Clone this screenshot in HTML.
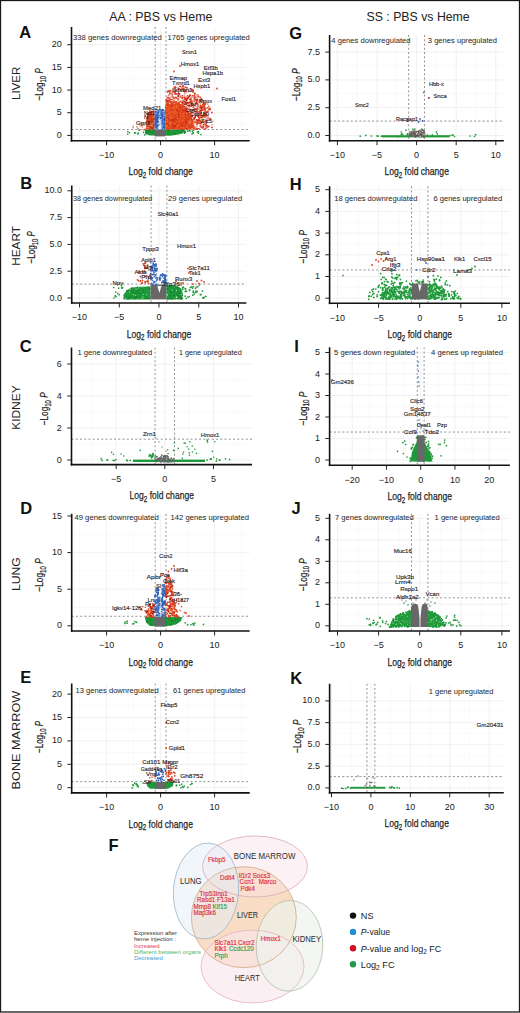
<!DOCTYPE html><html><head><meta charset="utf-8"><style>html,body{margin:0;padding:0;background:#fff;width:520px;height:1013px;overflow:hidden}svg{display:block}</style></head><body><svg width="520" height="1013" viewBox="0 0 520 1013" font-family="&quot;Liberation Sans&quot;, sans-serif">
<rect width="520" height="1013" fill="#fff"/>
<line x1="71.50" y1="124.06" x2="249.70" y2="124.06" stroke="#f5f5f5" stroke-width="0.6"/>
<line x1="71.50" y1="101.39" x2="249.70" y2="101.39" stroke="#f5f5f5" stroke-width="0.6"/>
<line x1="71.50" y1="78.71" x2="249.70" y2="78.71" stroke="#f5f5f5" stroke-width="0.6"/>
<line x1="71.50" y1="56.04" x2="249.70" y2="56.04" stroke="#f5f5f5" stroke-width="0.6"/>
<line x1="71.50" y1="33.36" x2="249.70" y2="33.36" stroke="#f5f5f5" stroke-width="0.6"/>
<line x1="79.60" y1="27.00" x2="79.60" y2="140.75" stroke="#f5f5f5" stroke-width="0.6"/>
<line x1="133.60" y1="27.00" x2="133.60" y2="140.75" stroke="#f5f5f5" stroke-width="0.6"/>
<line x1="187.60" y1="27.00" x2="187.60" y2="140.75" stroke="#f5f5f5" stroke-width="0.6"/>
<line x1="241.60" y1="27.00" x2="241.60" y2="140.75" stroke="#f5f5f5" stroke-width="0.6"/>
<line x1="71.50" y1="135.40" x2="249.70" y2="135.40" stroke="#eeeeee" stroke-width="0.8"/>
<line x1="71.50" y1="112.73" x2="249.70" y2="112.73" stroke="#eeeeee" stroke-width="0.8"/>
<line x1="71.50" y1="90.05" x2="249.70" y2="90.05" stroke="#eeeeee" stroke-width="0.8"/>
<line x1="71.50" y1="67.38" x2="249.70" y2="67.38" stroke="#eeeeee" stroke-width="0.8"/>
<line x1="71.50" y1="44.70" x2="249.70" y2="44.70" stroke="#eeeeee" stroke-width="0.8"/>
<line x1="106.60" y1="27.00" x2="106.60" y2="140.75" stroke="#eeeeee" stroke-width="0.8"/>
<line x1="160.60" y1="27.00" x2="160.60" y2="140.75" stroke="#eeeeee" stroke-width="0.8"/>
<line x1="214.60" y1="27.00" x2="214.60" y2="140.75" stroke="#eeeeee" stroke-width="0.8"/>
<line x1="71.75" y1="284.60" x2="246.30" y2="284.60" stroke="#f5f5f5" stroke-width="0.6"/>
<line x1="71.75" y1="257.80" x2="246.30" y2="257.80" stroke="#f5f5f5" stroke-width="0.6"/>
<line x1="71.75" y1="231.00" x2="246.30" y2="231.00" stroke="#f5f5f5" stroke-width="0.6"/>
<line x1="71.75" y1="204.20" x2="246.30" y2="204.20" stroke="#f5f5f5" stroke-width="0.6"/>
<line x1="99.38" y1="185.50" x2="99.38" y2="303.00" stroke="#f5f5f5" stroke-width="0.6"/>
<line x1="139.12" y1="185.50" x2="139.12" y2="303.00" stroke="#f5f5f5" stroke-width="0.6"/>
<line x1="178.88" y1="185.50" x2="178.88" y2="303.00" stroke="#f5f5f5" stroke-width="0.6"/>
<line x1="218.62" y1="185.50" x2="218.62" y2="303.00" stroke="#f5f5f5" stroke-width="0.6"/>
<line x1="71.75" y1="298.00" x2="246.30" y2="298.00" stroke="#eeeeee" stroke-width="0.8"/>
<line x1="71.75" y1="271.20" x2="246.30" y2="271.20" stroke="#eeeeee" stroke-width="0.8"/>
<line x1="71.75" y1="244.40" x2="246.30" y2="244.40" stroke="#eeeeee" stroke-width="0.8"/>
<line x1="71.75" y1="217.60" x2="246.30" y2="217.60" stroke="#eeeeee" stroke-width="0.8"/>
<line x1="71.75" y1="190.80" x2="246.30" y2="190.80" stroke="#eeeeee" stroke-width="0.8"/>
<line x1="79.50" y1="185.50" x2="79.50" y2="303.00" stroke="#eeeeee" stroke-width="0.8"/>
<line x1="119.25" y1="185.50" x2="119.25" y2="303.00" stroke="#eeeeee" stroke-width="0.8"/>
<line x1="159.00" y1="185.50" x2="159.00" y2="303.00" stroke="#eeeeee" stroke-width="0.8"/>
<line x1="198.75" y1="185.50" x2="198.75" y2="303.00" stroke="#eeeeee" stroke-width="0.8"/>
<line x1="238.50" y1="185.50" x2="238.50" y2="303.00" stroke="#eeeeee" stroke-width="0.8"/>
<line x1="71.50" y1="444.00" x2="252.00" y2="444.00" stroke="#f5f5f5" stroke-width="0.6"/>
<line x1="71.50" y1="412.00" x2="252.00" y2="412.00" stroke="#f5f5f5" stroke-width="0.6"/>
<line x1="71.50" y1="380.00" x2="252.00" y2="380.00" stroke="#f5f5f5" stroke-width="0.6"/>
<line x1="91.83" y1="347.50" x2="91.83" y2="464.60" stroke="#f5f5f5" stroke-width="0.6"/>
<line x1="140.48" y1="347.50" x2="140.48" y2="464.60" stroke="#f5f5f5" stroke-width="0.6"/>
<line x1="189.12" y1="347.50" x2="189.12" y2="464.60" stroke="#f5f5f5" stroke-width="0.6"/>
<line x1="237.78" y1="347.50" x2="237.78" y2="464.60" stroke="#f5f5f5" stroke-width="0.6"/>
<line x1="71.50" y1="460.00" x2="252.00" y2="460.00" stroke="#eeeeee" stroke-width="0.8"/>
<line x1="71.50" y1="428.00" x2="252.00" y2="428.00" stroke="#eeeeee" stroke-width="0.8"/>
<line x1="71.50" y1="396.00" x2="252.00" y2="396.00" stroke="#eeeeee" stroke-width="0.8"/>
<line x1="71.50" y1="364.00" x2="252.00" y2="364.00" stroke="#eeeeee" stroke-width="0.8"/>
<line x1="116.15" y1="347.50" x2="116.15" y2="464.60" stroke="#eeeeee" stroke-width="0.8"/>
<line x1="164.80" y1="347.50" x2="164.80" y2="464.60" stroke="#eeeeee" stroke-width="0.8"/>
<line x1="213.45" y1="347.50" x2="213.45" y2="464.60" stroke="#eeeeee" stroke-width="0.8"/>
<line x1="71.70" y1="607.50" x2="249.70" y2="607.50" stroke="#f5f5f5" stroke-width="0.6"/>
<line x1="71.70" y1="570.90" x2="249.70" y2="570.90" stroke="#f5f5f5" stroke-width="0.6"/>
<line x1="71.70" y1="534.30" x2="249.70" y2="534.30" stroke="#f5f5f5" stroke-width="0.6"/>
<line x1="79.60" y1="513.75" x2="79.60" y2="631.00" stroke="#f5f5f5" stroke-width="0.6"/>
<line x1="133.60" y1="513.75" x2="133.60" y2="631.00" stroke="#f5f5f5" stroke-width="0.6"/>
<line x1="187.60" y1="513.75" x2="187.60" y2="631.00" stroke="#f5f5f5" stroke-width="0.6"/>
<line x1="241.60" y1="513.75" x2="241.60" y2="631.00" stroke="#f5f5f5" stroke-width="0.6"/>
<line x1="71.70" y1="625.80" x2="249.70" y2="625.80" stroke="#eeeeee" stroke-width="0.8"/>
<line x1="71.70" y1="589.20" x2="249.70" y2="589.20" stroke="#eeeeee" stroke-width="0.8"/>
<line x1="71.70" y1="552.60" x2="249.70" y2="552.60" stroke="#eeeeee" stroke-width="0.8"/>
<line x1="71.70" y1="516.00" x2="249.70" y2="516.00" stroke="#eeeeee" stroke-width="0.8"/>
<line x1="106.60" y1="513.75" x2="106.60" y2="631.00" stroke="#eeeeee" stroke-width="0.8"/>
<line x1="160.60" y1="513.75" x2="160.60" y2="631.00" stroke="#eeeeee" stroke-width="0.8"/>
<line x1="214.60" y1="513.75" x2="214.60" y2="631.00" stroke="#eeeeee" stroke-width="0.8"/>
<line x1="71.70" y1="776.00" x2="249.70" y2="776.00" stroke="#f5f5f5" stroke-width="0.6"/>
<line x1="71.70" y1="752.60" x2="249.70" y2="752.60" stroke="#f5f5f5" stroke-width="0.6"/>
<line x1="71.70" y1="729.20" x2="249.70" y2="729.20" stroke="#f5f5f5" stroke-width="0.6"/>
<line x1="71.70" y1="705.80" x2="249.70" y2="705.80" stroke="#f5f5f5" stroke-width="0.6"/>
<line x1="79.60" y1="683.50" x2="79.60" y2="792.90" stroke="#f5f5f5" stroke-width="0.6"/>
<line x1="133.60" y1="683.50" x2="133.60" y2="792.90" stroke="#f5f5f5" stroke-width="0.6"/>
<line x1="187.60" y1="683.50" x2="187.60" y2="792.90" stroke="#f5f5f5" stroke-width="0.6"/>
<line x1="241.60" y1="683.50" x2="241.60" y2="792.90" stroke="#f5f5f5" stroke-width="0.6"/>
<line x1="71.70" y1="787.70" x2="249.70" y2="787.70" stroke="#eeeeee" stroke-width="0.8"/>
<line x1="71.70" y1="764.30" x2="249.70" y2="764.30" stroke="#eeeeee" stroke-width="0.8"/>
<line x1="71.70" y1="740.90" x2="249.70" y2="740.90" stroke="#eeeeee" stroke-width="0.8"/>
<line x1="71.70" y1="717.50" x2="249.70" y2="717.50" stroke="#eeeeee" stroke-width="0.8"/>
<line x1="71.70" y1="694.10" x2="249.70" y2="694.10" stroke="#eeeeee" stroke-width="0.8"/>
<line x1="106.60" y1="683.50" x2="106.60" y2="792.90" stroke="#eeeeee" stroke-width="0.8"/>
<line x1="160.60" y1="683.50" x2="160.60" y2="792.90" stroke="#eeeeee" stroke-width="0.8"/>
<line x1="214.60" y1="683.50" x2="214.60" y2="792.90" stroke="#eeeeee" stroke-width="0.8"/>
<line x1="329.60" y1="121.60" x2="503.80" y2="121.60" stroke="#f5f5f5" stroke-width="0.6"/>
<line x1="329.60" y1="93.80" x2="503.80" y2="93.80" stroke="#f5f5f5" stroke-width="0.6"/>
<line x1="329.60" y1="66.00" x2="503.80" y2="66.00" stroke="#f5f5f5" stroke-width="0.6"/>
<line x1="329.60" y1="38.20" x2="503.80" y2="38.20" stroke="#f5f5f5" stroke-width="0.6"/>
<line x1="357.20" y1="35.00" x2="357.20" y2="140.70" stroke="#f5f5f5" stroke-width="0.6"/>
<line x1="396.80" y1="35.00" x2="396.80" y2="140.70" stroke="#f5f5f5" stroke-width="0.6"/>
<line x1="436.40" y1="35.00" x2="436.40" y2="140.70" stroke="#f5f5f5" stroke-width="0.6"/>
<line x1="476.00" y1="35.00" x2="476.00" y2="140.70" stroke="#f5f5f5" stroke-width="0.6"/>
<line x1="329.60" y1="135.50" x2="503.80" y2="135.50" stroke="#eeeeee" stroke-width="0.8"/>
<line x1="329.60" y1="107.70" x2="503.80" y2="107.70" stroke="#eeeeee" stroke-width="0.8"/>
<line x1="329.60" y1="79.90" x2="503.80" y2="79.90" stroke="#eeeeee" stroke-width="0.8"/>
<line x1="329.60" y1="52.10" x2="503.80" y2="52.10" stroke="#eeeeee" stroke-width="0.8"/>
<line x1="337.40" y1="35.00" x2="337.40" y2="140.70" stroke="#eeeeee" stroke-width="0.8"/>
<line x1="377.00" y1="35.00" x2="377.00" y2="140.70" stroke="#eeeeee" stroke-width="0.8"/>
<line x1="416.60" y1="35.00" x2="416.60" y2="140.70" stroke="#eeeeee" stroke-width="0.8"/>
<line x1="456.20" y1="35.00" x2="456.20" y2="140.70" stroke="#eeeeee" stroke-width="0.8"/>
<line x1="495.80" y1="35.00" x2="495.80" y2="140.70" stroke="#eeeeee" stroke-width="0.8"/>
<line x1="329.60" y1="287.35" x2="509.90" y2="287.35" stroke="#f5f5f5" stroke-width="0.6"/>
<line x1="329.60" y1="265.65" x2="509.90" y2="265.65" stroke="#f5f5f5" stroke-width="0.6"/>
<line x1="329.60" y1="243.95" x2="509.90" y2="243.95" stroke="#f5f5f5" stroke-width="0.6"/>
<line x1="329.60" y1="222.25" x2="509.90" y2="222.25" stroke="#f5f5f5" stroke-width="0.6"/>
<line x1="329.60" y1="200.55" x2="509.90" y2="200.55" stroke="#f5f5f5" stroke-width="0.6"/>
<line x1="358.05" y1="186.25" x2="358.05" y2="303.30" stroke="#f5f5f5" stroke-width="0.6"/>
<line x1="399.15" y1="186.25" x2="399.15" y2="303.30" stroke="#f5f5f5" stroke-width="0.6"/>
<line x1="440.25" y1="186.25" x2="440.25" y2="303.30" stroke="#f5f5f5" stroke-width="0.6"/>
<line x1="481.35" y1="186.25" x2="481.35" y2="303.30" stroke="#f5f5f5" stroke-width="0.6"/>
<line x1="329.60" y1="298.20" x2="509.90" y2="298.20" stroke="#eeeeee" stroke-width="0.8"/>
<line x1="329.60" y1="276.50" x2="509.90" y2="276.50" stroke="#eeeeee" stroke-width="0.8"/>
<line x1="329.60" y1="254.80" x2="509.90" y2="254.80" stroke="#eeeeee" stroke-width="0.8"/>
<line x1="329.60" y1="233.10" x2="509.90" y2="233.10" stroke="#eeeeee" stroke-width="0.8"/>
<line x1="329.60" y1="211.40" x2="509.90" y2="211.40" stroke="#eeeeee" stroke-width="0.8"/>
<line x1="329.60" y1="189.70" x2="509.90" y2="189.70" stroke="#eeeeee" stroke-width="0.8"/>
<line x1="337.50" y1="186.25" x2="337.50" y2="303.30" stroke="#eeeeee" stroke-width="0.8"/>
<line x1="378.60" y1="186.25" x2="378.60" y2="303.30" stroke="#eeeeee" stroke-width="0.8"/>
<line x1="419.70" y1="186.25" x2="419.70" y2="303.30" stroke="#eeeeee" stroke-width="0.8"/>
<line x1="460.80" y1="186.25" x2="460.80" y2="303.30" stroke="#eeeeee" stroke-width="0.8"/>
<line x1="501.90" y1="186.25" x2="501.90" y2="303.30" stroke="#eeeeee" stroke-width="0.8"/>
<line x1="329.60" y1="449.25" x2="509.90" y2="449.25" stroke="#f5f5f5" stroke-width="0.6"/>
<line x1="329.60" y1="427.75" x2="509.90" y2="427.75" stroke="#f5f5f5" stroke-width="0.6"/>
<line x1="329.60" y1="406.25" x2="509.90" y2="406.25" stroke="#f5f5f5" stroke-width="0.6"/>
<line x1="329.60" y1="384.75" x2="509.90" y2="384.75" stroke="#f5f5f5" stroke-width="0.6"/>
<line x1="329.60" y1="363.25" x2="509.90" y2="363.25" stroke="#f5f5f5" stroke-width="0.6"/>
<line x1="335.07" y1="347.30" x2="335.07" y2="465.20" stroke="#f5f5f5" stroke-width="0.6"/>
<line x1="369.32" y1="347.30" x2="369.32" y2="465.20" stroke="#f5f5f5" stroke-width="0.6"/>
<line x1="403.57" y1="347.30" x2="403.57" y2="465.20" stroke="#f5f5f5" stroke-width="0.6"/>
<line x1="437.82" y1="347.30" x2="437.82" y2="465.20" stroke="#f5f5f5" stroke-width="0.6"/>
<line x1="472.07" y1="347.30" x2="472.07" y2="465.20" stroke="#f5f5f5" stroke-width="0.6"/>
<line x1="329.60" y1="460.00" x2="509.90" y2="460.00" stroke="#eeeeee" stroke-width="0.8"/>
<line x1="329.60" y1="438.50" x2="509.90" y2="438.50" stroke="#eeeeee" stroke-width="0.8"/>
<line x1="329.60" y1="417.00" x2="509.90" y2="417.00" stroke="#eeeeee" stroke-width="0.8"/>
<line x1="329.60" y1="395.50" x2="509.90" y2="395.50" stroke="#eeeeee" stroke-width="0.8"/>
<line x1="329.60" y1="374.00" x2="509.90" y2="374.00" stroke="#eeeeee" stroke-width="0.8"/>
<line x1="329.60" y1="352.50" x2="509.90" y2="352.50" stroke="#eeeeee" stroke-width="0.8"/>
<line x1="352.20" y1="347.30" x2="352.20" y2="465.20" stroke="#eeeeee" stroke-width="0.8"/>
<line x1="386.45" y1="347.30" x2="386.45" y2="465.20" stroke="#eeeeee" stroke-width="0.8"/>
<line x1="420.70" y1="347.30" x2="420.70" y2="465.20" stroke="#eeeeee" stroke-width="0.8"/>
<line x1="454.95" y1="347.30" x2="454.95" y2="465.20" stroke="#eeeeee" stroke-width="0.8"/>
<line x1="489.20" y1="347.30" x2="489.20" y2="465.20" stroke="#eeeeee" stroke-width="0.8"/>
<line x1="329.60" y1="615.05" x2="509.90" y2="615.05" stroke="#f5f5f5" stroke-width="0.6"/>
<line x1="329.60" y1="593.55" x2="509.90" y2="593.55" stroke="#f5f5f5" stroke-width="0.6"/>
<line x1="329.60" y1="572.05" x2="509.90" y2="572.05" stroke="#f5f5f5" stroke-width="0.6"/>
<line x1="329.60" y1="550.55" x2="509.90" y2="550.55" stroke="#f5f5f5" stroke-width="0.6"/>
<line x1="329.60" y1="529.05" x2="509.90" y2="529.05" stroke="#f5f5f5" stroke-width="0.6"/>
<line x1="358.05" y1="513.75" x2="358.05" y2="631.00" stroke="#f5f5f5" stroke-width="0.6"/>
<line x1="399.15" y1="513.75" x2="399.15" y2="631.00" stroke="#f5f5f5" stroke-width="0.6"/>
<line x1="440.25" y1="513.75" x2="440.25" y2="631.00" stroke="#f5f5f5" stroke-width="0.6"/>
<line x1="481.35" y1="513.75" x2="481.35" y2="631.00" stroke="#f5f5f5" stroke-width="0.6"/>
<line x1="329.60" y1="625.80" x2="509.90" y2="625.80" stroke="#eeeeee" stroke-width="0.8"/>
<line x1="329.60" y1="604.30" x2="509.90" y2="604.30" stroke="#eeeeee" stroke-width="0.8"/>
<line x1="329.60" y1="582.80" x2="509.90" y2="582.80" stroke="#eeeeee" stroke-width="0.8"/>
<line x1="329.60" y1="561.30" x2="509.90" y2="561.30" stroke="#eeeeee" stroke-width="0.8"/>
<line x1="329.60" y1="539.80" x2="509.90" y2="539.80" stroke="#eeeeee" stroke-width="0.8"/>
<line x1="329.60" y1="518.30" x2="509.90" y2="518.30" stroke="#eeeeee" stroke-width="0.8"/>
<line x1="337.50" y1="513.75" x2="337.50" y2="631.00" stroke="#eeeeee" stroke-width="0.8"/>
<line x1="378.60" y1="513.75" x2="378.60" y2="631.00" stroke="#eeeeee" stroke-width="0.8"/>
<line x1="419.70" y1="513.75" x2="419.70" y2="631.00" stroke="#eeeeee" stroke-width="0.8"/>
<line x1="460.80" y1="513.75" x2="460.80" y2="631.00" stroke="#eeeeee" stroke-width="0.8"/>
<line x1="501.90" y1="513.75" x2="501.90" y2="631.00" stroke="#eeeeee" stroke-width="0.8"/>
<line x1="329.60" y1="777.02" x2="503.80" y2="777.02" stroke="#f5f5f5" stroke-width="0.6"/>
<line x1="329.60" y1="755.27" x2="503.80" y2="755.27" stroke="#f5f5f5" stroke-width="0.6"/>
<line x1="329.60" y1="733.52" x2="503.80" y2="733.52" stroke="#f5f5f5" stroke-width="0.6"/>
<line x1="329.60" y1="711.77" x2="503.80" y2="711.77" stroke="#f5f5f5" stroke-width="0.6"/>
<line x1="351.19" y1="683.75" x2="351.19" y2="792.80" stroke="#f5f5f5" stroke-width="0.6"/>
<line x1="390.61" y1="683.75" x2="390.61" y2="792.80" stroke="#f5f5f5" stroke-width="0.6"/>
<line x1="430.04" y1="683.75" x2="430.04" y2="792.80" stroke="#f5f5f5" stroke-width="0.6"/>
<line x1="469.47" y1="683.75" x2="469.47" y2="792.80" stroke="#f5f5f5" stroke-width="0.6"/>
<line x1="329.60" y1="787.90" x2="503.80" y2="787.90" stroke="#eeeeee" stroke-width="0.8"/>
<line x1="329.60" y1="766.15" x2="503.80" y2="766.15" stroke="#eeeeee" stroke-width="0.8"/>
<line x1="329.60" y1="744.40" x2="503.80" y2="744.40" stroke="#eeeeee" stroke-width="0.8"/>
<line x1="329.60" y1="722.65" x2="503.80" y2="722.65" stroke="#eeeeee" stroke-width="0.8"/>
<line x1="329.60" y1="700.90" x2="503.80" y2="700.90" stroke="#eeeeee" stroke-width="0.8"/>
<line x1="331.47" y1="683.75" x2="331.47" y2="792.80" stroke="#eeeeee" stroke-width="0.8"/>
<line x1="370.90" y1="683.75" x2="370.90" y2="792.80" stroke="#eeeeee" stroke-width="0.8"/>
<line x1="410.33" y1="683.75" x2="410.33" y2="792.80" stroke="#eeeeee" stroke-width="0.8"/>
<line x1="449.76" y1="683.75" x2="449.76" y2="792.80" stroke="#eeeeee" stroke-width="0.8"/>
<line x1="489.19" y1="683.75" x2="489.19" y2="792.80" stroke="#eeeeee" stroke-width="0.8"/>
<line x1="71.50" y1="129.50" x2="249.70" y2="129.50" stroke="#777777" stroke-width="0.8" stroke-dasharray="2,2.25"/>
<line x1="155.20" y1="27.00" x2="155.20" y2="140.75" stroke="#777777" stroke-width="0.8" stroke-dasharray="2,2.25"/>
<line x1="166.00" y1="27.00" x2="166.00" y2="140.75" stroke="#777777" stroke-width="0.8" stroke-dasharray="2,2.25"/>
<line x1="71.75" y1="284.06" x2="246.30" y2="284.06" stroke="#777777" stroke-width="0.8" stroke-dasharray="2,2.25"/>
<line x1="151.05" y1="185.50" x2="151.05" y2="303.00" stroke="#777777" stroke-width="0.8" stroke-dasharray="2,2.25"/>
<line x1="166.95" y1="185.50" x2="166.95" y2="303.00" stroke="#777777" stroke-width="0.8" stroke-dasharray="2,2.25"/>
<line x1="71.50" y1="439.20" x2="252.00" y2="439.20" stroke="#777777" stroke-width="0.8" stroke-dasharray="2,2.25"/>
<line x1="155.07" y1="347.50" x2="155.07" y2="464.60" stroke="#777777" stroke-width="0.8" stroke-dasharray="2,2.25"/>
<line x1="174.53" y1="347.50" x2="174.53" y2="464.60" stroke="#777777" stroke-width="0.8" stroke-dasharray="2,2.25"/>
<line x1="71.70" y1="616.28" x2="249.70" y2="616.28" stroke="#777777" stroke-width="0.8" stroke-dasharray="2,2.25"/>
<line x1="155.20" y1="513.75" x2="155.20" y2="631.00" stroke="#777777" stroke-width="0.8" stroke-dasharray="2,2.25"/>
<line x1="166.00" y1="513.75" x2="166.00" y2="631.00" stroke="#777777" stroke-width="0.8" stroke-dasharray="2,2.25"/>
<line x1="71.70" y1="781.62" x2="249.70" y2="781.62" stroke="#777777" stroke-width="0.8" stroke-dasharray="2,2.25"/>
<line x1="155.20" y1="683.50" x2="155.20" y2="792.90" stroke="#777777" stroke-width="0.8" stroke-dasharray="2,2.25"/>
<line x1="166.00" y1="683.50" x2="166.00" y2="792.90" stroke="#777777" stroke-width="0.8" stroke-dasharray="2,2.25"/>
<line x1="329.60" y1="121.04" x2="503.80" y2="121.04" stroke="#777777" stroke-width="0.8" stroke-dasharray="2,2.25"/>
<line x1="408.68" y1="35.00" x2="408.68" y2="140.70" stroke="#777777" stroke-width="0.8" stroke-dasharray="2,2.25"/>
<line x1="424.52" y1="35.00" x2="424.52" y2="140.70" stroke="#777777" stroke-width="0.8" stroke-dasharray="2,2.25"/>
<line x1="329.60" y1="269.99" x2="509.90" y2="269.99" stroke="#777777" stroke-width="0.8" stroke-dasharray="2,2.25"/>
<line x1="411.48" y1="186.25" x2="411.48" y2="303.30" stroke="#777777" stroke-width="0.8" stroke-dasharray="2,2.25"/>
<line x1="427.92" y1="186.25" x2="427.92" y2="303.30" stroke="#777777" stroke-width="0.8" stroke-dasharray="2,2.25"/>
<line x1="329.60" y1="432.05" x2="509.90" y2="432.05" stroke="#777777" stroke-width="0.8" stroke-dasharray="2,2.25"/>
<line x1="417.27" y1="347.30" x2="417.27" y2="465.20" stroke="#777777" stroke-width="0.8" stroke-dasharray="2,2.25"/>
<line x1="424.12" y1="347.30" x2="424.12" y2="465.20" stroke="#777777" stroke-width="0.8" stroke-dasharray="2,2.25"/>
<line x1="329.60" y1="597.85" x2="509.90" y2="597.85" stroke="#777777" stroke-width="0.8" stroke-dasharray="2,2.25"/>
<line x1="411.48" y1="513.75" x2="411.48" y2="631.00" stroke="#777777" stroke-width="0.8" stroke-dasharray="2,2.25"/>
<line x1="427.92" y1="513.75" x2="427.92" y2="631.00" stroke="#777777" stroke-width="0.8" stroke-dasharray="2,2.25"/>
<line x1="329.60" y1="776.59" x2="503.80" y2="776.59" stroke="#777777" stroke-width="0.8" stroke-dasharray="2,2.25"/>
<line x1="366.96" y1="683.75" x2="366.96" y2="792.80" stroke="#777777" stroke-width="0.8" stroke-dasharray="2,2.25"/>
<line x1="374.84" y1="683.75" x2="374.84" y2="792.80" stroke="#777777" stroke-width="0.8" stroke-dasharray="2,2.25"/>
<g fill="#1f9a3a"><circle cx="134.6" cy="132.8" r="0.85"/><circle cx="143.6" cy="132.3" r="0.85"/><circle cx="135.6" cy="132.9" r="0.85"/><circle cx="129.5" cy="132.6" r="0.85"/><circle cx="138.0" cy="134.0" r="0.85"/><circle cx="127.8" cy="131.5" r="0.85"/><circle cx="127.7" cy="134.0" r="0.85"/><circle cx="139.2" cy="130.2" r="0.85"/><circle cx="144.7" cy="134.8" r="0.85"/><circle cx="138.4" cy="133.1" r="0.85"/></g>
<g fill="#1f9a3a"><circle cx="187.5" cy="130.1" r="0.85"/><circle cx="193.5" cy="130.3" r="0.85"/><circle cx="188.0" cy="131.1" r="0.85"/><circle cx="185.5" cy="132.1" r="0.85"/><circle cx="192.0" cy="133.8" r="0.85"/><circle cx="193.3" cy="132.9" r="0.85"/><circle cx="193.0" cy="133.0" r="0.85"/><circle cx="192.3" cy="131.3" r="0.85"/><circle cx="201.0" cy="134.5" r="0.85"/><circle cx="198.4" cy="133.2" r="0.85"/><circle cx="190.0" cy="131.0" r="0.85"/><circle cx="189.6" cy="130.3" r="0.85"/><circle cx="197.3" cy="131.8" r="0.85"/><circle cx="198.5" cy="131.7" r="0.85"/></g>
<polygon points="145.0,129.4 185.0,129.4 184.5,132.0 180.0,134.3 170.0,135.8 150.0,135.6 146.0,134.0 145.0,131.5" fill="#1f9a3a"/>
<g fill="#168a30"><circle cx="184.3" cy="133.2" r="0.7"/><circle cx="145.0" cy="130.0" r="0.7"/><circle cx="182.3" cy="131.3" r="0.7"/><circle cx="185.2" cy="131.0" r="0.7"/><circle cx="148.0" cy="132.1" r="0.7"/><circle cx="176.9" cy="130.3" r="0.7"/><circle cx="148.6" cy="130.7" r="0.7"/><circle cx="184.5" cy="132.8" r="0.7"/><circle cx="149.8" cy="130.2" r="0.7"/><circle cx="149.1" cy="129.3" r="0.7"/><circle cx="177.7" cy="129.9" r="0.7"/><circle cx="167.9" cy="131.2" r="0.7"/><circle cx="152.8" cy="132.7" r="0.7"/><circle cx="150.4" cy="132.2" r="0.7"/><circle cx="149.8" cy="131.1" r="0.7"/><circle cx="153.7" cy="130.3" r="0.7"/><circle cx="184.8" cy="133.0" r="0.7"/><circle cx="157.5" cy="133.4" r="0.7"/><circle cx="153.6" cy="131.0" r="0.7"/><circle cx="180.0" cy="132.2" r="0.7"/><circle cx="149.1" cy="133.9" r="0.7"/><circle cx="153.7" cy="130.3" r="0.7"/><circle cx="176.7" cy="130.6" r="0.7"/><circle cx="157.1" cy="129.4" r="0.7"/><circle cx="148.7" cy="131.9" r="0.7"/><circle cx="155.0" cy="132.0" r="0.7"/><circle cx="160.2" cy="131.3" r="0.7"/><circle cx="184.3" cy="131.4" r="0.7"/><circle cx="168.6" cy="133.3" r="0.7"/><circle cx="152.5" cy="129.8" r="0.7"/><circle cx="182.2" cy="133.1" r="0.7"/><circle cx="155.2" cy="129.9" r="0.7"/><circle cx="175.3" cy="133.7" r="0.7"/><circle cx="153.1" cy="133.8" r="0.7"/><circle cx="181.2" cy="132.0" r="0.7"/><circle cx="162.3" cy="129.5" r="0.7"/><circle cx="146.6" cy="133.8" r="0.7"/><circle cx="154.8" cy="132.5" r="0.7"/><circle cx="155.5" cy="133.1" r="0.7"/><circle cx="169.5" cy="130.5" r="0.7"/><circle cx="152.2" cy="132.6" r="0.7"/><circle cx="147.8" cy="130.1" r="0.7"/><circle cx="167.9" cy="133.3" r="0.7"/><circle cx="170.2" cy="130.4" r="0.7"/><circle cx="182.6" cy="130.0" r="0.7"/><circle cx="145.7" cy="130.3" r="0.7"/><circle cx="163.3" cy="129.3" r="0.7"/><circle cx="152.2" cy="130.8" r="0.7"/><circle cx="168.5" cy="129.7" r="0.7"/><circle cx="159.8" cy="133.5" r="0.7"/><circle cx="185.2" cy="132.3" r="0.7"/><circle cx="173.3" cy="131.9" r="0.7"/><circle cx="150.8" cy="129.2" r="0.7"/><circle cx="145.7" cy="133.6" r="0.7"/><circle cx="173.7" cy="133.8" r="0.7"/><circle cx="145.9" cy="132.2" r="0.7"/><circle cx="164.8" cy="132.7" r="0.7"/><circle cx="158.1" cy="134.0" r="0.7"/><circle cx="148.1" cy="131.7" r="0.7"/><circle cx="175.2" cy="133.5" r="0.7"/></g>
<rect x="154.6" y="129.4" width="10.6" height="7.0" fill="#676767"/>
<g fill="#e0604a" fill-opacity="0.8"><circle cx="142.3" cy="127.1" r="0.8"/><circle cx="143.1" cy="129.9" r="0.8"/><circle cx="136.9" cy="126.9" r="0.8"/><circle cx="144.6" cy="129.3" r="0.8"/><circle cx="137.8" cy="128.3" r="0.8"/><circle cx="144.1" cy="125.4" r="0.8"/><circle cx="140.7" cy="123.0" r="0.8"/><circle cx="140.2" cy="125.9" r="0.8"/><circle cx="133.1" cy="126.3" r="0.8"/><circle cx="145.9" cy="129.4" r="0.8"/><circle cx="142.2" cy="123.0" r="0.8"/><circle cx="142.3" cy="125.6" r="0.8"/><circle cx="138.2" cy="128.9" r="0.8"/><circle cx="133.2" cy="127.8" r="0.8"/></g>
<polygon points="146.0,129.4 146.3,120.0 147.5,113.0 150.0,110.8 154.6,110.5 154.6,129.4" fill="#e24a1e"/>
<g fill="#c4301a"><circle cx="146.3" cy="121.9" r="0.8"/><circle cx="150.1" cy="114.9" r="0.8"/><circle cx="152.0" cy="119.9" r="0.8"/><circle cx="151.3" cy="127.9" r="0.8"/><circle cx="148.6" cy="123.3" r="0.8"/><circle cx="147.7" cy="113.7" r="0.8"/><circle cx="153.8" cy="123.0" r="0.8"/><circle cx="149.8" cy="127.4" r="0.8"/><circle cx="148.8" cy="123.1" r="0.8"/><circle cx="147.7" cy="118.6" r="0.8"/><circle cx="152.9" cy="127.8" r="0.8"/><circle cx="153.6" cy="117.8" r="0.8"/><circle cx="151.0" cy="116.5" r="0.8"/><circle cx="147.2" cy="119.9" r="0.8"/><circle cx="153.2" cy="126.5" r="0.8"/><circle cx="152.1" cy="128.5" r="0.8"/><circle cx="148.4" cy="113.7" r="0.8"/><circle cx="149.9" cy="115.7" r="0.8"/><circle cx="147.8" cy="118.3" r="0.8"/><circle cx="151.4" cy="119.8" r="0.8"/><circle cx="148.7" cy="126.4" r="0.8"/><circle cx="154.4" cy="119.1" r="0.8"/><circle cx="153.5" cy="111.3" r="0.8"/><circle cx="152.1" cy="121.3" r="0.8"/><circle cx="148.7" cy="125.5" r="0.8"/><circle cx="149.9" cy="111.0" r="0.8"/><circle cx="153.1" cy="115.0" r="0.8"/><circle cx="151.4" cy="118.9" r="0.8"/><circle cx="151.4" cy="122.9" r="0.8"/><circle cx="152.9" cy="128.6" r="0.8"/><circle cx="151.9" cy="114.3" r="0.8"/><circle cx="150.1" cy="113.9" r="0.8"/><circle cx="152.1" cy="113.9" r="0.8"/><circle cx="148.3" cy="117.0" r="0.8"/><circle cx="152.0" cy="120.3" r="0.8"/><circle cx="151.3" cy="124.8" r="0.8"/><circle cx="149.4" cy="125.5" r="0.8"/><circle cx="153.8" cy="112.1" r="0.8"/><circle cx="154.0" cy="124.2" r="0.8"/><circle cx="147.1" cy="119.1" r="0.8"/><circle cx="151.4" cy="127.7" r="0.8"/><circle cx="149.2" cy="121.3" r="0.8"/><circle cx="153.6" cy="125.6" r="0.8"/><circle cx="154.1" cy="119.3" r="0.8"/><circle cx="151.6" cy="114.4" r="0.8"/></g>
<g fill="#f08a60"><circle cx="152.2" cy="126.0" r="0.7"/><circle cx="151.5" cy="124.1" r="0.7"/><circle cx="147.8" cy="127.5" r="0.7"/><circle cx="154.4" cy="129.0" r="0.7"/><circle cx="150.6" cy="125.4" r="0.7"/><circle cx="148.8" cy="127.7" r="0.7"/><circle cx="153.4" cy="117.1" r="0.7"/><circle cx="146.7" cy="118.8" r="0.7"/><circle cx="150.7" cy="125.0" r="0.7"/><circle cx="150.2" cy="111.0" r="0.7"/><circle cx="153.0" cy="111.7" r="0.7"/><circle cx="152.9" cy="113.8" r="0.7"/><circle cx="148.9" cy="125.4" r="0.7"/><circle cx="150.4" cy="124.2" r="0.7"/><circle cx="153.2" cy="123.5" r="0.7"/></g>
<polygon points="154.6,129.4 154.6,111.0 157.0,109.5 160.0,110.5 163.0,109.0 165.3,110.5 165.3,129.4" fill="#3d6cc0"/>
<polygon points="158.0,129.2 158.2,118.0 159.6,110.5 161.2,118.0 161.8,129.2" fill="#c4d6f0"/>
<polygon points="158.9,129.2 159.1,120.0 159.6,114.0 160.2,120.0 160.6,129.2" fill="#eef3fb"/>
<g fill="#2a55a8"><circle cx="164.7" cy="119.0" r="0.75"/><circle cx="164.8" cy="110.8" r="0.75"/><circle cx="157.0" cy="119.7" r="0.75"/><circle cx="157.7" cy="123.9" r="0.75"/><circle cx="161.4" cy="119.7" r="0.75"/><circle cx="163.6" cy="120.4" r="0.75"/><circle cx="157.9" cy="116.8" r="0.75"/><circle cx="163.6" cy="127.4" r="0.75"/><circle cx="156.8" cy="126.4" r="0.75"/><circle cx="165.0" cy="119.7" r="0.75"/><circle cx="160.7" cy="113.1" r="0.75"/><circle cx="160.3" cy="119.3" r="0.75"/><circle cx="165.0" cy="119.5" r="0.75"/><circle cx="158.9" cy="125.3" r="0.75"/><circle cx="160.6" cy="119.0" r="0.75"/><circle cx="162.0" cy="110.3" r="0.75"/><circle cx="160.4" cy="117.4" r="0.75"/><circle cx="164.8" cy="127.8" r="0.75"/><circle cx="157.5" cy="118.7" r="0.75"/><circle cx="156.0" cy="117.8" r="0.75"/><circle cx="163.3" cy="127.4" r="0.75"/><circle cx="159.7" cy="115.5" r="0.75"/><circle cx="156.6" cy="121.6" r="0.75"/><circle cx="164.5" cy="111.6" r="0.75"/><circle cx="162.9" cy="109.5" r="0.75"/><circle cx="156.7" cy="113.6" r="0.75"/><circle cx="162.0" cy="115.6" r="0.75"/><circle cx="158.4" cy="121.6" r="0.75"/><circle cx="155.7" cy="123.9" r="0.75"/><circle cx="155.9" cy="119.4" r="0.75"/><circle cx="157.3" cy="113.0" r="0.75"/><circle cx="160.3" cy="117.9" r="0.75"/><circle cx="158.6" cy="117.4" r="0.75"/><circle cx="160.3" cy="112.3" r="0.75"/><circle cx="156.8" cy="121.9" r="0.75"/></g>
<g fill="#9dbbe8"><circle cx="161.4" cy="119.8" r="0.7"/><circle cx="163.7" cy="121.5" r="0.7"/><circle cx="163.8" cy="113.7" r="0.7"/><circle cx="162.5" cy="125.5" r="0.7"/><circle cx="164.3" cy="115.4" r="0.7"/><circle cx="158.0" cy="127.8" r="0.7"/><circle cx="156.9" cy="129.4" r="0.7"/><circle cx="164.1" cy="111.7" r="0.7"/><circle cx="157.2" cy="123.8" r="0.7"/><circle cx="157.4" cy="111.0" r="0.7"/><circle cx="163.5" cy="117.6" r="0.7"/><circle cx="163.1" cy="111.6" r="0.7"/><circle cx="158.9" cy="123.0" r="0.7"/><circle cx="154.8" cy="113.1" r="0.7"/><circle cx="161.9" cy="127.6" r="0.7"/><circle cx="165.0" cy="111.4" r="0.7"/><circle cx="160.0" cy="124.5" r="0.7"/><circle cx="160.0" cy="123.0" r="0.7"/><circle cx="156.6" cy="110.4" r="0.7"/><circle cx="160.5" cy="119.5" r="0.7"/><circle cx="160.7" cy="112.0" r="0.7"/><circle cx="156.6" cy="113.2" r="0.7"/><circle cx="163.6" cy="129.2" r="0.7"/><circle cx="164.5" cy="110.9" r="0.7"/><circle cx="155.3" cy="128.4" r="0.7"/></g>
<g fill="#dc4420"><circle cx="184.6" cy="119.1" r="0.95"/><circle cx="184.8" cy="108.1" r="0.95"/><circle cx="194.6" cy="122.6" r="0.95"/><circle cx="184.3" cy="118.0" r="0.95"/><circle cx="198.8" cy="116.4" r="0.95"/><circle cx="191.6" cy="103.3" r="0.95"/><circle cx="196.4" cy="119.7" r="0.95"/><circle cx="202.0" cy="116.0" r="0.95"/><circle cx="197.2" cy="103.3" r="0.95"/><circle cx="168.3" cy="100.5" r="0.95"/><circle cx="192.0" cy="112.9" r="0.95"/><circle cx="204.7" cy="114.7" r="0.95"/><circle cx="192.8" cy="110.5" r="0.95"/><circle cx="192.1" cy="116.3" r="0.95"/><circle cx="191.0" cy="117.9" r="0.95"/><circle cx="182.1" cy="87.7" r="0.95"/><circle cx="181.0" cy="89.8" r="0.95"/><circle cx="203.1" cy="109.6" r="0.95"/><circle cx="191.9" cy="121.0" r="0.95"/><circle cx="190.3" cy="118.8" r="0.95"/><circle cx="204.7" cy="104.0" r="0.95"/><circle cx="190.3" cy="101.5" r="0.95"/><circle cx="192.7" cy="110.1" r="0.95"/><circle cx="195.2" cy="98.5" r="0.95"/><circle cx="175.6" cy="87.4" r="0.95"/><circle cx="196.8" cy="102.6" r="0.95"/><circle cx="206.5" cy="127.0" r="0.95"/><circle cx="203.1" cy="104.4" r="0.95"/><circle cx="187.2" cy="126.6" r="0.95"/><circle cx="199.4" cy="112.0" r="0.95"/><circle cx="191.4" cy="105.5" r="0.95"/><circle cx="170.6" cy="104.9" r="0.95"/><circle cx="184.4" cy="97.0" r="0.95"/><circle cx="182.9" cy="119.7" r="0.95"/><circle cx="206.9" cy="127.3" r="0.95"/><circle cx="198.0" cy="112.9" r="0.95"/><circle cx="176.7" cy="115.6" r="0.95"/><circle cx="190.0" cy="113.3" r="0.95"/><circle cx="203.5" cy="124.1" r="0.95"/><circle cx="167.9" cy="97.4" r="0.95"/><circle cx="193.5" cy="109.7" r="0.95"/><circle cx="180.9" cy="106.5" r="0.95"/><circle cx="179.7" cy="118.2" r="0.95"/><circle cx="191.3" cy="119.2" r="0.95"/><circle cx="178.9" cy="109.6" r="0.95"/><circle cx="203.7" cy="104.3" r="0.95"/><circle cx="188.9" cy="106.8" r="0.95"/><circle cx="168.8" cy="98.8" r="0.95"/><circle cx="194.3" cy="97.9" r="0.95"/><circle cx="180.3" cy="117.4" r="0.95"/><circle cx="189.1" cy="125.8" r="0.95"/><circle cx="203.4" cy="104.7" r="0.95"/><circle cx="178.1" cy="99.4" r="0.95"/><circle cx="204.3" cy="124.8" r="0.95"/><circle cx="180.4" cy="101.5" r="0.95"/><circle cx="181.9" cy="102.5" r="0.95"/><circle cx="188.9" cy="120.5" r="0.95"/><circle cx="200.2" cy="110.2" r="0.95"/><circle cx="197.0" cy="124.2" r="0.95"/><circle cx="192.5" cy="120.8" r="0.95"/><circle cx="188.1" cy="120.1" r="0.95"/><circle cx="192.4" cy="96.3" r="0.95"/><circle cx="197.2" cy="108.4" r="0.95"/><circle cx="193.4" cy="107.2" r="0.95"/><circle cx="195.4" cy="116.6" r="0.95"/><circle cx="182.5" cy="121.8" r="0.95"/><circle cx="200.9" cy="120.9" r="0.95"/><circle cx="202.4" cy="127.5" r="0.95"/><circle cx="187.2" cy="116.7" r="0.95"/><circle cx="182.9" cy="104.0" r="0.95"/><circle cx="196.2" cy="129.0" r="0.95"/><circle cx="172.4" cy="94.5" r="0.95"/><circle cx="167.9" cy="99.0" r="0.95"/><circle cx="192.4" cy="119.6" r="0.95"/><circle cx="168.0" cy="105.6" r="0.95"/><circle cx="169.9" cy="93.6" r="0.95"/><circle cx="190.1" cy="95.3" r="0.95"/><circle cx="178.4" cy="109.6" r="0.95"/><circle cx="188.2" cy="127.5" r="0.95"/><circle cx="198.7" cy="102.4" r="0.95"/><circle cx="192.8" cy="95.9" r="0.95"/><circle cx="185.1" cy="101.8" r="0.95"/><circle cx="195.1" cy="112.1" r="0.95"/><circle cx="171.9" cy="99.6" r="0.95"/><circle cx="201.6" cy="108.2" r="0.95"/><circle cx="200.6" cy="121.6" r="0.95"/><circle cx="169.4" cy="106.6" r="0.95"/><circle cx="205.1" cy="111.3" r="0.95"/><circle cx="174.1" cy="109.4" r="0.95"/><circle cx="178.4" cy="99.1" r="0.95"/><circle cx="178.1" cy="106.0" r="0.95"/><circle cx="180.4" cy="115.7" r="0.95"/><circle cx="199.9" cy="114.2" r="0.95"/><circle cx="181.1" cy="116.7" r="0.95"/><circle cx="188.9" cy="105.6" r="0.95"/><circle cx="206.7" cy="120.6" r="0.95"/><circle cx="191.0" cy="98.2" r="0.95"/><circle cx="187.9" cy="98.6" r="0.95"/><circle cx="181.7" cy="114.8" r="0.95"/><circle cx="188.8" cy="117.3" r="0.95"/><circle cx="194.9" cy="93.4" r="0.95"/><circle cx="200.2" cy="111.5" r="0.95"/><circle cx="174.8" cy="92.4" r="0.95"/><circle cx="183.2" cy="108.0" r="0.95"/><circle cx="197.3" cy="121.5" r="0.95"/><circle cx="179.2" cy="103.6" r="0.95"/><circle cx="198.3" cy="114.5" r="0.95"/><circle cx="166.2" cy="100.0" r="0.95"/><circle cx="192.5" cy="90.2" r="0.95"/><circle cx="186.6" cy="120.1" r="0.95"/><circle cx="203.0" cy="109.6" r="0.95"/><circle cx="195.2" cy="122.2" r="0.95"/><circle cx="204.7" cy="113.0" r="0.95"/><circle cx="194.4" cy="100.0" r="0.95"/><circle cx="180.4" cy="105.8" r="0.95"/><circle cx="203.0" cy="109.4" r="0.95"/><circle cx="188.7" cy="97.1" r="0.95"/><circle cx="206.7" cy="121.4" r="0.95"/><circle cx="175.4" cy="110.7" r="0.95"/><circle cx="173.1" cy="109.6" r="0.95"/><circle cx="206.5" cy="126.7" r="0.95"/><circle cx="178.2" cy="115.0" r="0.95"/><circle cx="181.3" cy="111.5" r="0.95"/><circle cx="184.9" cy="91.8" r="0.95"/><circle cx="176.4" cy="110.4" r="0.95"/><circle cx="190.4" cy="106.1" r="0.95"/><circle cx="191.4" cy="115.8" r="0.95"/><circle cx="200.3" cy="123.0" r="0.95"/><circle cx="183.5" cy="110.3" r="0.95"/><circle cx="187.3" cy="108.5" r="0.95"/><circle cx="202.8" cy="117.6" r="0.95"/><circle cx="196.7" cy="98.9" r="0.95"/><circle cx="168.3" cy="91.0" r="0.95"/><circle cx="186.3" cy="102.9" r="0.95"/><circle cx="194.3" cy="108.6" r="0.95"/><circle cx="178.1" cy="102.9" r="0.95"/><circle cx="205.6" cy="114.7" r="0.95"/><circle cx="182.9" cy="120.9" r="0.95"/><circle cx="196.5" cy="110.4" r="0.95"/><circle cx="177.8" cy="99.8" r="0.95"/><circle cx="202.6" cy="121.3" r="0.95"/><circle cx="180.2" cy="111.2" r="0.95"/><circle cx="178.2" cy="107.4" r="0.95"/><circle cx="174.0" cy="98.5" r="0.95"/><circle cx="200.3" cy="101.0" r="0.95"/><circle cx="195.6" cy="99.2" r="0.95"/><circle cx="201.6" cy="116.8" r="0.95"/><circle cx="194.4" cy="126.7" r="0.95"/><circle cx="168.7" cy="95.3" r="0.95"/><circle cx="195.0" cy="94.1" r="0.95"/><circle cx="175.2" cy="114.7" r="0.95"/><circle cx="180.9" cy="114.6" r="0.95"/><circle cx="189.9" cy="95.6" r="0.95"/><circle cx="204.0" cy="114.8" r="0.95"/><circle cx="183.7" cy="108.7" r="0.95"/><circle cx="169.0" cy="98.0" r="0.95"/><circle cx="175.6" cy="97.8" r="0.95"/><circle cx="184.6" cy="118.5" r="0.95"/><circle cx="204.1" cy="107.4" r="0.95"/><circle cx="188.5" cy="113.8" r="0.95"/><circle cx="192.8" cy="119.9" r="0.95"/><circle cx="186.4" cy="122.6" r="0.95"/><circle cx="172.3" cy="112.2" r="0.95"/><circle cx="183.7" cy="119.4" r="0.95"/><circle cx="174.6" cy="111.0" r="0.95"/><circle cx="195.1" cy="110.6" r="0.95"/><circle cx="172.9" cy="92.2" r="0.95"/><circle cx="186.0" cy="104.6" r="0.95"/><circle cx="189.1" cy="109.3" r="0.95"/><circle cx="175.3" cy="91.9" r="0.95"/><circle cx="167.2" cy="99.3" r="0.95"/><circle cx="187.3" cy="97.1" r="0.95"/><circle cx="172.5" cy="96.7" r="0.95"/><circle cx="194.1" cy="122.0" r="0.95"/><circle cx="167.9" cy="103.5" r="0.95"/><circle cx="167.2" cy="107.0" r="0.95"/><circle cx="184.3" cy="118.2" r="0.95"/><circle cx="171.3" cy="102.7" r="0.95"/><circle cx="183.1" cy="88.9" r="0.95"/><circle cx="206.8" cy="119.0" r="0.95"/><circle cx="175.5" cy="105.8" r="0.95"/><circle cx="182.2" cy="114.0" r="0.95"/><circle cx="179.7" cy="116.0" r="0.95"/><circle cx="190.0" cy="124.4" r="0.95"/><circle cx="181.3" cy="119.8" r="0.95"/><circle cx="172.2" cy="94.4" r="0.95"/><circle cx="184.9" cy="99.0" r="0.95"/><circle cx="206.7" cy="115.3" r="0.95"/><circle cx="173.9" cy="102.3" r="0.95"/><circle cx="194.2" cy="101.4" r="0.95"/><circle cx="176.3" cy="102.8" r="0.95"/><circle cx="195.2" cy="97.3" r="0.95"/><circle cx="180.4" cy="119.1" r="0.95"/><circle cx="178.8" cy="102.4" r="0.95"/><circle cx="202.1" cy="99.8" r="0.95"/><circle cx="187.0" cy="87.9" r="0.95"/><circle cx="175.3" cy="87.3" r="0.95"/><circle cx="178.4" cy="104.1" r="0.95"/><circle cx="193.1" cy="92.0" r="0.95"/><circle cx="177.1" cy="116.8" r="0.95"/><circle cx="174.8" cy="98.3" r="0.95"/><circle cx="174.4" cy="87.3" r="0.95"/><circle cx="191.6" cy="110.3" r="0.95"/><circle cx="193.3" cy="125.8" r="0.95"/><circle cx="191.7" cy="89.4" r="0.95"/><circle cx="181.7" cy="88.1" r="0.95"/><circle cx="179.1" cy="107.3" r="0.95"/><circle cx="172.0" cy="103.2" r="0.95"/><circle cx="175.4" cy="89.6" r="0.95"/><circle cx="194.6" cy="109.8" r="0.95"/><circle cx="166.4" cy="102.7" r="0.95"/><circle cx="168.0" cy="103.3" r="0.95"/><circle cx="186.0" cy="111.2" r="0.95"/><circle cx="178.9" cy="96.6" r="0.95"/><circle cx="173.1" cy="106.1" r="0.95"/><circle cx="189.4" cy="126.9" r="0.95"/><circle cx="191.5" cy="112.8" r="0.95"/><circle cx="182.7" cy="97.6" r="0.95"/><circle cx="202.0" cy="102.3" r="0.95"/><circle cx="186.5" cy="99.0" r="0.95"/><circle cx="188.0" cy="102.8" r="0.95"/><circle cx="185.9" cy="114.0" r="0.95"/><circle cx="191.4" cy="110.1" r="0.95"/><circle cx="178.4" cy="116.9" r="0.95"/><circle cx="194.0" cy="127.8" r="0.95"/><circle cx="185.8" cy="110.3" r="0.95"/><circle cx="187.6" cy="95.9" r="0.95"/><circle cx="184.2" cy="119.4" r="0.95"/><circle cx="176.0" cy="107.8" r="0.95"/><circle cx="181.7" cy="116.9" r="0.95"/><circle cx="195.2" cy="99.8" r="0.95"/><circle cx="197.0" cy="122.5" r="0.95"/><circle cx="189.0" cy="104.0" r="0.95"/><circle cx="191.3" cy="122.0" r="0.95"/><circle cx="170.6" cy="102.0" r="0.95"/><circle cx="175.0" cy="93.6" r="0.95"/><circle cx="182.8" cy="113.2" r="0.95"/><circle cx="204.2" cy="128.9" r="0.95"/><circle cx="167.2" cy="98.1" r="0.95"/><circle cx="185.5" cy="101.9" r="0.95"/><circle cx="198.7" cy="122.3" r="0.95"/><circle cx="181.7" cy="112.6" r="0.95"/><circle cx="194.3" cy="109.5" r="0.95"/><circle cx="171.5" cy="93.2" r="0.95"/><circle cx="185.7" cy="90.8" r="0.95"/><circle cx="180.6" cy="96.9" r="0.95"/><circle cx="178.3" cy="88.9" r="0.95"/><circle cx="185.5" cy="103.7" r="0.95"/><circle cx="192.7" cy="112.9" r="0.95"/><circle cx="183.8" cy="122.1" r="0.95"/><circle cx="172.4" cy="90.7" r="0.95"/><circle cx="180.3" cy="118.6" r="0.95"/><circle cx="199.1" cy="120.3" r="0.95"/><circle cx="182.0" cy="120.8" r="0.95"/><circle cx="197.3" cy="128.8" r="0.95"/><circle cx="174.9" cy="102.6" r="0.95"/><circle cx="192.7" cy="121.1" r="0.95"/><circle cx="191.9" cy="101.0" r="0.95"/><circle cx="169.3" cy="100.2" r="0.95"/><circle cx="188.1" cy="115.4" r="0.95"/><circle cx="169.8" cy="91.8" r="0.95"/><circle cx="186.3" cy="103.2" r="0.95"/><circle cx="178.7" cy="118.6" r="0.95"/><circle cx="182.4" cy="116.5" r="0.95"/><circle cx="176.8" cy="115.2" r="0.95"/><circle cx="178.8" cy="93.6" r="0.95"/><circle cx="191.8" cy="102.1" r="0.95"/><circle cx="174.2" cy="112.6" r="0.95"/><circle cx="201.0" cy="113.1" r="0.95"/><circle cx="194.1" cy="105.4" r="0.95"/><circle cx="182.8" cy="102.4" r="0.95"/><circle cx="190.4" cy="110.6" r="0.95"/><circle cx="184.0" cy="111.5" r="0.95"/><circle cx="196.1" cy="99.2" r="0.95"/><circle cx="192.4" cy="126.7" r="0.95"/><circle cx="184.3" cy="109.0" r="0.95"/><circle cx="173.6" cy="97.8" r="0.95"/><circle cx="198.1" cy="107.0" r="0.95"/><circle cx="198.7" cy="123.0" r="0.95"/><circle cx="188.3" cy="125.3" r="0.95"/><circle cx="171.7" cy="101.6" r="0.95"/><circle cx="166.9" cy="100.7" r="0.95"/><circle cx="173.0" cy="102.6" r="0.95"/><circle cx="191.1" cy="125.1" r="0.95"/><circle cx="191.6" cy="124.0" r="0.95"/><circle cx="183.3" cy="86.2" r="0.95"/><circle cx="178.5" cy="113.1" r="0.95"/><circle cx="190.5" cy="116.0" r="0.95"/><circle cx="184.8" cy="91.2" r="0.95"/><circle cx="204.5" cy="112.3" r="0.95"/><circle cx="194.2" cy="117.8" r="0.95"/><circle cx="178.3" cy="103.4" r="0.95"/><circle cx="191.7" cy="104.1" r="0.95"/><circle cx="182.4" cy="105.6" r="0.95"/><circle cx="193.5" cy="105.5" r="0.95"/><circle cx="181.5" cy="118.1" r="0.95"/><circle cx="184.1" cy="88.3" r="0.95"/><circle cx="177.6" cy="116.0" r="0.95"/><circle cx="175.6" cy="103.6" r="0.95"/><circle cx="182.9" cy="100.5" r="0.95"/><circle cx="200.8" cy="111.4" r="0.95"/><circle cx="169.1" cy="101.5" r="0.95"/><circle cx="195.5" cy="114.9" r="0.95"/><circle cx="202.8" cy="127.2" r="0.95"/><circle cx="191.7" cy="106.1" r="0.95"/><circle cx="184.7" cy="99.4" r="0.95"/><circle cx="199.9" cy="114.0" r="0.95"/><circle cx="184.6" cy="103.1" r="0.95"/><circle cx="174.1" cy="101.7" r="0.95"/><circle cx="181.8" cy="118.1" r="0.95"/><circle cx="191.3" cy="118.1" r="0.95"/><circle cx="199.1" cy="117.6" r="0.95"/><circle cx="170.4" cy="106.1" r="0.95"/><circle cx="201.2" cy="127.0" r="0.95"/><circle cx="166.4" cy="100.9" r="0.95"/><circle cx="177.9" cy="107.8" r="0.95"/><circle cx="189.0" cy="91.2" r="0.95"/><circle cx="186.7" cy="98.4" r="0.95"/><circle cx="175.7" cy="103.7" r="0.95"/><circle cx="174.5" cy="105.3" r="0.95"/><circle cx="184.5" cy="122.8" r="0.95"/><circle cx="205.8" cy="108.5" r="0.95"/><circle cx="182.6" cy="86.0" r="0.95"/><circle cx="199.4" cy="117.7" r="0.95"/><circle cx="171.9" cy="108.8" r="0.95"/><circle cx="192.2" cy="122.7" r="0.95"/><circle cx="182.7" cy="88.9" r="0.95"/><circle cx="179.1" cy="107.0" r="0.95"/><circle cx="202.3" cy="127.0" r="0.95"/><circle cx="186.2" cy="125.2" r="0.95"/><circle cx="176.1" cy="101.6" r="0.95"/><circle cx="185.2" cy="101.2" r="0.95"/><circle cx="188.2" cy="103.0" r="0.95"/><circle cx="169.5" cy="101.8" r="0.95"/><circle cx="190.3" cy="101.7" r="0.95"/><circle cx="190.7" cy="111.4" r="0.95"/><circle cx="186.1" cy="108.2" r="0.95"/><circle cx="175.9" cy="97.4" r="0.95"/><circle cx="182.1" cy="98.0" r="0.95"/><circle cx="200.0" cy="99.9" r="0.95"/><circle cx="199.5" cy="120.1" r="0.95"/><circle cx="188.4" cy="126.2" r="0.95"/><circle cx="196.7" cy="111.0" r="0.95"/><circle cx="196.1" cy="103.9" r="0.95"/><circle cx="206.3" cy="125.7" r="0.95"/><circle cx="197.9" cy="104.8" r="0.95"/><circle cx="181.1" cy="105.2" r="0.95"/><circle cx="170.3" cy="99.5" r="0.95"/><circle cx="200.1" cy="114.7" r="0.95"/><circle cx="170.1" cy="90.7" r="0.95"/><circle cx="205.1" cy="110.1" r="0.95"/><circle cx="174.2" cy="103.7" r="0.95"/><circle cx="201.7" cy="106.2" r="0.95"/><circle cx="183.4" cy="102.1" r="0.95"/><circle cx="204.0" cy="107.2" r="0.95"/><circle cx="181.5" cy="119.7" r="0.95"/><circle cx="173.8" cy="100.7" r="0.95"/><circle cx="179.9" cy="111.5" r="0.95"/><circle cx="181.6" cy="110.7" r="0.95"/><circle cx="180.3" cy="111.1" r="0.95"/><circle cx="194.4" cy="95.8" r="0.95"/><circle cx="195.8" cy="110.7" r="0.95"/><circle cx="181.1" cy="117.0" r="0.95"/><circle cx="203.2" cy="105.5" r="0.95"/><circle cx="169.7" cy="99.0" r="0.95"/><circle cx="189.0" cy="109.7" r="0.95"/><circle cx="197.2" cy="120.9" r="0.95"/><circle cx="198.0" cy="95.1" r="0.95"/><circle cx="187.7" cy="112.3" r="0.95"/><circle cx="197.2" cy="111.1" r="0.95"/><circle cx="203.8" cy="115.8" r="0.95"/><circle cx="205.0" cy="117.0" r="0.95"/><circle cx="201.1" cy="117.4" r="0.95"/><circle cx="187.7" cy="96.6" r="0.95"/><circle cx="176.7" cy="98.0" r="0.95"/><circle cx="186.6" cy="123.9" r="0.95"/><circle cx="201.2" cy="123.0" r="0.95"/><circle cx="188.0" cy="117.7" r="0.95"/><circle cx="192.9" cy="125.9" r="0.95"/><circle cx="180.5" cy="120.1" r="0.95"/></g>
<g fill="#f0a0a0"><circle cx="184.2" cy="101.8" r="0.9"/><circle cx="195.7" cy="126.9" r="0.9"/><circle cx="186.4" cy="110.3" r="0.9"/><circle cx="179.9" cy="95.7" r="0.9"/><circle cx="204.5" cy="114.3" r="0.9"/><circle cx="193.9" cy="123.0" r="0.9"/><circle cx="198.0" cy="108.4" r="0.9"/><circle cx="168.6" cy="108.6" r="0.9"/><circle cx="173.1" cy="108.6" r="0.9"/><circle cx="180.1" cy="107.4" r="0.9"/><circle cx="182.8" cy="106.8" r="0.9"/><circle cx="168.7" cy="106.9" r="0.9"/><circle cx="188.8" cy="91.4" r="0.9"/><circle cx="177.9" cy="100.2" r="0.9"/><circle cx="194.6" cy="126.7" r="0.9"/><circle cx="206.0" cy="127.2" r="0.9"/><circle cx="203.9" cy="123.2" r="0.9"/><circle cx="185.8" cy="111.4" r="0.9"/><circle cx="193.9" cy="112.4" r="0.9"/><circle cx="190.9" cy="126.5" r="0.9"/><circle cx="169.0" cy="108.3" r="0.9"/><circle cx="194.0" cy="108.3" r="0.9"/><circle cx="189.5" cy="118.7" r="0.9"/><circle cx="206.0" cy="122.1" r="0.9"/><circle cx="182.4" cy="100.2" r="0.9"/><circle cx="179.8" cy="86.2" r="0.9"/><circle cx="197.4" cy="97.0" r="0.9"/><circle cx="189.8" cy="108.6" r="0.9"/><circle cx="179.4" cy="115.1" r="0.9"/><circle cx="184.3" cy="95.8" r="0.9"/><circle cx="171.6" cy="96.6" r="0.9"/><circle cx="185.3" cy="119.9" r="0.9"/><circle cx="179.2" cy="96.0" r="0.9"/><circle cx="192.6" cy="96.9" r="0.9"/><circle cx="187.1" cy="96.7" r="0.9"/><circle cx="175.1" cy="98.7" r="0.9"/><circle cx="179.1" cy="117.4" r="0.9"/><circle cx="193.4" cy="120.2" r="0.9"/><circle cx="187.9" cy="88.9" r="0.9"/><circle cx="197.2" cy="96.2" r="0.9"/><circle cx="174.5" cy="103.7" r="0.9"/><circle cx="197.9" cy="100.3" r="0.9"/><circle cx="198.3" cy="102.2" r="0.9"/><circle cx="177.3" cy="111.5" r="0.9"/><circle cx="196.2" cy="106.4" r="0.9"/><circle cx="186.2" cy="102.2" r="0.9"/><circle cx="171.4" cy="94.5" r="0.9"/><circle cx="201.9" cy="127.7" r="0.9"/><circle cx="195.1" cy="127.0" r="0.9"/><circle cx="173.4" cy="91.5" r="0.9"/><circle cx="193.6" cy="124.2" r="0.9"/><circle cx="195.6" cy="127.2" r="0.9"/><circle cx="184.3" cy="101.8" r="0.9"/><circle cx="170.4" cy="97.5" r="0.9"/><circle cx="173.1" cy="100.8" r="0.9"/><circle cx="167.4" cy="99.0" r="0.9"/><circle cx="173.0" cy="90.9" r="0.9"/><circle cx="187.3" cy="109.2" r="0.9"/><circle cx="189.0" cy="119.0" r="0.9"/><circle cx="168.8" cy="95.3" r="0.9"/><circle cx="168.6" cy="99.1" r="0.9"/><circle cx="197.0" cy="126.1" r="0.9"/><circle cx="186.4" cy="92.5" r="0.9"/><circle cx="179.1" cy="110.5" r="0.9"/><circle cx="190.5" cy="122.6" r="0.9"/><circle cx="184.7" cy="93.9" r="0.9"/><circle cx="204.7" cy="128.4" r="0.9"/><circle cx="182.1" cy="87.8" r="0.9"/><circle cx="172.2" cy="93.1" r="0.9"/><circle cx="196.0" cy="94.8" r="0.9"/><circle cx="198.6" cy="107.4" r="0.9"/><circle cx="192.6" cy="105.9" r="0.9"/><circle cx="178.1" cy="87.3" r="0.9"/><circle cx="176.2" cy="112.7" r="0.9"/><circle cx="180.8" cy="106.3" r="0.9"/><circle cx="191.4" cy="99.4" r="0.9"/><circle cx="189.6" cy="103.8" r="0.9"/><circle cx="187.9" cy="105.7" r="0.9"/><circle cx="200.9" cy="124.2" r="0.9"/><circle cx="172.2" cy="107.8" r="0.9"/><circle cx="175.2" cy="111.1" r="0.9"/><circle cx="177.2" cy="89.8" r="0.9"/><circle cx="194.0" cy="100.7" r="0.9"/><circle cx="188.7" cy="107.3" r="0.9"/><circle cx="203.8" cy="108.1" r="0.9"/><circle cx="186.1" cy="97.3" r="0.9"/><circle cx="189.3" cy="113.2" r="0.9"/><circle cx="184.6" cy="89.4" r="0.9"/><circle cx="186.1" cy="106.7" r="0.9"/><circle cx="192.1" cy="128.1" r="0.9"/></g>
<g fill="#b01818"><circle cx="177.1" cy="104.9" r="0.8"/><circle cx="198.6" cy="96.7" r="0.8"/><circle cx="203.0" cy="107.6" r="0.8"/><circle cx="183.1" cy="109.9" r="0.8"/><circle cx="204.7" cy="107.0" r="0.8"/><circle cx="185.5" cy="98.3" r="0.8"/><circle cx="200.4" cy="107.6" r="0.8"/><circle cx="179.6" cy="94.1" r="0.8"/><circle cx="198.8" cy="128.5" r="0.8"/><circle cx="203.6" cy="115.6" r="0.8"/><circle cx="198.6" cy="116.7" r="0.8"/><circle cx="199.1" cy="120.7" r="0.8"/><circle cx="178.0" cy="96.2" r="0.8"/><circle cx="186.7" cy="100.6" r="0.8"/><circle cx="198.3" cy="112.3" r="0.8"/><circle cx="203.3" cy="126.4" r="0.8"/><circle cx="193.2" cy="90.3" r="0.8"/><circle cx="206.3" cy="123.8" r="0.8"/><circle cx="178.3" cy="93.7" r="0.8"/><circle cx="194.3" cy="118.8" r="0.8"/><circle cx="206.4" cy="112.8" r="0.8"/><circle cx="197.4" cy="120.0" r="0.8"/><circle cx="201.7" cy="110.5" r="0.8"/><circle cx="204.6" cy="113.6" r="0.8"/><circle cx="185.9" cy="102.4" r="0.8"/><circle cx="180.1" cy="86.5" r="0.8"/><circle cx="174.9" cy="114.2" r="0.8"/><circle cx="197.7" cy="116.0" r="0.8"/><circle cx="186.9" cy="99.4" r="0.8"/><circle cx="176.8" cy="93.7" r="0.8"/><circle cx="192.4" cy="115.6" r="0.8"/><circle cx="204.0" cy="125.5" r="0.8"/><circle cx="191.2" cy="127.8" r="0.8"/><circle cx="197.6" cy="100.1" r="0.8"/><circle cx="177.0" cy="108.4" r="0.8"/><circle cx="185.7" cy="87.1" r="0.8"/><circle cx="201.3" cy="109.0" r="0.8"/><circle cx="185.1" cy="118.2" r="0.8"/><circle cx="175.8" cy="94.2" r="0.8"/><circle cx="189.6" cy="96.1" r="0.8"/><circle cx="179.0" cy="88.6" r="0.8"/><circle cx="167.6" cy="101.1" r="0.8"/><circle cx="192.0" cy="103.7" r="0.8"/><circle cx="182.3" cy="95.8" r="0.8"/><circle cx="170.5" cy="104.5" r="0.8"/><circle cx="193.9" cy="119.0" r="0.8"/><circle cx="188.5" cy="113.6" r="0.8"/><circle cx="204.4" cy="125.1" r="0.8"/><circle cx="175.8" cy="109.3" r="0.8"/><circle cx="167.8" cy="92.1" r="0.8"/><circle cx="188.3" cy="97.5" r="0.8"/><circle cx="195.3" cy="117.4" r="0.8"/><circle cx="192.3" cy="116.5" r="0.8"/><circle cx="184.4" cy="104.5" r="0.8"/><circle cx="169.8" cy="106.3" r="0.8"/><circle cx="205.1" cy="124.5" r="0.8"/><circle cx="176.6" cy="116.0" r="0.8"/><circle cx="183.6" cy="91.1" r="0.8"/><circle cx="183.1" cy="110.7" r="0.8"/><circle cx="196.4" cy="103.2" r="0.8"/><circle cx="192.4" cy="115.4" r="0.8"/><circle cx="167.7" cy="106.3" r="0.8"/><circle cx="181.7" cy="106.1" r="0.8"/><circle cx="200.8" cy="106.9" r="0.8"/><circle cx="189.9" cy="99.4" r="0.8"/><circle cx="178.1" cy="95.2" r="0.8"/><circle cx="201.4" cy="107.8" r="0.8"/><circle cx="182.5" cy="103.0" r="0.8"/><circle cx="198.3" cy="116.6" r="0.8"/><circle cx="184.1" cy="101.6" r="0.8"/></g>
<polygon points="165.3,129.4 165.3,104.5 172.0,103.5 180.0,104.0 185.0,106.0 188.5,112.0 191.5,120.0 194.0,126.0 195.5,129.4" fill="#e64c1e"/>
<g fill="#c83018"><circle cx="178.5" cy="115.2" r="0.8"/><circle cx="174.8" cy="119.7" r="0.8"/><circle cx="177.7" cy="111.4" r="0.8"/><circle cx="188.6" cy="115.3" r="0.8"/><circle cx="179.6" cy="126.3" r="0.8"/><circle cx="179.0" cy="113.2" r="0.8"/><circle cx="192.4" cy="128.8" r="0.8"/><circle cx="189.0" cy="113.9" r="0.8"/><circle cx="185.6" cy="122.7" r="0.8"/><circle cx="174.2" cy="122.3" r="0.8"/><circle cx="185.5" cy="114.8" r="0.8"/><circle cx="185.0" cy="109.4" r="0.8"/><circle cx="188.6" cy="117.5" r="0.8"/><circle cx="177.9" cy="123.3" r="0.8"/><circle cx="173.1" cy="119.4" r="0.8"/><circle cx="172.0" cy="113.8" r="0.8"/><circle cx="182.9" cy="124.8" r="0.8"/><circle cx="183.1" cy="121.9" r="0.8"/><circle cx="188.3" cy="122.8" r="0.8"/><circle cx="182.8" cy="110.0" r="0.8"/><circle cx="186.6" cy="118.0" r="0.8"/><circle cx="181.7" cy="129.1" r="0.8"/><circle cx="169.4" cy="123.7" r="0.8"/><circle cx="175.1" cy="122.3" r="0.8"/><circle cx="182.4" cy="117.2" r="0.8"/><circle cx="180.3" cy="107.8" r="0.8"/><circle cx="184.2" cy="126.6" r="0.8"/><circle cx="185.3" cy="111.0" r="0.8"/><circle cx="169.7" cy="119.2" r="0.8"/><circle cx="179.2" cy="117.2" r="0.8"/><circle cx="174.4" cy="121.4" r="0.8"/><circle cx="186.1" cy="125.0" r="0.8"/><circle cx="176.8" cy="110.6" r="0.8"/><circle cx="176.1" cy="117.4" r="0.8"/><circle cx="166.0" cy="113.2" r="0.8"/><circle cx="185.1" cy="107.3" r="0.8"/><circle cx="174.7" cy="126.1" r="0.8"/><circle cx="170.7" cy="106.5" r="0.8"/><circle cx="167.9" cy="124.1" r="0.8"/><circle cx="180.1" cy="121.5" r="0.8"/><circle cx="166.1" cy="124.7" r="0.8"/><circle cx="186.5" cy="121.6" r="0.8"/><circle cx="175.5" cy="126.3" r="0.8"/><circle cx="171.9" cy="115.8" r="0.8"/><circle cx="174.8" cy="114.9" r="0.8"/><circle cx="189.8" cy="118.3" r="0.8"/><circle cx="183.7" cy="129.1" r="0.8"/><circle cx="172.0" cy="109.3" r="0.8"/><circle cx="184.0" cy="107.4" r="0.8"/><circle cx="178.6" cy="114.7" r="0.8"/><circle cx="190.3" cy="127.2" r="0.8"/><circle cx="185.7" cy="107.9" r="0.8"/><circle cx="176.0" cy="121.8" r="0.8"/><circle cx="171.8" cy="126.4" r="0.8"/><circle cx="176.3" cy="109.4" r="0.8"/><circle cx="182.9" cy="106.0" r="0.8"/><circle cx="166.6" cy="112.6" r="0.8"/><circle cx="168.4" cy="104.0" r="0.8"/><circle cx="173.5" cy="120.8" r="0.8"/><circle cx="186.3" cy="111.9" r="0.8"/><circle cx="179.4" cy="111.0" r="0.8"/><circle cx="182.3" cy="112.7" r="0.8"/><circle cx="176.2" cy="109.9" r="0.8"/><circle cx="174.1" cy="110.3" r="0.8"/><circle cx="165.8" cy="111.5" r="0.8"/><circle cx="183.2" cy="110.5" r="0.8"/><circle cx="168.7" cy="125.4" r="0.8"/><circle cx="179.5" cy="116.8" r="0.8"/><circle cx="174.7" cy="126.5" r="0.8"/><circle cx="188.1" cy="119.6" r="0.8"/><circle cx="185.2" cy="121.4" r="0.8"/><circle cx="180.4" cy="114.2" r="0.8"/><circle cx="177.1" cy="116.6" r="0.8"/><circle cx="179.5" cy="117.2" r="0.8"/><circle cx="181.4" cy="123.9" r="0.8"/><circle cx="166.0" cy="111.3" r="0.8"/><circle cx="166.3" cy="124.1" r="0.8"/><circle cx="184.0" cy="110.9" r="0.8"/><circle cx="171.1" cy="126.0" r="0.8"/><circle cx="190.6" cy="121.2" r="0.8"/><circle cx="186.2" cy="122.8" r="0.8"/><circle cx="179.0" cy="113.8" r="0.8"/><circle cx="182.0" cy="126.3" r="0.8"/><circle cx="172.8" cy="128.6" r="0.8"/><circle cx="181.7" cy="116.8" r="0.8"/><circle cx="174.7" cy="125.8" r="0.8"/><circle cx="180.9" cy="129.2" r="0.8"/><circle cx="167.6" cy="129.2" r="0.8"/><circle cx="165.7" cy="107.3" r="0.8"/><circle cx="177.1" cy="120.1" r="0.8"/><circle cx="168.6" cy="118.1" r="0.8"/><circle cx="188.3" cy="118.8" r="0.8"/><circle cx="182.9" cy="108.0" r="0.8"/><circle cx="179.3" cy="126.8" r="0.8"/><circle cx="185.7" cy="109.1" r="0.8"/><circle cx="178.8" cy="117.6" r="0.8"/><circle cx="175.5" cy="118.5" r="0.8"/><circle cx="171.9" cy="120.5" r="0.8"/><circle cx="171.8" cy="105.4" r="0.8"/><circle cx="188.3" cy="112.1" r="0.8"/><circle cx="168.4" cy="120.0" r="0.8"/><circle cx="173.2" cy="124.6" r="0.8"/><circle cx="187.2" cy="123.1" r="0.8"/><circle cx="167.0" cy="104.4" r="0.8"/><circle cx="171.4" cy="104.3" r="0.8"/><circle cx="170.2" cy="115.8" r="0.8"/><circle cx="173.1" cy="124.9" r="0.8"/><circle cx="170.9" cy="119.9" r="0.8"/><circle cx="183.9" cy="127.7" r="0.8"/><circle cx="166.6" cy="118.1" r="0.8"/><circle cx="176.9" cy="124.8" r="0.8"/><circle cx="172.9" cy="122.0" r="0.8"/><circle cx="170.9" cy="116.3" r="0.8"/><circle cx="173.7" cy="127.3" r="0.8"/><circle cx="170.9" cy="109.6" r="0.8"/><circle cx="174.1" cy="125.4" r="0.8"/><circle cx="186.5" cy="128.9" r="0.8"/><circle cx="185.5" cy="119.8" r="0.8"/><circle cx="176.9" cy="122.1" r="0.8"/><circle cx="180.2" cy="105.0" r="0.8"/></g>
<g fill="#f06a34"><circle cx="180.2" cy="113.4" r="0.8"/><circle cx="181.3" cy="104.8" r="0.8"/><circle cx="166.1" cy="129.0" r="0.8"/><circle cx="176.5" cy="112.0" r="0.8"/><circle cx="169.8" cy="118.8" r="0.8"/><circle cx="180.4" cy="116.4" r="0.8"/><circle cx="188.4" cy="118.1" r="0.8"/><circle cx="172.5" cy="108.4" r="0.8"/><circle cx="171.0" cy="115.6" r="0.8"/><circle cx="190.8" cy="119.5" r="0.8"/><circle cx="187.8" cy="123.2" r="0.8"/><circle cx="170.2" cy="104.5" r="0.8"/><circle cx="166.2" cy="126.2" r="0.8"/><circle cx="176.8" cy="105.7" r="0.8"/><circle cx="166.7" cy="125.4" r="0.8"/><circle cx="183.5" cy="127.2" r="0.8"/><circle cx="166.4" cy="106.4" r="0.8"/><circle cx="174.0" cy="108.4" r="0.8"/><circle cx="168.7" cy="108.7" r="0.8"/><circle cx="184.6" cy="107.9" r="0.8"/><circle cx="170.4" cy="117.4" r="0.8"/><circle cx="176.6" cy="107.4" r="0.8"/><circle cx="182.5" cy="116.7" r="0.8"/><circle cx="177.0" cy="115.8" r="0.8"/><circle cx="166.5" cy="119.4" r="0.8"/><circle cx="171.1" cy="112.2" r="0.8"/><circle cx="165.6" cy="126.5" r="0.8"/><circle cx="183.0" cy="113.7" r="0.8"/><circle cx="181.7" cy="127.8" r="0.8"/><circle cx="169.3" cy="113.4" r="0.8"/><circle cx="186.7" cy="113.1" r="0.8"/><circle cx="186.6" cy="127.0" r="0.8"/><circle cx="166.5" cy="110.9" r="0.8"/><circle cx="174.1" cy="122.9" r="0.8"/><circle cx="189.0" cy="121.6" r="0.8"/><circle cx="177.2" cy="125.6" r="0.8"/><circle cx="183.6" cy="128.3" r="0.8"/><circle cx="192.2" cy="129.4" r="0.8"/><circle cx="190.6" cy="120.5" r="0.8"/><circle cx="177.5" cy="118.1" r="0.8"/><circle cx="169.3" cy="123.7" r="0.8"/><circle cx="167.2" cy="119.8" r="0.8"/><circle cx="173.7" cy="111.9" r="0.8"/><circle cx="183.6" cy="108.5" r="0.8"/><circle cx="178.8" cy="125.7" r="0.8"/><circle cx="176.3" cy="121.5" r="0.8"/><circle cx="171.0" cy="125.5" r="0.8"/><circle cx="171.3" cy="117.9" r="0.8"/><circle cx="175.2" cy="110.6" r="0.8"/><circle cx="167.3" cy="122.0" r="0.8"/><circle cx="172.3" cy="116.0" r="0.8"/><circle cx="187.1" cy="125.7" r="0.8"/><circle cx="174.9" cy="113.8" r="0.8"/><circle cx="174.7" cy="122.7" r="0.8"/><circle cx="179.3" cy="121.3" r="0.8"/><circle cx="169.9" cy="123.8" r="0.8"/><circle cx="183.9" cy="107.7" r="0.8"/><circle cx="166.4" cy="114.2" r="0.8"/><circle cx="170.8" cy="122.4" r="0.8"/><circle cx="182.6" cy="121.0" r="0.8"/></g>
<g fill="#dc4420"><circle cx="175.5" cy="77.5" r="0.9"/><circle cx="174.0" cy="71.5" r="0.9"/><circle cx="180.0" cy="66.0" r="0.9"/><circle cx="217.0" cy="88.5" r="0.9"/></g>
<g fill="#dc4420"><circle cx="199.9" cy="123.4" r="0.9"/><circle cx="205.8" cy="114.5" r="0.9"/><circle cx="210.3" cy="108.9" r="0.9"/><circle cx="190.9" cy="117.5" r="0.9"/><circle cx="189.7" cy="114.0" r="0.9"/><circle cx="191.3" cy="116.3" r="0.9"/><circle cx="209.4" cy="108.0" r="0.9"/><circle cx="191.1" cy="118.5" r="0.9"/><circle cx="206.9" cy="125.3" r="0.9"/><circle cx="202.4" cy="115.6" r="0.9"/><circle cx="210.4" cy="118.7" r="0.9"/><circle cx="208.1" cy="117.3" r="0.9"/><circle cx="200.2" cy="97.3" r="0.9"/><circle cx="200.4" cy="105.4" r="0.9"/><circle cx="203.6" cy="113.3" r="0.9"/><circle cx="201.3" cy="98.9" r="0.9"/><circle cx="191.4" cy="116.4" r="0.9"/><circle cx="205.7" cy="128.7" r="0.9"/><circle cx="208.6" cy="106.3" r="0.9"/><circle cx="199.8" cy="113.2" r="0.9"/><circle cx="208.9" cy="109.6" r="0.9"/><circle cx="211.9" cy="112.5" r="0.9"/><circle cx="198.3" cy="112.4" r="0.9"/><circle cx="197.3" cy="129.0" r="0.9"/><circle cx="190.1" cy="118.7" r="0.9"/><circle cx="191.9" cy="101.8" r="0.9"/><circle cx="199.0" cy="116.3" r="0.9"/><circle cx="207.9" cy="111.2" r="0.9"/><circle cx="195.7" cy="108.8" r="0.9"/><circle cx="188.3" cy="125.3" r="0.9"/><circle cx="200.6" cy="101.2" r="0.9"/><circle cx="191.5" cy="125.5" r="0.9"/><circle cx="205.6" cy="103.8" r="0.9"/><circle cx="199.6" cy="116.4" r="0.9"/><circle cx="189.3" cy="126.9" r="0.9"/><circle cx="196.7" cy="101.6" r="0.9"/><circle cx="189.0" cy="117.9" r="0.9"/><circle cx="200.2" cy="125.8" r="0.9"/><circle cx="189.2" cy="116.3" r="0.9"/><circle cx="200.2" cy="106.6" r="0.9"/><circle cx="212.0" cy="127.4" r="0.9"/><circle cx="204.1" cy="107.3" r="0.9"/><circle cx="206.8" cy="125.9" r="0.9"/><circle cx="201.1" cy="101.5" r="0.9"/><circle cx="202.2" cy="127.4" r="0.9"/><circle cx="202.3" cy="107.2" r="0.9"/><circle cx="192.4" cy="120.8" r="0.9"/><circle cx="207.7" cy="107.8" r="0.9"/><circle cx="198.9" cy="119.3" r="0.9"/><circle cx="206.9" cy="111.8" r="0.9"/><circle cx="191.1" cy="100.1" r="0.9"/><circle cx="192.4" cy="123.4" r="0.9"/><circle cx="200.9" cy="117.6" r="0.9"/><circle cx="197.5" cy="108.8" r="0.9"/><circle cx="192.6" cy="128.2" r="0.9"/><circle cx="203.7" cy="101.1" r="0.9"/><circle cx="206.3" cy="116.1" r="0.9"/><circle cx="203.9" cy="121.6" r="0.9"/><circle cx="203.8" cy="125.0" r="0.9"/><circle cx="204.9" cy="109.0" r="0.9"/><circle cx="198.7" cy="108.7" r="0.9"/><circle cx="204.8" cy="108.3" r="0.9"/><circle cx="197.2" cy="124.1" r="0.9"/><circle cx="208.8" cy="118.6" r="0.9"/><circle cx="209.9" cy="109.4" r="0.9"/><circle cx="204.7" cy="105.0" r="0.9"/><circle cx="196.2" cy="100.2" r="0.9"/><circle cx="208.8" cy="126.5" r="0.9"/><circle cx="195.9" cy="109.1" r="0.9"/><circle cx="191.0" cy="101.6" r="0.9"/></g>
<g fill="#f0a0a0"><circle cx="204.6" cy="125.5" r="0.9"/><circle cx="190.2" cy="105.1" r="0.9"/><circle cx="207.7" cy="104.2" r="0.9"/><circle cx="200.3" cy="103.5" r="0.9"/><circle cx="195.6" cy="110.6" r="0.9"/><circle cx="195.2" cy="120.3" r="0.9"/><circle cx="208.9" cy="107.4" r="0.9"/><circle cx="193.0" cy="100.8" r="0.9"/><circle cx="190.0" cy="122.3" r="0.9"/><circle cx="199.8" cy="116.2" r="0.9"/><circle cx="196.3" cy="98.1" r="0.9"/><circle cx="198.9" cy="108.3" r="0.9"/><circle cx="212.0" cy="124.8" r="0.9"/><circle cx="202.9" cy="101.0" r="0.9"/><circle cx="202.5" cy="100.1" r="0.9"/><circle cx="190.4" cy="110.1" r="0.9"/><circle cx="192.1" cy="128.7" r="0.9"/><circle cx="203.0" cy="125.7" r="0.9"/><circle cx="212.9" cy="121.3" r="0.9"/><circle cx="204.8" cy="112.1" r="0.9"/><circle cx="208.2" cy="118.4" r="0.9"/><circle cx="192.1" cy="114.0" r="0.9"/><circle cx="198.8" cy="113.5" r="0.9"/><circle cx="206.5" cy="119.0" r="0.9"/><circle cx="202.8" cy="122.2" r="0.9"/></g>
<g fill="#1f9a3a"><circle cx="121.9" cy="288.1" r="0.85"/><circle cx="113.7" cy="287.5" r="0.85"/><circle cx="113.9" cy="298.0" r="0.85"/><circle cx="115.7" cy="292.0" r="0.85"/><circle cx="117.6" cy="293.5" r="0.85"/><circle cx="115.4" cy="296.0" r="0.85"/><circle cx="116.0" cy="296.7" r="0.85"/><circle cx="121.6" cy="287.0" r="0.85"/><circle cx="118.6" cy="288.1" r="0.85"/><circle cx="122.6" cy="287.8" r="0.85"/><circle cx="115.2" cy="295.8" r="0.85"/><circle cx="119.1" cy="294.7" r="0.85"/></g>
<g fill="#1f9a3a"><circle cx="196.6" cy="292.0" r="0.85"/><circle cx="193.3" cy="291.2" r="0.85"/><circle cx="194.1" cy="294.1" r="0.85"/><circle cx="191.7" cy="286.9" r="0.85"/><circle cx="193.2" cy="292.2" r="0.85"/><circle cx="199.3" cy="285.0" r="0.85"/><circle cx="205.8" cy="296.3" r="0.85"/><circle cx="196.1" cy="287.1" r="0.85"/><circle cx="203.2" cy="298.2" r="0.85"/><circle cx="192.8" cy="295.2" r="0.85"/><circle cx="203.1" cy="297.7" r="0.85"/><circle cx="193.3" cy="286.6" r="0.85"/><circle cx="192.6" cy="288.1" r="0.85"/><circle cx="204.4" cy="297.3" r="0.85"/><circle cx="197.6" cy="286.7" r="0.85"/><circle cx="195.6" cy="288.3" r="0.85"/><circle cx="200.4" cy="294.7" r="0.85"/><circle cx="202.4" cy="290.9" r="0.85"/><circle cx="197.3" cy="291.3" r="0.85"/><circle cx="195.9" cy="291.1" r="0.85"/><circle cx="201.0" cy="294.6" r="0.85"/><circle cx="195.2" cy="292.7" r="0.85"/></g>
<g fill="#1f9a3a"><circle cx="183.5" cy="287.5" r="0.85"/><circle cx="185.9" cy="291.3" r="0.85"/><circle cx="182.3" cy="288.0" r="0.85"/><circle cx="186.3" cy="298.3" r="0.85"/><circle cx="190.4" cy="287.4" r="0.85"/><circle cx="185.2" cy="291.4" r="0.85"/><circle cx="185.1" cy="288.6" r="0.85"/><circle cx="187.9" cy="297.1" r="0.85"/><circle cx="185.8" cy="289.1" r="0.85"/><circle cx="183.1" cy="287.2" r="0.85"/><circle cx="189.7" cy="289.8" r="0.85"/><circle cx="189.2" cy="296.5" r="0.85"/><circle cx="182.8" cy="289.3" r="0.85"/><circle cx="185.2" cy="296.2" r="0.85"/><circle cx="189.4" cy="290.6" r="0.85"/><circle cx="186.5" cy="291.3" r="0.85"/></g>
<polygon points="123.5,299.4 124.0,294.0 127.0,290.0 132.0,287.5 140.0,286.8 150.5,286.5 150.5,299.4" fill="#1f9a3a"/>
<polygon points="166.3,299.4 166.3,285.3 174.0,285.5 179.0,287.0 182.0,290.0 183.0,295.0 182.5,299.4" fill="#1f9a3a"/>
<g fill="#16802c"><circle cx="136.2" cy="296.7" r="0.7"/><circle cx="130.6" cy="297.0" r="0.7"/><circle cx="148.3" cy="294.3" r="0.7"/><circle cx="149.4" cy="298.6" r="0.7"/><circle cx="128.1" cy="299.3" r="0.7"/><circle cx="128.9" cy="296.9" r="0.7"/><circle cx="126.8" cy="290.4" r="0.7"/><circle cx="135.4" cy="297.3" r="0.7"/><circle cx="141.9" cy="289.1" r="0.7"/><circle cx="147.7" cy="297.7" r="0.7"/><circle cx="137.3" cy="287.2" r="0.7"/><circle cx="131.2" cy="290.3" r="0.7"/><circle cx="134.8" cy="298.7" r="0.7"/><circle cx="139.6" cy="297.1" r="0.7"/><circle cx="143.2" cy="290.9" r="0.7"/><circle cx="138.2" cy="291.7" r="0.7"/><circle cx="138.8" cy="290.3" r="0.7"/><circle cx="124.0" cy="295.2" r="0.7"/><circle cx="132.6" cy="292.8" r="0.7"/><circle cx="133.7" cy="290.0" r="0.7"/><circle cx="131.5" cy="288.0" r="0.7"/><circle cx="124.0" cy="297.8" r="0.7"/><circle cx="133.2" cy="292.2" r="0.7"/><circle cx="126.2" cy="296.6" r="0.7"/><circle cx="138.5" cy="292.9" r="0.7"/><circle cx="132.8" cy="296.2" r="0.7"/><circle cx="137.1" cy="296.7" r="0.7"/><circle cx="146.1" cy="298.0" r="0.7"/><circle cx="143.1" cy="295.2" r="0.7"/><circle cx="136.0" cy="293.4" r="0.7"/><circle cx="139.1" cy="293.3" r="0.7"/><circle cx="145.6" cy="297.6" r="0.7"/><circle cx="124.9" cy="296.2" r="0.7"/><circle cx="140.1" cy="294.2" r="0.7"/><circle cx="148.0" cy="287.1" r="0.7"/><circle cx="136.3" cy="291.3" r="0.7"/><circle cx="149.1" cy="288.6" r="0.7"/><circle cx="138.7" cy="288.4" r="0.7"/><circle cx="143.9" cy="292.8" r="0.7"/><circle cx="143.4" cy="290.5" r="0.7"/></g>
<g fill="#16802c"><circle cx="170.1" cy="295.6" r="0.7"/><circle cx="181.0" cy="296.3" r="0.7"/><circle cx="170.9" cy="286.4" r="0.7"/><circle cx="178.1" cy="295.6" r="0.7"/><circle cx="167.3" cy="298.5" r="0.7"/><circle cx="174.3" cy="290.1" r="0.7"/><circle cx="168.0" cy="297.8" r="0.7"/><circle cx="173.7" cy="289.2" r="0.7"/><circle cx="177.5" cy="286.8" r="0.7"/><circle cx="171.9" cy="291.1" r="0.7"/><circle cx="174.2" cy="291.4" r="0.7"/><circle cx="176.3" cy="298.6" r="0.7"/><circle cx="181.9" cy="298.1" r="0.7"/><circle cx="180.1" cy="288.5" r="0.7"/><circle cx="170.4" cy="291.8" r="0.7"/><circle cx="177.0" cy="293.8" r="0.7"/><circle cx="172.1" cy="299.3" r="0.7"/><circle cx="171.5" cy="285.6" r="0.7"/><circle cx="167.8" cy="288.3" r="0.7"/><circle cx="178.5" cy="297.2" r="0.7"/><circle cx="167.0" cy="288.6" r="0.7"/><circle cx="170.3" cy="296.4" r="0.7"/><circle cx="168.0" cy="298.9" r="0.7"/><circle cx="182.5" cy="295.4" r="0.7"/><circle cx="174.2" cy="295.8" r="0.7"/><circle cx="179.1" cy="292.5" r="0.7"/><circle cx="170.8" cy="292.7" r="0.7"/><circle cx="177.4" cy="289.9" r="0.7"/><circle cx="177.0" cy="287.4" r="0.7"/><circle cx="170.1" cy="298.8" r="0.7"/><circle cx="182.2" cy="298.3" r="0.7"/><circle cx="180.3" cy="297.3" r="0.7"/><circle cx="180.0" cy="293.3" r="0.7"/><circle cx="167.5" cy="295.6" r="0.7"/><circle cx="180.3" cy="297.1" r="0.7"/><circle cx="167.0" cy="286.2" r="0.7"/><circle cx="178.5" cy="292.2" r="0.7"/><circle cx="181.2" cy="299.3" r="0.7"/><circle cx="173.8" cy="294.8" r="0.7"/><circle cx="177.4" cy="295.1" r="0.7"/></g>
<g fill="#e8f4ea"><circle cx="133.4" cy="294.7" r="0.5"/><circle cx="125.3" cy="298.1" r="0.5"/><circle cx="143.0" cy="296.9" r="0.5"/><circle cx="136.0" cy="289.1" r="0.5"/><circle cx="135.7" cy="295.3" r="0.5"/><circle cx="138.3" cy="287.9" r="0.5"/><circle cx="130.1" cy="289.4" r="0.5"/><circle cx="129.5" cy="291.9" r="0.5"/><circle cx="142.3" cy="298.3" r="0.5"/><circle cx="141.8" cy="286.8" r="0.5"/><circle cx="146.9" cy="294.4" r="0.5"/><circle cx="143.3" cy="294.4" r="0.5"/></g>
<g fill="#e8f4ea"><circle cx="172.2" cy="290.1" r="0.5"/><circle cx="167.5" cy="294.7" r="0.5"/><circle cx="167.2" cy="294.9" r="0.5"/><circle cx="181.5" cy="294.7" r="0.5"/><circle cx="176.4" cy="296.7" r="0.5"/><circle cx="182.3" cy="296.8" r="0.5"/><circle cx="166.5" cy="294.0" r="0.5"/><circle cx="177.0" cy="297.5" r="0.5"/><circle cx="176.5" cy="290.4" r="0.5"/><circle cx="166.4" cy="297.0" r="0.5"/><circle cx="176.7" cy="299.2" r="0.5"/><circle cx="176.2" cy="297.3" r="0.5"/></g>
<rect x="150.5" y="284.6" width="15.8" height="14.8" fill="#676767"/>
<polygon points="157.3,286.0 159.4,293.0 161.5,286.0" fill="#f4f4f4"/>
<g fill="#3565b8"><circle cx="155.9" cy="284.4" r="0.9"/><circle cx="153.8" cy="282.4" r="0.9"/><circle cx="153.3" cy="263.2" r="0.9"/><circle cx="152.8" cy="270.6" r="0.9"/><circle cx="152.5" cy="277.9" r="0.9"/><circle cx="151.3" cy="269.6" r="0.9"/><circle cx="153.3" cy="265.7" r="0.9"/><circle cx="154.7" cy="272.1" r="0.9"/><circle cx="156.1" cy="270.3" r="0.9"/><circle cx="154.3" cy="267.9" r="0.9"/><circle cx="150.7" cy="269.5" r="0.9"/><circle cx="156.8" cy="269.3" r="0.9"/><circle cx="154.0" cy="274.3" r="0.9"/><circle cx="152.4" cy="274.6" r="0.9"/><circle cx="151.1" cy="270.5" r="0.9"/><circle cx="152.6" cy="280.6" r="0.9"/><circle cx="155.9" cy="278.1" r="0.9"/><circle cx="154.7" cy="281.7" r="0.9"/><circle cx="155.7" cy="264.2" r="0.9"/><circle cx="151.5" cy="279.2" r="0.9"/><circle cx="156.4" cy="284.4" r="0.9"/><circle cx="155.9" cy="266.4" r="0.9"/><circle cx="154.5" cy="276.5" r="0.9"/><circle cx="154.8" cy="265.9" r="0.9"/><circle cx="152.5" cy="284.2" r="0.9"/><circle cx="153.3" cy="264.5" r="0.9"/><circle cx="155.2" cy="268.6" r="0.9"/><circle cx="152.1" cy="269.5" r="0.9"/><circle cx="154.8" cy="269.9" r="0.9"/><circle cx="155.2" cy="282.6" r="0.9"/><circle cx="157.0" cy="268.5" r="0.9"/><circle cx="156.3" cy="264.9" r="0.9"/><circle cx="154.6" cy="264.6" r="0.9"/><circle cx="151.3" cy="283.5" r="0.9"/><circle cx="151.5" cy="278.5" r="0.9"/><circle cx="156.1" cy="264.3" r="0.9"/><circle cx="156.7" cy="280.7" r="0.9"/><circle cx="154.0" cy="272.6" r="0.9"/><circle cx="150.8" cy="278.1" r="0.9"/><circle cx="150.9" cy="274.4" r="0.9"/><circle cx="157.0" cy="277.6" r="0.9"/><circle cx="151.4" cy="278.6" r="0.9"/><circle cx="155.4" cy="270.1" r="0.9"/><circle cx="155.9" cy="275.5" r="0.9"/><circle cx="153.5" cy="274.4" r="0.9"/><circle cx="152.5" cy="269.2" r="0.9"/><circle cx="156.7" cy="270.5" r="0.9"/><circle cx="155.9" cy="270.9" r="0.9"/><circle cx="157.2" cy="279.2" r="0.9"/><circle cx="151.0" cy="266.5" r="0.9"/><circle cx="150.9" cy="276.2" r="0.9"/><circle cx="154.9" cy="283.6" r="0.9"/><circle cx="152.6" cy="268.0" r="0.9"/><circle cx="152.1" cy="266.2" r="0.9"/><circle cx="150.8" cy="273.7" r="0.9"/><circle cx="153.5" cy="270.9" r="0.9"/><circle cx="156.3" cy="274.5" r="0.9"/><circle cx="154.8" cy="281.9" r="0.9"/><circle cx="150.9" cy="278.2" r="0.9"/><circle cx="152.2" cy="277.8" r="0.9"/></g>
<g fill="#3565b8"><circle cx="165.0" cy="281.6" r="0.9"/><circle cx="160.8" cy="275.2" r="0.9"/><circle cx="166.0" cy="283.7" r="0.9"/><circle cx="165.6" cy="279.5" r="0.9"/><circle cx="165.3" cy="277.4" r="0.9"/><circle cx="159.6" cy="277.5" r="0.9"/><circle cx="160.5" cy="278.3" r="0.9"/><circle cx="163.4" cy="280.8" r="0.9"/><circle cx="159.7" cy="279.4" r="0.9"/><circle cx="159.4" cy="278.4" r="0.9"/><circle cx="164.8" cy="276.4" r="0.9"/><circle cx="164.9" cy="276.2" r="0.9"/><circle cx="161.8" cy="282.3" r="0.9"/><circle cx="162.9" cy="281.4" r="0.9"/><circle cx="165.8" cy="281.2" r="0.9"/><circle cx="160.6" cy="275.7" r="0.9"/><circle cx="162.5" cy="276.6" r="0.9"/><circle cx="163.0" cy="274.5" r="0.9"/><circle cx="164.0" cy="278.1" r="0.9"/><circle cx="165.7" cy="282.9" r="0.9"/><circle cx="165.3" cy="277.8" r="0.9"/><circle cx="166.1" cy="275.4" r="0.9"/><circle cx="164.2" cy="284.0" r="0.9"/><circle cx="164.8" cy="280.2" r="0.9"/><circle cx="162.4" cy="274.8" r="0.9"/><circle cx="163.6" cy="275.0" r="0.9"/><circle cx="160.0" cy="280.1" r="0.9"/><circle cx="163.6" cy="282.4" r="0.9"/><circle cx="165.0" cy="275.0" r="0.9"/><circle cx="161.2" cy="275.1" r="0.9"/><circle cx="162.5" cy="273.8" r="0.9"/><circle cx="165.2" cy="281.1" r="0.9"/><circle cx="164.8" cy="278.9" r="0.9"/><circle cx="165.6" cy="282.8" r="0.9"/></g>
<g fill="#b8cdea"><circle cx="156.1" cy="281.7" r="0.7"/><circle cx="153.1" cy="276.1" r="0.7"/><circle cx="152.3" cy="281.2" r="0.7"/><circle cx="154.4" cy="283.8" r="0.7"/><circle cx="153.4" cy="277.2" r="0.7"/><circle cx="156.3" cy="283.6" r="0.7"/><circle cx="155.8" cy="282.6" r="0.7"/><circle cx="156.6" cy="275.3" r="0.7"/><circle cx="155.1" cy="272.8" r="0.7"/><circle cx="155.4" cy="283.4" r="0.7"/></g>
<g fill="#dc4420"><circle cx="143.7" cy="265.3" r="0.9"/><circle cx="144.6" cy="263.5" r="0.9"/><circle cx="143.1" cy="263.8" r="0.9"/><circle cx="142.5" cy="280.5" r="0.9"/><circle cx="146.9" cy="281.3" r="0.9"/><circle cx="143.0" cy="272.0" r="0.9"/><circle cx="137.5" cy="279.8" r="0.9"/><circle cx="144.6" cy="271.2" r="0.9"/><circle cx="138.7" cy="272.4" r="0.9"/><circle cx="138.6" cy="280.7" r="0.9"/><circle cx="145.1" cy="281.6" r="0.9"/><circle cx="144.3" cy="265.6" r="0.9"/><circle cx="140.5" cy="281.0" r="0.9"/><circle cx="144.8" cy="276.6" r="0.9"/><circle cx="145.4" cy="263.1" r="0.9"/><circle cx="139.5" cy="271.8" r="0.9"/><circle cx="148.4" cy="283.3" r="0.9"/><circle cx="144.9" cy="267.9" r="0.9"/><circle cx="142.3" cy="283.0" r="0.9"/><circle cx="147.8" cy="281.7" r="0.9"/><circle cx="144.7" cy="267.6" r="0.9"/><circle cx="145.2" cy="282.6" r="0.9"/><circle cx="147.0" cy="268.3" r="0.9"/><circle cx="145.1" cy="268.5" r="0.9"/><circle cx="147.2" cy="267.8" r="0.9"/><circle cx="148.7" cy="277.3" r="0.9"/><circle cx="149.0" cy="269.8" r="0.9"/><circle cx="149.9" cy="275.2" r="0.9"/><circle cx="140.3" cy="276.6" r="0.9"/><circle cx="147.4" cy="265.2" r="0.9"/><circle cx="147.1" cy="268.2" r="0.9"/><circle cx="141.7" cy="283.1" r="0.9"/><circle cx="148.1" cy="280.9" r="0.9"/><circle cx="150.2" cy="275.6" r="0.9"/></g>
<g fill="#dc4420"><circle cx="197.0" cy="281.0" r="0.9"/><circle cx="199.0" cy="283.5" r="0.9"/><circle cx="201.5" cy="280.5" r="0.9"/><circle cx="188.0" cy="268.5" r="0.9"/><circle cx="189.0" cy="273.0" r="0.9"/><circle cx="176.0" cy="281.0" r="0.9"/><circle cx="183.0" cy="283.0" r="0.9"/><circle cx="204.0" cy="282.0" r="0.9"/><circle cx="193.0" cy="284.0" r="0.9"/></g>
<g fill="#1f9a3a"><circle cx="130.3" cy="460.4" r="0.85"/><circle cx="115.9" cy="459.5" r="0.85"/><circle cx="107.5" cy="460.2" r="0.85"/><circle cx="102.1" cy="460.4" r="0.85"/><circle cx="127.4" cy="460.7" r="0.85"/><circle cx="101.2" cy="458.6" r="0.85"/><circle cx="107.0" cy="459.8" r="0.85"/><circle cx="126.7" cy="460.1" r="0.85"/><circle cx="113.2" cy="460.3" r="0.85"/><circle cx="114.7" cy="460.5" r="0.85"/></g>
<g fill="#1f9a3a"><circle cx="219.5" cy="460.2" r="0.85"/><circle cx="211.1" cy="458.9" r="0.85"/><circle cx="216.4" cy="461.2" r="0.85"/><circle cx="229.6" cy="459.4" r="0.85"/><circle cx="219.9" cy="460.1" r="0.85"/><circle cx="216.8" cy="459.0" r="0.85"/><circle cx="225.5" cy="458.8" r="0.85"/><circle cx="210.9" cy="459.3" r="0.85"/><circle cx="210.3" cy="459.1" r="0.85"/><circle cx="207.1" cy="460.1" r="0.85"/></g>
<rect x="133.0" y="459.6" width="72.0" height="2.4" fill="#1f9a3a"/>
<g fill="#1f9a3a"><circle cx="149.0" cy="456.1" r="0.85"/><circle cx="152.3" cy="456.0" r="0.85"/><circle cx="151.4" cy="455.9" r="0.85"/><circle cx="150.0" cy="455.2" r="0.85"/><circle cx="153.0" cy="453.8" r="0.85"/><circle cx="153.3" cy="455.8" r="0.85"/><circle cx="155.2" cy="456.0" r="0.85"/><circle cx="151.9" cy="456.8" r="0.85"/><circle cx="149.9" cy="454.7" r="0.85"/><circle cx="151.0" cy="456.6" r="0.85"/><circle cx="153.2" cy="453.7" r="0.85"/><circle cx="155.0" cy="457.9" r="0.85"/><circle cx="151.5" cy="458.0" r="0.85"/><circle cx="152.5" cy="454.7" r="0.85"/><circle cx="152.3" cy="456.5" r="0.85"/><circle cx="152.4" cy="456.8" r="0.85"/></g>
<g fill="#1f9a3a"><circle cx="182.9" cy="454.1" r="0.8"/><circle cx="192.4" cy="452.0" r="0.8"/><circle cx="189.3" cy="452.7" r="0.8"/><circle cx="189.9" cy="441.7" r="0.8"/><circle cx="196.5" cy="453.4" r="0.8"/><circle cx="182.4" cy="458.4" r="0.8"/><circle cx="185.4" cy="443.2" r="0.8"/><circle cx="187.1" cy="446.8" r="0.8"/><circle cx="167.4" cy="456.9" r="0.8"/><circle cx="168.1" cy="453.5" r="0.8"/><circle cx="167.7" cy="449.8" r="0.8"/><circle cx="214.8" cy="441.7" r="0.8"/><circle cx="207.0" cy="440.1" r="0.8"/><circle cx="213.7" cy="457.3" r="0.8"/><circle cx="183.6" cy="452.1" r="0.8"/><circle cx="184.2" cy="443.1" r="0.8"/><circle cx="178.3" cy="448.4" r="0.8"/><circle cx="207.6" cy="442.2" r="0.8"/><circle cx="188.7" cy="449.0" r="0.8"/><circle cx="189.5" cy="455.1" r="0.8"/><circle cx="192.2" cy="446.1" r="0.8"/><circle cx="212.4" cy="451.4" r="0.8"/><circle cx="173.5" cy="450.4" r="0.8"/><circle cx="207.4" cy="440.9" r="0.8"/><circle cx="194.9" cy="449.3" r="0.8"/><circle cx="174.4" cy="443.0" r="0.8"/></g>
<g fill="#1f9a3a"><circle cx="111.6" cy="452.4" r="0.8"/><circle cx="121.1" cy="454.0" r="0.8"/><circle cx="113.5" cy="454.2" r="0.8"/><circle cx="123.7" cy="456.0" r="0.8"/><circle cx="140.2" cy="450.4" r="0.8"/></g>
<g fill="#646464"><circle cx="173.4" cy="458.8" r="0.85"/><circle cx="161.0" cy="456.8" r="0.85"/><circle cx="168.3" cy="458.1" r="0.85"/><circle cx="167.7" cy="456.8" r="0.85"/><circle cx="171.3" cy="458.1" r="0.85"/><circle cx="162.3" cy="459.0" r="0.85"/><circle cx="164.6" cy="458.8" r="0.85"/><circle cx="165.4" cy="461.6" r="0.85"/><circle cx="155.6" cy="460.7" r="0.85"/><circle cx="158.0" cy="458.5" r="0.85"/><circle cx="164.0" cy="461.8" r="0.85"/><circle cx="167.0" cy="461.0" r="0.85"/><circle cx="165.9" cy="461.4" r="0.85"/><circle cx="167.5" cy="456.7" r="0.85"/><circle cx="161.7" cy="458.4" r="0.85"/><circle cx="156.7" cy="461.5" r="0.85"/><circle cx="163.9" cy="456.4" r="0.85"/><circle cx="164.0" cy="460.6" r="0.85"/><circle cx="159.8" cy="459.1" r="0.85"/><circle cx="156.4" cy="456.7" r="0.85"/><circle cx="158.2" cy="458.5" r="0.85"/><circle cx="167.8" cy="456.6" r="0.85"/><circle cx="167.8" cy="459.1" r="0.85"/><circle cx="169.0" cy="462.0" r="0.85"/><circle cx="161.0" cy="462.0" r="0.85"/><circle cx="163.3" cy="458.6" r="0.85"/><circle cx="167.0" cy="455.7" r="0.85"/><circle cx="165.0" cy="456.4" r="0.85"/><circle cx="159.7" cy="460.4" r="0.85"/><circle cx="163.2" cy="456.0" r="0.85"/><circle cx="167.6" cy="462.0" r="0.85"/><circle cx="166.5" cy="458.1" r="0.85"/><circle cx="164.9" cy="459.9" r="0.85"/><circle cx="170.7" cy="460.5" r="0.85"/><circle cx="159.4" cy="460.5" r="0.85"/><circle cx="164.3" cy="456.3" r="0.85"/><circle cx="165.4" cy="457.0" r="0.85"/><circle cx="170.3" cy="461.6" r="0.85"/><circle cx="163.3" cy="460.4" r="0.85"/><circle cx="164.1" cy="457.8" r="0.85"/><circle cx="157.0" cy="459.6" r="0.85"/><circle cx="172.3" cy="459.8" r="0.85"/><circle cx="160.7" cy="458.7" r="0.85"/><circle cx="161.4" cy="457.7" r="0.85"/><circle cx="163.8" cy="458.6" r="0.85"/><circle cx="157.4" cy="460.1" r="0.85"/><circle cx="159.5" cy="457.8" r="0.85"/><circle cx="159.4" cy="459.2" r="0.85"/><circle cx="162.9" cy="459.8" r="0.85"/><circle cx="162.8" cy="460.5" r="0.85"/><circle cx="165.2" cy="455.7" r="0.85"/><circle cx="164.0" cy="456.8" r="0.85"/><circle cx="160.3" cy="461.6" r="0.85"/><circle cx="163.8" cy="460.2" r="0.85"/><circle cx="157.6" cy="459.4" r="0.85"/><circle cx="156.9" cy="456.6" r="0.85"/><circle cx="172.0" cy="461.8" r="0.85"/><circle cx="161.7" cy="455.1" r="0.85"/><circle cx="168.7" cy="459.6" r="0.85"/><circle cx="155.5" cy="460.4" r="0.85"/><circle cx="169.6" cy="460.4" r="0.85"/><circle cx="159.1" cy="458.6" r="0.85"/><circle cx="170.0" cy="459.2" r="0.85"/><circle cx="164.7" cy="456.3" r="0.85"/><circle cx="164.7" cy="459.2" r="0.85"/><circle cx="163.4" cy="459.5" r="0.85"/><circle cx="165.4" cy="459.5" r="0.85"/><circle cx="162.5" cy="460.9" r="0.85"/><circle cx="164.8" cy="461.2" r="0.85"/><circle cx="173.5" cy="460.8" r="0.85"/><circle cx="169.4" cy="459.8" r="0.85"/><circle cx="165.2" cy="456.7" r="0.85"/><circle cx="156.6" cy="459.6" r="0.85"/><circle cx="159.4" cy="459.3" r="0.85"/><circle cx="165.1" cy="459.3" r="0.85"/></g>
<g fill="#999"><circle cx="156.0" cy="438.0" r="0.8"/><circle cx="159.0" cy="442.0" r="0.8"/><circle cx="162.0" cy="447.0" r="0.8"/><circle cx="166.0" cy="451.0" r="0.8"/></g>
<g fill="#1f9a3a"><circle cx="127.1" cy="621.2" r="0.85"/><circle cx="124.9" cy="623.5" r="0.85"/><circle cx="135.0" cy="621.6" r="0.85"/><circle cx="125.1" cy="622.2" r="0.85"/><circle cx="127.1" cy="623.2" r="0.85"/><circle cx="132.8" cy="623.8" r="0.85"/><circle cx="133.7" cy="623.6" r="0.85"/><circle cx="136.5" cy="622.2" r="0.85"/></g>
<g fill="#1f9a3a"><circle cx="193.5" cy="624.0" r="0.85"/><circle cx="191.0" cy="624.5" r="0.85"/><circle cx="192.9" cy="623.7" r="0.85"/><circle cx="194.9" cy="623.1" r="0.85"/><circle cx="185.2" cy="622.8" r="0.85"/><circle cx="194.0" cy="624.9" r="0.85"/><circle cx="187.6" cy="624.7" r="0.85"/><circle cx="203.5" cy="624.4" r="0.85"/></g>
<polygon points="144.8,617.0 182.3,617.0 181.0,621.0 176.0,624.5 165.0,626.5 150.0,626.0 146.0,622.5" fill="#1f9a3a"/>
<g fill="#16802c"><circle cx="155.3" cy="617.2" r="0.7"/><circle cx="177.8" cy="617.6" r="0.7"/><circle cx="156.0" cy="625.9" r="0.7"/><circle cx="170.1" cy="624.8" r="0.7"/><circle cx="176.1" cy="618.7" r="0.7"/><circle cx="163.7" cy="617.9" r="0.7"/><circle cx="159.0" cy="621.7" r="0.7"/><circle cx="175.4" cy="619.7" r="0.7"/><circle cx="169.8" cy="618.3" r="0.7"/><circle cx="154.4" cy="617.6" r="0.7"/><circle cx="166.6" cy="622.6" r="0.7"/><circle cx="171.5" cy="621.0" r="0.7"/><circle cx="166.1" cy="625.3" r="0.7"/><circle cx="151.5" cy="619.8" r="0.7"/><circle cx="165.5" cy="622.7" r="0.7"/><circle cx="162.3" cy="619.0" r="0.7"/><circle cx="173.4" cy="623.0" r="0.7"/><circle cx="176.8" cy="622.2" r="0.7"/><circle cx="154.4" cy="621.5" r="0.7"/><circle cx="162.3" cy="620.3" r="0.7"/><circle cx="166.6" cy="618.4" r="0.7"/><circle cx="154.3" cy="618.1" r="0.7"/><circle cx="172.5" cy="620.8" r="0.7"/><circle cx="169.5" cy="619.7" r="0.7"/><circle cx="178.5" cy="620.3" r="0.7"/><circle cx="176.5" cy="619.3" r="0.7"/><circle cx="151.5" cy="624.0" r="0.7"/><circle cx="150.6" cy="620.7" r="0.7"/><circle cx="159.0" cy="620.2" r="0.7"/><circle cx="158.4" cy="618.5" r="0.7"/><circle cx="159.8" cy="617.9" r="0.7"/><circle cx="174.6" cy="620.4" r="0.7"/><circle cx="171.5" cy="621.1" r="0.7"/><circle cx="171.3" cy="625.0" r="0.7"/><circle cx="160.3" cy="622.6" r="0.7"/><circle cx="147.4" cy="620.5" r="0.7"/><circle cx="157.1" cy="622.9" r="0.7"/><circle cx="147.6" cy="621.0" r="0.7"/><circle cx="163.0" cy="625.0" r="0.7"/><circle cx="168.5" cy="618.4" r="0.7"/></g>
<rect x="154.4" y="617.0" width="11.1" height="9.5" fill="#676767"/>
<g fill="#3565b8"><circle cx="157.9" cy="594.1" r="0.9"/><circle cx="157.7" cy="599.4" r="0.9"/><circle cx="159.5" cy="600.5" r="0.9"/><circle cx="155.8" cy="596.3" r="0.9"/><circle cx="159.5" cy="597.5" r="0.9"/><circle cx="155.7" cy="603.1" r="0.9"/><circle cx="158.0" cy="615.2" r="0.9"/><circle cx="154.8" cy="596.9" r="0.9"/><circle cx="158.2" cy="601.9" r="0.9"/><circle cx="158.1" cy="607.2" r="0.9"/><circle cx="155.3" cy="596.1" r="0.9"/><circle cx="155.4" cy="595.6" r="0.9"/><circle cx="157.2" cy="609.7" r="0.9"/><circle cx="158.3" cy="589.4" r="0.9"/><circle cx="155.1" cy="601.7" r="0.9"/><circle cx="156.0" cy="610.5" r="0.9"/><circle cx="157.1" cy="602.7" r="0.9"/><circle cx="158.8" cy="598.7" r="0.9"/><circle cx="158.8" cy="590.2" r="0.9"/><circle cx="156.7" cy="603.2" r="0.9"/><circle cx="159.4" cy="615.2" r="0.9"/><circle cx="159.7" cy="603.3" r="0.9"/><circle cx="158.3" cy="605.0" r="0.9"/><circle cx="156.9" cy="592.2" r="0.9"/><circle cx="157.8" cy="600.3" r="0.9"/><circle cx="158.0" cy="588.3" r="0.9"/><circle cx="156.0" cy="590.4" r="0.9"/><circle cx="158.4" cy="601.4" r="0.9"/><circle cx="155.9" cy="610.4" r="0.9"/><circle cx="157.2" cy="595.7" r="0.9"/><circle cx="159.5" cy="613.4" r="0.9"/><circle cx="157.3" cy="615.2" r="0.9"/><circle cx="157.3" cy="607.4" r="0.9"/><circle cx="155.0" cy="600.1" r="0.9"/><circle cx="157.6" cy="599.3" r="0.9"/><circle cx="157.9" cy="597.3" r="0.9"/><circle cx="157.9" cy="593.2" r="0.9"/><circle cx="157.0" cy="599.8" r="0.9"/><circle cx="157.2" cy="588.7" r="0.9"/><circle cx="155.7" cy="608.5" r="0.9"/><circle cx="155.3" cy="601.3" r="0.9"/><circle cx="159.7" cy="605.3" r="0.9"/><circle cx="158.3" cy="610.1" r="0.9"/><circle cx="159.5" cy="598.6" r="0.9"/><circle cx="156.5" cy="609.6" r="0.9"/><circle cx="155.8" cy="603.7" r="0.9"/><circle cx="158.3" cy="612.8" r="0.9"/><circle cx="157.1" cy="607.8" r="0.9"/><circle cx="154.8" cy="606.8" r="0.9"/><circle cx="159.3" cy="605.5" r="0.9"/><circle cx="157.0" cy="602.3" r="0.9"/><circle cx="156.6" cy="592.4" r="0.9"/><circle cx="155.4" cy="610.8" r="0.9"/><circle cx="157.1" cy="588.2" r="0.9"/><circle cx="157.7" cy="611.9" r="0.9"/><circle cx="157.9" cy="592.4" r="0.9"/><circle cx="157.1" cy="600.8" r="0.9"/><circle cx="155.3" cy="595.0" r="0.9"/><circle cx="154.6" cy="606.4" r="0.9"/><circle cx="157.9" cy="594.5" r="0.9"/><circle cx="159.4" cy="599.7" r="0.9"/><circle cx="156.8" cy="614.8" r="0.9"/><circle cx="157.8" cy="601.0" r="0.9"/><circle cx="158.4" cy="609.2" r="0.9"/><circle cx="156.0" cy="589.1" r="0.9"/><circle cx="158.3" cy="609.4" r="0.9"/><circle cx="157.6" cy="590.5" r="0.9"/><circle cx="158.3" cy="592.3" r="0.9"/><circle cx="158.6" cy="605.7" r="0.9"/><circle cx="157.8" cy="589.3" r="0.9"/><circle cx="156.3" cy="609.0" r="0.9"/><circle cx="156.6" cy="612.6" r="0.9"/><circle cx="157.7" cy="593.9" r="0.9"/><circle cx="154.8" cy="612.1" r="0.9"/><circle cx="158.9" cy="608.0" r="0.9"/><circle cx="155.5" cy="609.5" r="0.9"/><circle cx="156.1" cy="615.7" r="0.9"/><circle cx="158.3" cy="609.9" r="0.9"/><circle cx="158.9" cy="616.1" r="0.9"/><circle cx="159.2" cy="604.0" r="0.9"/><circle cx="154.9" cy="609.2" r="0.9"/><circle cx="157.8" cy="611.9" r="0.9"/><circle cx="158.4" cy="602.1" r="0.9"/><circle cx="159.6" cy="600.9" r="0.9"/><circle cx="156.8" cy="606.1" r="0.9"/></g>
<g fill="#3565b8"><circle cx="164.7" cy="603.4" r="0.9"/><circle cx="165.3" cy="593.0" r="0.9"/><circle cx="165.1" cy="613.0" r="0.9"/><circle cx="163.0" cy="584.9" r="0.9"/><circle cx="163.9" cy="604.5" r="0.9"/><circle cx="165.3" cy="602.4" r="0.9"/><circle cx="164.4" cy="609.1" r="0.9"/><circle cx="162.3" cy="606.0" r="0.9"/><circle cx="163.3" cy="591.1" r="0.9"/><circle cx="162.7" cy="596.0" r="0.9"/><circle cx="164.5" cy="602.2" r="0.9"/><circle cx="162.9" cy="585.8" r="0.9"/><circle cx="164.7" cy="608.9" r="0.9"/><circle cx="164.9" cy="609.9" r="0.9"/><circle cx="161.8" cy="593.3" r="0.9"/><circle cx="163.4" cy="593.8" r="0.9"/><circle cx="164.8" cy="590.8" r="0.9"/><circle cx="161.7" cy="598.9" r="0.9"/><circle cx="164.0" cy="603.9" r="0.9"/><circle cx="163.7" cy="586.3" r="0.9"/><circle cx="163.8" cy="601.3" r="0.9"/><circle cx="162.8" cy="591.4" r="0.9"/><circle cx="162.2" cy="599.9" r="0.9"/><circle cx="163.0" cy="603.3" r="0.9"/><circle cx="164.2" cy="593.1" r="0.9"/><circle cx="164.0" cy="592.5" r="0.9"/><circle cx="164.5" cy="590.7" r="0.9"/><circle cx="163.9" cy="608.3" r="0.9"/><circle cx="164.7" cy="601.5" r="0.9"/><circle cx="165.2" cy="616.5" r="0.9"/><circle cx="164.7" cy="595.8" r="0.9"/><circle cx="162.6" cy="604.7" r="0.9"/><circle cx="162.1" cy="589.8" r="0.9"/><circle cx="162.0" cy="605.5" r="0.9"/><circle cx="163.1" cy="614.4" r="0.9"/><circle cx="164.7" cy="601.5" r="0.9"/><circle cx="162.9" cy="594.6" r="0.9"/><circle cx="165.0" cy="593.8" r="0.9"/><circle cx="161.6" cy="616.3" r="0.9"/><circle cx="163.1" cy="609.6" r="0.9"/><circle cx="163.4" cy="616.0" r="0.9"/><circle cx="161.9" cy="599.6" r="0.9"/><circle cx="164.1" cy="584.8" r="0.9"/><circle cx="165.2" cy="595.2" r="0.9"/><circle cx="164.2" cy="586.6" r="0.9"/><circle cx="164.7" cy="615.1" r="0.9"/><circle cx="165.2" cy="601.5" r="0.9"/><circle cx="162.0" cy="609.6" r="0.9"/><circle cx="163.6" cy="609.8" r="0.9"/><circle cx="164.1" cy="602.7" r="0.9"/><circle cx="162.3" cy="588.7" r="0.9"/><circle cx="161.9" cy="598.3" r="0.9"/><circle cx="162.7" cy="615.5" r="0.9"/><circle cx="161.8" cy="609.1" r="0.9"/><circle cx="165.2" cy="591.2" r="0.9"/><circle cx="163.9" cy="603.3" r="0.9"/><circle cx="163.2" cy="595.5" r="0.9"/><circle cx="162.1" cy="607.0" r="0.9"/><circle cx="163.1" cy="603.8" r="0.9"/><circle cx="164.8" cy="586.5" r="0.9"/><circle cx="163.3" cy="595.6" r="0.9"/><circle cx="165.2" cy="604.5" r="0.9"/><circle cx="162.4" cy="599.1" r="0.9"/><circle cx="161.7" cy="601.0" r="0.9"/><circle cx="163.6" cy="601.8" r="0.9"/><circle cx="162.4" cy="603.3" r="0.9"/><circle cx="162.8" cy="607.2" r="0.9"/><circle cx="161.8" cy="611.8" r="0.9"/><circle cx="163.4" cy="589.7" r="0.9"/><circle cx="162.7" cy="604.7" r="0.9"/><circle cx="162.0" cy="614.1" r="0.9"/><circle cx="162.5" cy="597.6" r="0.9"/><circle cx="161.9" cy="599.1" r="0.9"/><circle cx="165.3" cy="590.2" r="0.9"/><circle cx="162.3" cy="602.0" r="0.9"/><circle cx="164.1" cy="588.7" r="0.9"/><circle cx="162.5" cy="603.9" r="0.9"/><circle cx="164.3" cy="612.7" r="0.9"/><circle cx="164.7" cy="612.2" r="0.9"/><circle cx="162.4" cy="594.2" r="0.9"/><circle cx="163.9" cy="604.3" r="0.9"/><circle cx="164.0" cy="602.3" r="0.9"/><circle cx="162.5" cy="591.9" r="0.9"/><circle cx="163.9" cy="586.8" r="0.9"/><circle cx="165.0" cy="615.6" r="0.9"/></g>
<g fill="#9fb8e0"><circle cx="160.0" cy="616.4" r="0.8"/><circle cx="160.9" cy="598.1" r="0.8"/><circle cx="160.4" cy="604.9" r="0.8"/><circle cx="160.3" cy="599.3" r="0.8"/><circle cx="160.2" cy="598.3" r="0.8"/><circle cx="160.6" cy="607.2" r="0.8"/><circle cx="160.1" cy="615.6" r="0.8"/><circle cx="161.4" cy="607.5" r="0.8"/></g>
<g fill="#dc4420"><circle cx="152.7" cy="608.3" r="0.9"/><circle cx="152.3" cy="614.0" r="0.9"/><circle cx="148.8" cy="613.5" r="0.9"/><circle cx="148.8" cy="605.8" r="0.9"/><circle cx="149.4" cy="605.0" r="0.9"/><circle cx="152.0" cy="606.9" r="0.9"/><circle cx="150.1" cy="614.4" r="0.9"/><circle cx="150.9" cy="615.8" r="0.9"/><circle cx="152.0" cy="612.8" r="0.9"/><circle cx="152.2" cy="612.8" r="0.9"/><circle cx="153.7" cy="611.5" r="0.9"/><circle cx="151.5" cy="610.9" r="0.9"/><circle cx="150.4" cy="616.2" r="0.9"/><circle cx="148.4" cy="606.1" r="0.9"/><circle cx="150.1" cy="607.7" r="0.9"/><circle cx="151.9" cy="612.1" r="0.9"/><circle cx="151.1" cy="608.8" r="0.9"/><circle cx="151.6" cy="609.8" r="0.9"/><circle cx="146.8" cy="612.8" r="0.9"/><circle cx="154.2" cy="604.7" r="0.9"/><circle cx="151.1" cy="611.8" r="0.9"/><circle cx="151.1" cy="610.3" r="0.9"/><circle cx="150.2" cy="616.9" r="0.9"/><circle cx="153.3" cy="609.4" r="0.9"/><circle cx="152.8" cy="612.5" r="0.9"/><circle cx="152.7" cy="617.0" r="0.9"/><circle cx="147.8" cy="614.6" r="0.9"/><circle cx="153.7" cy="606.6" r="0.9"/><circle cx="150.0" cy="615.5" r="0.9"/><circle cx="152.0" cy="611.4" r="0.9"/><circle cx="153.5" cy="616.0" r="0.9"/><circle cx="146.6" cy="616.5" r="0.9"/><circle cx="148.3" cy="611.8" r="0.9"/><circle cx="152.3" cy="607.5" r="0.9"/><circle cx="148.4" cy="615.7" r="0.9"/><circle cx="152.6" cy="616.7" r="0.9"/><circle cx="146.6" cy="612.0" r="0.9"/><circle cx="152.2" cy="616.4" r="0.9"/><circle cx="152.0" cy="607.3" r="0.9"/><circle cx="148.0" cy="611.2" r="0.9"/><circle cx="148.6" cy="605.5" r="0.9"/><circle cx="146.5" cy="612.8" r="0.9"/><circle cx="152.8" cy="605.2" r="0.9"/><circle cx="150.2" cy="616.7" r="0.9"/><circle cx="148.9" cy="610.7" r="0.9"/><circle cx="152.8" cy="603.8" r="0.9"/><circle cx="153.3" cy="614.0" r="0.9"/><circle cx="152.1" cy="608.1" r="0.9"/><circle cx="150.0" cy="616.2" r="0.9"/><circle cx="151.3" cy="616.4" r="0.9"/><circle cx="149.8" cy="614.2" r="0.9"/><circle cx="150.6" cy="612.4" r="0.9"/><circle cx="150.8" cy="613.3" r="0.9"/><circle cx="148.5" cy="609.1" r="0.9"/><circle cx="148.7" cy="605.8" r="0.9"/></g>
<g fill="#9a1a14"><circle cx="146.4" cy="612.2" r="0.8"/><circle cx="154.0" cy="612.1" r="0.8"/><circle cx="153.7" cy="605.2" r="0.8"/><circle cx="151.1" cy="608.4" r="0.8"/><circle cx="153.1" cy="611.6" r="0.8"/><circle cx="151.1" cy="615.8" r="0.8"/><circle cx="154.0" cy="605.4" r="0.8"/><circle cx="149.6" cy="604.7" r="0.8"/><circle cx="150.6" cy="606.5" r="0.8"/><circle cx="151.8" cy="608.3" r="0.8"/><circle cx="150.3" cy="604.3" r="0.8"/><circle cx="152.4" cy="613.2" r="0.8"/><circle cx="146.8" cy="611.9" r="0.8"/><circle cx="146.9" cy="610.7" r="0.8"/></g>
<g fill="#dc4420"><circle cx="166.7" cy="586.6" r="0.9"/><circle cx="171.4" cy="597.7" r="0.9"/><circle cx="174.0" cy="613.9" r="0.9"/><circle cx="169.9" cy="589.4" r="0.9"/><circle cx="168.2" cy="605.9" r="0.9"/><circle cx="170.3" cy="583.6" r="0.9"/><circle cx="168.0" cy="592.4" r="0.9"/><circle cx="170.8" cy="605.3" r="0.9"/><circle cx="166.6" cy="593.9" r="0.9"/><circle cx="168.8" cy="586.9" r="0.9"/><circle cx="169.9" cy="583.0" r="0.9"/><circle cx="168.6" cy="585.8" r="0.9"/><circle cx="167.9" cy="610.0" r="0.9"/><circle cx="174.4" cy="612.2" r="0.9"/><circle cx="167.2" cy="582.6" r="0.9"/><circle cx="169.6" cy="596.2" r="0.9"/><circle cx="176.3" cy="610.0" r="0.9"/><circle cx="165.9" cy="588.9" r="0.9"/><circle cx="170.1" cy="580.0" r="0.9"/><circle cx="169.6" cy="582.0" r="0.9"/><circle cx="171.2" cy="583.9" r="0.9"/><circle cx="168.7" cy="616.8" r="0.9"/><circle cx="174.8" cy="605.8" r="0.9"/><circle cx="170.1" cy="616.0" r="0.9"/><circle cx="168.5" cy="576.7" r="0.9"/><circle cx="172.6" cy="595.2" r="0.9"/><circle cx="176.7" cy="616.9" r="0.9"/><circle cx="166.0" cy="583.4" r="0.9"/><circle cx="165.8" cy="614.3" r="0.9"/><circle cx="169.4" cy="607.3" r="0.9"/><circle cx="172.5" cy="595.3" r="0.9"/><circle cx="172.3" cy="613.5" r="0.9"/><circle cx="170.0" cy="588.2" r="0.9"/><circle cx="166.1" cy="591.6" r="0.9"/><circle cx="165.5" cy="615.7" r="0.9"/><circle cx="166.3" cy="585.8" r="0.9"/><circle cx="166.7" cy="592.7" r="0.9"/><circle cx="170.4" cy="598.2" r="0.9"/><circle cx="167.8" cy="609.2" r="0.9"/><circle cx="177.0" cy="615.3" r="0.9"/><circle cx="170.1" cy="608.1" r="0.9"/><circle cx="170.5" cy="587.9" r="0.9"/><circle cx="172.9" cy="604.5" r="0.9"/><circle cx="168.3" cy="575.5" r="0.9"/><circle cx="171.2" cy="609.1" r="0.9"/><circle cx="166.7" cy="605.2" r="0.9"/><circle cx="170.8" cy="587.0" r="0.9"/><circle cx="172.0" cy="606.6" r="0.9"/><circle cx="176.6" cy="616.0" r="0.9"/><circle cx="175.0" cy="605.9" r="0.9"/><circle cx="166.7" cy="591.9" r="0.9"/><circle cx="168.7" cy="578.1" r="0.9"/><circle cx="172.5" cy="588.9" r="0.9"/><circle cx="171.1" cy="581.3" r="0.9"/><circle cx="166.1" cy="603.8" r="0.9"/><circle cx="173.5" cy="595.6" r="0.9"/><circle cx="172.1" cy="592.0" r="0.9"/><circle cx="168.5" cy="608.3" r="0.9"/><circle cx="169.6" cy="588.7" r="0.9"/><circle cx="171.1" cy="587.2" r="0.9"/><circle cx="172.7" cy="604.9" r="0.9"/><circle cx="170.0" cy="605.5" r="0.9"/><circle cx="170.1" cy="601.0" r="0.9"/><circle cx="166.8" cy="588.1" r="0.9"/><circle cx="172.8" cy="600.5" r="0.9"/><circle cx="172.5" cy="611.3" r="0.9"/><circle cx="169.0" cy="583.4" r="0.9"/><circle cx="166.8" cy="577.7" r="0.9"/><circle cx="173.6" cy="612.0" r="0.9"/><circle cx="169.0" cy="590.8" r="0.9"/><circle cx="173.8" cy="601.3" r="0.9"/><circle cx="170.0" cy="578.4" r="0.9"/><circle cx="169.8" cy="584.4" r="0.9"/><circle cx="173.7" cy="602.4" r="0.9"/><circle cx="173.7" cy="613.2" r="0.9"/><circle cx="165.5" cy="583.3" r="0.9"/><circle cx="166.8" cy="590.3" r="0.9"/><circle cx="170.1" cy="608.5" r="0.9"/><circle cx="169.3" cy="605.6" r="0.9"/><circle cx="173.3" cy="602.4" r="0.9"/><circle cx="165.9" cy="589.9" r="0.9"/><circle cx="169.1" cy="617.0" r="0.9"/><circle cx="173.2" cy="604.1" r="0.9"/><circle cx="171.8" cy="601.0" r="0.9"/><circle cx="170.6" cy="586.3" r="0.9"/><circle cx="169.3" cy="584.2" r="0.9"/><circle cx="167.0" cy="596.1" r="0.9"/><circle cx="174.2" cy="606.0" r="0.9"/><circle cx="168.2" cy="596.2" r="0.9"/><circle cx="165.7" cy="596.7" r="0.9"/><circle cx="165.9" cy="579.5" r="0.9"/><circle cx="167.1" cy="589.2" r="0.9"/><circle cx="171.7" cy="583.9" r="0.9"/><circle cx="166.5" cy="579.8" r="0.9"/><circle cx="177.8" cy="616.4" r="0.9"/><circle cx="168.1" cy="611.9" r="0.9"/><circle cx="165.7" cy="580.9" r="0.9"/><circle cx="173.9" cy="615.5" r="0.9"/><circle cx="169.6" cy="605.7" r="0.9"/><circle cx="171.0" cy="598.9" r="0.9"/><circle cx="165.8" cy="593.6" r="0.9"/><circle cx="171.8" cy="614.2" r="0.9"/><circle cx="174.6" cy="611.5" r="0.9"/><circle cx="165.6" cy="614.3" r="0.9"/><circle cx="171.1" cy="610.6" r="0.9"/><circle cx="165.7" cy="588.2" r="0.9"/><circle cx="169.4" cy="583.8" r="0.9"/><circle cx="174.1" cy="608.3" r="0.9"/><circle cx="173.9" cy="613.2" r="0.9"/><circle cx="167.0" cy="586.8" r="0.9"/><circle cx="170.7" cy="608.2" r="0.9"/><circle cx="175.1" cy="616.6" r="0.9"/><circle cx="175.1" cy="609.3" r="0.9"/><circle cx="172.3" cy="603.4" r="0.9"/><circle cx="167.5" cy="575.9" r="0.9"/><circle cx="174.7" cy="609.2" r="0.9"/><circle cx="168.0" cy="610.7" r="0.9"/><circle cx="167.5" cy="602.5" r="0.9"/><circle cx="176.3" cy="614.7" r="0.9"/><circle cx="167.1" cy="604.3" r="0.9"/><circle cx="172.6" cy="613.4" r="0.9"/><circle cx="171.3" cy="592.1" r="0.9"/><circle cx="168.5" cy="610.5" r="0.9"/><circle cx="169.7" cy="613.2" r="0.9"/><circle cx="165.9" cy="612.3" r="0.9"/><circle cx="165.7" cy="605.3" r="0.9"/><circle cx="173.2" cy="592.1" r="0.9"/><circle cx="166.3" cy="610.2" r="0.9"/><circle cx="171.9" cy="608.6" r="0.9"/><circle cx="166.0" cy="581.5" r="0.9"/><circle cx="168.5" cy="609.2" r="0.9"/><circle cx="170.4" cy="591.0" r="0.9"/><circle cx="176.5" cy="611.0" r="0.9"/><circle cx="168.6" cy="606.1" r="0.9"/><circle cx="170.1" cy="607.1" r="0.9"/><circle cx="171.6" cy="592.6" r="0.9"/><circle cx="171.5" cy="598.1" r="0.9"/><circle cx="172.3" cy="609.7" r="0.9"/><circle cx="167.3" cy="586.1" r="0.9"/><circle cx="176.9" cy="615.5" r="0.9"/><circle cx="173.8" cy="603.6" r="0.9"/><circle cx="172.9" cy="592.8" r="0.9"/><circle cx="174.3" cy="607.4" r="0.9"/><circle cx="168.2" cy="590.3" r="0.9"/><circle cx="168.8" cy="615.4" r="0.9"/><circle cx="171.9" cy="593.7" r="0.9"/><circle cx="167.1" cy="590.4" r="0.9"/><circle cx="166.6" cy="591.6" r="0.9"/><circle cx="171.4" cy="594.9" r="0.9"/><circle cx="167.7" cy="582.2" r="0.9"/></g>
<g fill="#a81c14"><circle cx="170.8" cy="595.5" r="0.8"/><circle cx="170.8" cy="603.3" r="0.8"/><circle cx="171.9" cy="585.2" r="0.8"/><circle cx="173.1" cy="594.2" r="0.8"/><circle cx="175.4" cy="615.5" r="0.8"/><circle cx="170.4" cy="599.4" r="0.8"/><circle cx="168.9" cy="611.2" r="0.8"/><circle cx="172.6" cy="615.8" r="0.8"/><circle cx="165.8" cy="594.3" r="0.8"/><circle cx="169.7" cy="599.0" r="0.8"/><circle cx="173.9" cy="599.7" r="0.8"/><circle cx="170.3" cy="606.4" r="0.8"/><circle cx="172.7" cy="586.0" r="0.8"/><circle cx="166.5" cy="597.4" r="0.8"/><circle cx="172.1" cy="586.9" r="0.8"/><circle cx="167.6" cy="593.4" r="0.8"/><circle cx="172.6" cy="599.7" r="0.8"/><circle cx="170.9" cy="613.1" r="0.8"/><circle cx="170.2" cy="606.2" r="0.8"/><circle cx="171.0" cy="604.0" r="0.8"/><circle cx="172.1" cy="601.3" r="0.8"/><circle cx="171.7" cy="591.0" r="0.8"/><circle cx="174.8" cy="602.9" r="0.8"/><circle cx="166.7" cy="596.2" r="0.8"/><circle cx="169.1" cy="602.1" r="0.8"/></g>
<g fill="#dc4420"><circle cx="169.3" cy="591.0" r="0.8"/><circle cx="171.0" cy="590.4" r="0.8"/><circle cx="177.3" cy="611.9" r="0.8"/><circle cx="178.8" cy="603.9" r="0.8"/><circle cx="181.2" cy="594.5" r="0.8"/><circle cx="174.6" cy="604.1" r="0.8"/><circle cx="170.1" cy="607.9" r="0.8"/><circle cx="184.4" cy="612.6" r="0.8"/><circle cx="167.3" cy="613.9" r="0.8"/><circle cx="170.5" cy="584.8" r="0.8"/><circle cx="178.3" cy="592.8" r="0.8"/><circle cx="169.6" cy="602.5" r="0.8"/><circle cx="176.7" cy="599.9" r="0.8"/><circle cx="176.2" cy="602.8" r="0.8"/><circle cx="181.5" cy="606.7" r="0.8"/><circle cx="180.1" cy="610.6" r="0.8"/><circle cx="175.4" cy="603.7" r="0.8"/><circle cx="175.1" cy="605.2" r="0.8"/><circle cx="170.7" cy="615.5" r="0.8"/><circle cx="171.8" cy="598.2" r="0.8"/><circle cx="175.4" cy="615.9" r="0.8"/><circle cx="169.1" cy="589.3" r="0.8"/></g>
<g fill="#dc4420"><circle cx="142.0" cy="610.0" r="0.8"/><circle cx="138.8" cy="607.4" r="0.8"/><circle cx="145.1" cy="610.9" r="0.8"/><circle cx="141.4" cy="608.7" r="0.8"/><circle cx="145.3" cy="607.2" r="0.8"/><circle cx="142.7" cy="606.7" r="0.8"/><circle cx="140.8" cy="609.6" r="0.8"/><circle cx="145.5" cy="610.8" r="0.8"/></g>
<g fill="#dc4420"><circle cx="171.5" cy="569.0" r="0.9"/><circle cx="168.5" cy="571.5" r="0.9"/><circle cx="163.0" cy="574.0" r="0.9"/><circle cx="174.0" cy="566.0" r="0.9"/><circle cx="182.0" cy="600.0" r="0.9"/><circle cx="186.0" cy="613.0" r="0.9"/><circle cx="189.0" cy="616.0" r="0.9"/></g>
<g fill="#1f9a3a"><circle cx="143.1" cy="783.1" r="0.85"/><circle cx="132.2" cy="787.9" r="0.85"/><circle cx="134.7" cy="783.2" r="0.85"/><circle cx="132.7" cy="784.8" r="0.85"/><circle cx="137.5" cy="784.9" r="0.85"/><circle cx="133.5" cy="785.4" r="0.85"/><circle cx="136.4" cy="783.9" r="0.85"/><circle cx="137.3" cy="785.9" r="0.85"/><circle cx="138.3" cy="786.7" r="0.85"/><circle cx="136.2" cy="784.1" r="0.85"/></g>
<g fill="#1f9a3a"><circle cx="191.9" cy="783.6" r="0.85"/><circle cx="179.8" cy="785.1" r="0.85"/><circle cx="181.8" cy="784.1" r="0.85"/><circle cx="190.4" cy="784.5" r="0.85"/><circle cx="184.4" cy="786.0" r="0.85"/><circle cx="176.5" cy="785.2" r="0.85"/><circle cx="176.5" cy="785.7" r="0.85"/><circle cx="187.9" cy="787.3" r="0.85"/><circle cx="191.8" cy="783.6" r="0.85"/><circle cx="182.7" cy="786.3" r="0.85"/><circle cx="181.1" cy="787.7" r="0.85"/><circle cx="183.4" cy="787.3" r="0.85"/></g>
<polygon points="146.5,782.0 173.5,782.0 173.0,786.0 168.0,788.8 150.0,788.8 147.0,786.0" fill="#1f9a3a"/>
<rect x="155.2" y="782.0" width="10.6" height="7.0" fill="#676767"/>
<g fill="#3565b8"><circle cx="156.1" cy="772.2" r="0.9"/><circle cx="162.5" cy="779.4" r="0.9"/><circle cx="160.5" cy="779.7" r="0.9"/><circle cx="163.2" cy="772.6" r="0.9"/><circle cx="162.6" cy="774.3" r="0.9"/><circle cx="156.5" cy="780.4" r="0.9"/><circle cx="164.0" cy="780.3" r="0.9"/><circle cx="157.8" cy="778.4" r="0.9"/><circle cx="155.8" cy="774.0" r="0.9"/><circle cx="158.5" cy="774.1" r="0.9"/><circle cx="159.3" cy="774.8" r="0.9"/><circle cx="159.8" cy="778.1" r="0.9"/><circle cx="162.1" cy="770.4" r="0.9"/><circle cx="157.4" cy="769.8" r="0.9"/><circle cx="158.7" cy="772.8" r="0.9"/><circle cx="160.5" cy="778.2" r="0.9"/><circle cx="165.4" cy="770.2" r="0.9"/><circle cx="158.4" cy="774.3" r="0.9"/><circle cx="155.5" cy="776.2" r="0.9"/><circle cx="155.8" cy="775.5" r="0.9"/><circle cx="161.4" cy="772.1" r="0.9"/><circle cx="165.5" cy="771.0" r="0.9"/><circle cx="157.9" cy="777.8" r="0.9"/><circle cx="162.9" cy="771.7" r="0.9"/><circle cx="164.4" cy="768.6" r="0.9"/><circle cx="157.7" cy="775.1" r="0.9"/><circle cx="160.8" cy="778.6" r="0.9"/><circle cx="158.5" cy="780.4" r="0.9"/><circle cx="161.8" cy="777.0" r="0.9"/><circle cx="161.3" cy="769.4" r="0.9"/><circle cx="161.1" cy="781.1" r="0.9"/><circle cx="155.6" cy="771.3" r="0.9"/><circle cx="158.5" cy="770.1" r="0.9"/><circle cx="163.3" cy="776.4" r="0.9"/></g>
<g fill="#dc4420"><circle cx="167.2" cy="776.1" r="0.9"/><circle cx="166.0" cy="774.0" r="0.9"/><circle cx="174.8" cy="773.0" r="0.9"/><circle cx="171.0" cy="770.1" r="0.9"/><circle cx="171.6" cy="780.2" r="0.9"/><circle cx="171.9" cy="776.9" r="0.9"/><circle cx="170.6" cy="779.7" r="0.9"/><circle cx="173.6" cy="772.2" r="0.9"/><circle cx="168.9" cy="768.0" r="0.9"/><circle cx="166.5" cy="772.4" r="0.9"/><circle cx="170.2" cy="774.0" r="0.9"/><circle cx="168.7" cy="780.1" r="0.9"/><circle cx="170.7" cy="778.6" r="0.9"/><circle cx="168.4" cy="779.8" r="0.9"/><circle cx="171.4" cy="772.9" r="0.9"/><circle cx="170.2" cy="780.8" r="0.9"/><circle cx="171.5" cy="772.7" r="0.9"/><circle cx="169.5" cy="771.1" r="0.9"/><circle cx="168.6" cy="770.9" r="0.9"/><circle cx="168.5" cy="763.5" r="0.9"/><circle cx="169.5" cy="762.5" r="0.9"/><circle cx="168.6" cy="773.0" r="0.9"/><circle cx="168.8" cy="776.5" r="0.9"/><circle cx="168.9" cy="780.4" r="0.9"/><circle cx="166.2" cy="763.1" r="0.9"/><circle cx="174.8" cy="775.8" r="0.9"/><circle cx="168.5" cy="774.9" r="0.9"/><circle cx="169.5" cy="772.2" r="0.9"/><circle cx="168.6" cy="772.8" r="0.9"/><circle cx="172.4" cy="778.9" r="0.9"/></g>
<g fill="#dc4420"><circle cx="149.8" cy="777.7" r="0.8"/><circle cx="152.0" cy="780.7" r="0.8"/><circle cx="151.4" cy="780.6" r="0.8"/><circle cx="154.5" cy="776.1" r="0.8"/><circle cx="150.8" cy="781.7" r="0.8"/><circle cx="152.1" cy="777.3" r="0.8"/></g>
<g fill="#dc4420"><circle cx="166.2" cy="748.0" r="0.9"/><circle cx="166.2" cy="722.5" r="0.9"/></g>
<g fill="#1f9a3a"><circle cx="377.1" cy="135.9" r="0.85"/><circle cx="371.4" cy="136.0" r="0.85"/><circle cx="365.8" cy="135.4" r="0.85"/><circle cx="360.2" cy="136.2" r="0.85"/><circle cx="378.1" cy="136.2" r="0.85"/><circle cx="381.4" cy="136.2" r="0.85"/></g>
<g fill="#1f9a3a"><circle cx="452.1" cy="135.2" r="0.85"/><circle cx="475.7" cy="134.7" r="0.85"/><circle cx="474.5" cy="136.3" r="0.85"/><circle cx="453.3" cy="135.0" r="0.85"/><circle cx="470.2" cy="136.0" r="0.85"/><circle cx="449.9" cy="135.7" r="0.85"/><circle cx="454.5" cy="136.5" r="0.85"/></g>
<rect x="382.0" y="135.2" width="67.4" height="2.2" fill="#1f9a3a"/>
<g fill="#1f9a3a"><circle cx="421.8" cy="129.1" r="0.85"/><circle cx="414.8" cy="129.1" r="0.85"/><circle cx="440.3" cy="136.1" r="0.85"/><circle cx="427.5" cy="135.1" r="0.85"/><circle cx="422.9" cy="129.9" r="0.85"/><circle cx="407.3" cy="134.8" r="0.85"/><circle cx="401.2" cy="132.0" r="0.85"/><circle cx="402.6" cy="134.2" r="0.85"/><circle cx="412.5" cy="135.3" r="0.85"/><circle cx="413.3" cy="135.6" r="0.85"/><circle cx="422.3" cy="132.6" r="0.85"/><circle cx="401.1" cy="136.3" r="0.85"/><circle cx="412.1" cy="133.9" r="0.85"/><circle cx="398.0" cy="136.6" r="0.85"/><circle cx="401.5" cy="134.3" r="0.85"/><circle cx="418.4" cy="132.8" r="0.85"/><circle cx="405.9" cy="130.2" r="0.85"/><circle cx="437.2" cy="133.8" r="0.85"/><circle cx="432.3" cy="134.9" r="0.85"/><circle cx="415.1" cy="133.4" r="0.85"/><circle cx="410.1" cy="134.2" r="0.85"/><circle cx="416.5" cy="135.3" r="0.85"/><circle cx="409.6" cy="132.1" r="0.85"/><circle cx="416.2" cy="132.0" r="0.85"/><circle cx="436.5" cy="131.9" r="0.85"/><circle cx="407.3" cy="133.9" r="0.85"/><circle cx="412.8" cy="129.1" r="0.85"/><circle cx="401.5" cy="134.4" r="0.85"/></g>
<polygon points="408.8,137.0 409.5,131.5 413.0,129.5 417.0,131.0 420.0,129.5 424.0,130.0 425.5,133.0 425.5,137.0" fill="#766868" fill-opacity="0.85"/>
<g fill="#5a4e50"><circle cx="420.8" cy="137.0" r="0.8"/><circle cx="413.0" cy="135.3" r="0.8"/><circle cx="414.5" cy="133.4" r="0.8"/><circle cx="413.5" cy="132.6" r="0.8"/><circle cx="424.1" cy="131.4" r="0.8"/><circle cx="415.9" cy="136.3" r="0.8"/><circle cx="416.3" cy="135.6" r="0.8"/><circle cx="417.7" cy="132.1" r="0.8"/><circle cx="420.8" cy="134.4" r="0.8"/><circle cx="415.2" cy="137.0" r="0.8"/><circle cx="410.3" cy="135.9" r="0.8"/><circle cx="420.8" cy="134.8" r="0.8"/><circle cx="416.7" cy="135.1" r="0.8"/><circle cx="409.5" cy="134.5" r="0.8"/><circle cx="423.3" cy="132.6" r="0.8"/><circle cx="421.2" cy="134.7" r="0.8"/><circle cx="417.2" cy="135.3" r="0.8"/><circle cx="417.5" cy="135.1" r="0.8"/><circle cx="411.5" cy="133.0" r="0.8"/><circle cx="423.2" cy="132.1" r="0.8"/><circle cx="414.9" cy="134.7" r="0.8"/><circle cx="418.4" cy="131.7" r="0.8"/><circle cx="411.4" cy="132.7" r="0.8"/><circle cx="423.7" cy="137.0" r="0.8"/><circle cx="420.8" cy="134.7" r="0.8"/></g>
<g fill="#e8e0e0"><circle cx="420.3" cy="136.4" r="0.6"/><circle cx="411.5" cy="130.6" r="0.6"/><circle cx="417.5" cy="132.5" r="0.6"/><circle cx="424.1" cy="134.2" r="0.6"/><circle cx="412.6" cy="130.0" r="0.6"/><circle cx="416.7" cy="133.6" r="0.6"/><circle cx="416.6" cy="133.9" r="0.6"/><circle cx="409.8" cy="132.2" r="0.6"/><circle cx="422.7" cy="131.7" r="0.6"/><circle cx="411.9" cy="130.8" r="0.6"/></g>
<g fill="#c8282a"><circle cx="407.7" cy="119.6" r="1.0"/><circle cx="428.9" cy="98.0" r="1.0"/></g>
<g fill="#3565b8"><circle cx="423.8" cy="92.3" r="0.9"/><circle cx="420.0" cy="119.0" r="0.9"/><circle cx="422.5" cy="121.0" r="0.9"/><circle cx="418.5" cy="122.0" r="0.9"/></g>
<g fill="#1f9a3a"><circle cx="455.2" cy="295.3" r="0.9"/><circle cx="452.3" cy="297.9" r="0.9"/><circle cx="436.2" cy="279.2" r="0.9"/><circle cx="429.4" cy="281.7" r="0.9"/><circle cx="439.3" cy="297.4" r="0.9"/><circle cx="386.1" cy="279.7" r="0.9"/><circle cx="385.6" cy="291.6" r="0.9"/><circle cx="455.2" cy="291.1" r="0.9"/><circle cx="397.6" cy="297.8" r="0.9"/><circle cx="410.6" cy="297.9" r="0.9"/><circle cx="415.0" cy="285.6" r="0.9"/><circle cx="446.1" cy="294.6" r="0.9"/><circle cx="433.1" cy="284.5" r="0.9"/><circle cx="377.0" cy="296.6" r="0.9"/><circle cx="434.8" cy="285.9" r="0.9"/><circle cx="396.5" cy="278.3" r="0.9"/><circle cx="388.1" cy="282.1" r="0.9"/><circle cx="436.7" cy="297.3" r="0.9"/><circle cx="457.2" cy="293.6" r="0.9"/><circle cx="415.6" cy="289.7" r="0.9"/><circle cx="443.6" cy="289.2" r="0.9"/><circle cx="433.5" cy="295.8" r="0.9"/><circle cx="382.7" cy="277.3" r="0.9"/><circle cx="411.5" cy="292.6" r="0.9"/><circle cx="412.1" cy="297.1" r="0.9"/><circle cx="394.7" cy="287.9" r="0.9"/><circle cx="413.3" cy="288.0" r="0.9"/><circle cx="450.6" cy="298.7" r="0.9"/><circle cx="391.9" cy="296.9" r="0.9"/><circle cx="431.0" cy="290.5" r="0.9"/><circle cx="389.2" cy="292.4" r="0.9"/><circle cx="400.3" cy="298.7" r="0.9"/><circle cx="380.6" cy="273.6" r="0.9"/><circle cx="436.4" cy="288.5" r="0.9"/><circle cx="380.6" cy="287.7" r="0.9"/><circle cx="447.4" cy="284.9" r="0.9"/><circle cx="399.8" cy="287.8" r="0.9"/><circle cx="416.0" cy="286.0" r="0.9"/><circle cx="378.4" cy="291.7" r="0.9"/><circle cx="430.8" cy="294.2" r="0.9"/><circle cx="444.9" cy="294.6" r="0.9"/><circle cx="454.2" cy="293.5" r="0.9"/><circle cx="396.8" cy="274.6" r="0.9"/><circle cx="419.4" cy="282.2" r="0.9"/><circle cx="442.0" cy="287.7" r="0.9"/><circle cx="400.2" cy="287.8" r="0.9"/><circle cx="460.6" cy="299.1" r="0.9"/><circle cx="382.5" cy="282.8" r="0.9"/><circle cx="382.7" cy="288.7" r="0.9"/><circle cx="457.5" cy="298.0" r="0.9"/><circle cx="391.8" cy="276.8" r="0.9"/><circle cx="431.7" cy="288.6" r="0.9"/><circle cx="387.9" cy="299.2" r="0.9"/><circle cx="434.3" cy="284.0" r="0.9"/><circle cx="386.0" cy="292.5" r="0.9"/><circle cx="396.6" cy="299.3" r="0.9"/><circle cx="394.4" cy="278.3" r="0.9"/><circle cx="399.5" cy="275.2" r="0.9"/><circle cx="440.8" cy="277.4" r="0.9"/><circle cx="446.6" cy="298.4" r="0.9"/><circle cx="372.6" cy="294.3" r="0.9"/><circle cx="445.3" cy="282.9" r="0.9"/><circle cx="429.2" cy="298.1" r="0.9"/><circle cx="429.5" cy="289.2" r="0.9"/><circle cx="401.6" cy="292.9" r="0.9"/><circle cx="444.3" cy="292.3" r="0.9"/><circle cx="427.3" cy="298.7" r="0.9"/><circle cx="434.0" cy="279.3" r="0.9"/><circle cx="381.3" cy="279.4" r="0.9"/><circle cx="409.9" cy="283.7" r="0.9"/><circle cx="442.3" cy="292.1" r="0.9"/><circle cx="442.6" cy="298.1" r="0.9"/><circle cx="372.0" cy="289.8" r="0.9"/><circle cx="384.2" cy="292.6" r="0.9"/><circle cx="382.8" cy="289.9" r="0.9"/><circle cx="445.9" cy="295.9" r="0.9"/><circle cx="404.7" cy="294.2" r="0.9"/><circle cx="434.4" cy="280.3" r="0.9"/><circle cx="382.8" cy="287.7" r="0.9"/><circle cx="448.5" cy="293.8" r="0.9"/><circle cx="385.7" cy="298.7" r="0.9"/><circle cx="445.9" cy="294.3" r="0.9"/><circle cx="391.6" cy="271.5" r="0.9"/><circle cx="393.4" cy="283.3" r="0.9"/><circle cx="392.1" cy="283.1" r="0.9"/><circle cx="427.5" cy="298.3" r="0.9"/><circle cx="384.8" cy="287.2" r="0.9"/><circle cx="392.9" cy="293.2" r="0.9"/><circle cx="389.0" cy="297.0" r="0.9"/><circle cx="435.3" cy="283.4" r="0.9"/><circle cx="399.7" cy="284.0" r="0.9"/><circle cx="448.9" cy="296.1" r="0.9"/><circle cx="394.0" cy="294.6" r="0.9"/><circle cx="383.7" cy="294.3" r="0.9"/><circle cx="410.9" cy="297.7" r="0.9"/><circle cx="400.9" cy="284.9" r="0.9"/><circle cx="451.6" cy="294.8" r="0.9"/><circle cx="429.2" cy="287.5" r="0.9"/><circle cx="411.5" cy="289.8" r="0.9"/><circle cx="454.0" cy="298.4" r="0.9"/><circle cx="454.7" cy="294.1" r="0.9"/><circle cx="368.8" cy="299.3" r="0.9"/><circle cx="440.0" cy="295.1" r="0.9"/><circle cx="414.9" cy="295.1" r="0.9"/><circle cx="410.8" cy="297.6" r="0.9"/><circle cx="388.2" cy="293.3" r="0.9"/><circle cx="453.5" cy="298.5" r="0.9"/><circle cx="388.2" cy="293.5" r="0.9"/><circle cx="410.7" cy="298.7" r="0.9"/><circle cx="403.1" cy="288.4" r="0.9"/><circle cx="387.1" cy="288.4" r="0.9"/><circle cx="415.2" cy="298.9" r="0.9"/><circle cx="429.6" cy="285.7" r="0.9"/><circle cx="393.2" cy="285.2" r="0.9"/><circle cx="403.0" cy="293.4" r="0.9"/><circle cx="453.7" cy="292.1" r="0.9"/><circle cx="429.2" cy="295.8" r="0.9"/><circle cx="417.9" cy="293.1" r="0.9"/><circle cx="410.7" cy="287.8" r="0.9"/><circle cx="419.4" cy="296.7" r="0.9"/><circle cx="422.8" cy="282.9" r="0.9"/><circle cx="433.4" cy="294.3" r="0.9"/><circle cx="433.4" cy="275.7" r="0.9"/><circle cx="411.0" cy="291.7" r="0.9"/><circle cx="378.4" cy="286.1" r="0.9"/><circle cx="388.9" cy="298.4" r="0.9"/><circle cx="441.7" cy="299.4" r="0.9"/><circle cx="389.5" cy="298.8" r="0.9"/><circle cx="439.6" cy="280.6" r="0.9"/><circle cx="382.5" cy="290.0" r="0.9"/><circle cx="423.5" cy="282.0" r="0.9"/><circle cx="371.3" cy="296.2" r="0.9"/><circle cx="444.2" cy="292.2" r="0.9"/><circle cx="429.3" cy="298.7" r="0.9"/><circle cx="384.1" cy="294.7" r="0.9"/><circle cx="384.8" cy="284.6" r="0.9"/><circle cx="386.7" cy="285.4" r="0.9"/><circle cx="394.1" cy="295.3" r="0.9"/><circle cx="412.6" cy="283.2" r="0.9"/><circle cx="382.0" cy="283.7" r="0.9"/><circle cx="405.5" cy="287.1" r="0.9"/><circle cx="433.5" cy="297.3" r="0.9"/><circle cx="432.0" cy="285.5" r="0.9"/><circle cx="445.2" cy="284.6" r="0.9"/><circle cx="454.2" cy="292.2" r="0.9"/><circle cx="409.5" cy="290.1" r="0.9"/><circle cx="385.3" cy="293.6" r="0.9"/><circle cx="436.9" cy="288.1" r="0.9"/><circle cx="441.5" cy="295.3" r="0.9"/><circle cx="402.4" cy="298.9" r="0.9"/><circle cx="443.6" cy="294.5" r="0.9"/><circle cx="449.1" cy="293.8" r="0.9"/><circle cx="382.1" cy="293.3" r="0.9"/><circle cx="399.1" cy="292.8" r="0.9"/><circle cx="399.0" cy="275.5" r="0.9"/><circle cx="424.1" cy="290.6" r="0.9"/><circle cx="436.7" cy="287.0" r="0.9"/><circle cx="416.0" cy="280.9" r="0.9"/><circle cx="381.3" cy="295.0" r="0.9"/><circle cx="457.5" cy="297.7" r="0.9"/><circle cx="396.9" cy="286.6" r="0.9"/><circle cx="385.6" cy="291.0" r="0.9"/><circle cx="454.9" cy="295.7" r="0.9"/><circle cx="372.8" cy="291.7" r="0.9"/><circle cx="441.7" cy="292.6" r="0.9"/><circle cx="426.7" cy="285.0" r="0.9"/><circle cx="422.6" cy="282.0" r="0.9"/><circle cx="454.1" cy="293.1" r="0.9"/><circle cx="423.1" cy="280.1" r="0.9"/><circle cx="400.7" cy="283.5" r="0.9"/><circle cx="453.2" cy="298.4" r="0.9"/><circle cx="413.3" cy="287.8" r="0.9"/><circle cx="421.0" cy="289.7" r="0.9"/><circle cx="417.2" cy="280.4" r="0.9"/><circle cx="390.2" cy="297.6" r="0.9"/><circle cx="417.4" cy="293.3" r="0.9"/><circle cx="401.4" cy="294.7" r="0.9"/><circle cx="441.3" cy="296.1" r="0.9"/><circle cx="383.6" cy="299.1" r="0.9"/><circle cx="460.4" cy="298.5" r="0.9"/><circle cx="385.7" cy="279.1" r="0.9"/><circle cx="396.5" cy="277.5" r="0.9"/><circle cx="373.8" cy="297.4" r="0.9"/><circle cx="452.7" cy="296.8" r="0.9"/><circle cx="451.8" cy="291.7" r="0.9"/><circle cx="390.2" cy="297.8" r="0.9"/><circle cx="391.8" cy="292.6" r="0.9"/><circle cx="404.3" cy="295.8" r="0.9"/><circle cx="431.3" cy="289.6" r="0.9"/><circle cx="438.2" cy="287.6" r="0.9"/><circle cx="418.1" cy="299.0" r="0.9"/><circle cx="394.3" cy="296.4" r="0.9"/><circle cx="454.6" cy="294.6" r="0.9"/><circle cx="410.4" cy="284.6" r="0.9"/><circle cx="407.8" cy="287.1" r="0.9"/><circle cx="449.0" cy="295.0" r="0.9"/><circle cx="436.8" cy="292.7" r="0.9"/><circle cx="429.4" cy="289.9" r="0.9"/><circle cx="424.2" cy="295.6" r="0.9"/><circle cx="373.9" cy="293.6" r="0.9"/><circle cx="394.7" cy="282.5" r="0.9"/><circle cx="422.5" cy="291.3" r="0.9"/><circle cx="402.4" cy="282.6" r="0.9"/><circle cx="397.5" cy="291.4" r="0.9"/><circle cx="437.9" cy="298.4" r="0.9"/><circle cx="369.8" cy="292.5" r="0.9"/><circle cx="441.5" cy="286.2" r="0.9"/><circle cx="430.3" cy="286.2" r="0.9"/><circle cx="400.8" cy="297.2" r="0.9"/><circle cx="449.5" cy="296.0" r="0.9"/><circle cx="453.1" cy="298.7" r="0.9"/><circle cx="422.1" cy="298.0" r="0.9"/><circle cx="449.8" cy="285.7" r="0.9"/><circle cx="422.7" cy="296.2" r="0.9"/><circle cx="418.2" cy="282.0" r="0.9"/><circle cx="387.3" cy="281.7" r="0.9"/><circle cx="389.9" cy="290.6" r="0.9"/><circle cx="446.4" cy="280.9" r="0.9"/><circle cx="439.4" cy="279.8" r="0.9"/><circle cx="407.3" cy="286.5" r="0.9"/><circle cx="380.4" cy="295.1" r="0.9"/><circle cx="396.3" cy="295.1" r="0.9"/><circle cx="408.4" cy="292.6" r="0.9"/><circle cx="392.7" cy="298.8" r="0.9"/><circle cx="391.3" cy="284.1" r="0.9"/><circle cx="399.7" cy="282.8" r="0.9"/><circle cx="414.7" cy="297.5" r="0.9"/><circle cx="444.9" cy="295.9" r="0.9"/><circle cx="418.2" cy="294.5" r="0.9"/><circle cx="390.2" cy="294.0" r="0.9"/><circle cx="419.5" cy="292.1" r="0.9"/><circle cx="393.8" cy="286.8" r="0.9"/><circle cx="429.5" cy="293.0" r="0.9"/><circle cx="391.6" cy="289.0" r="0.9"/><circle cx="399.1" cy="292.3" r="0.9"/><circle cx="386.8" cy="298.2" r="0.9"/><circle cx="379.2" cy="285.4" r="0.9"/><circle cx="399.3" cy="298.1" r="0.9"/><circle cx="385.5" cy="289.0" r="0.9"/><circle cx="401.3" cy="282.9" r="0.9"/><circle cx="422.2" cy="289.7" r="0.9"/><circle cx="427.7" cy="293.9" r="0.9"/><circle cx="394.6" cy="289.6" r="0.9"/><circle cx="431.1" cy="285.3" r="0.9"/><circle cx="429.6" cy="283.8" r="0.9"/><circle cx="437.3" cy="294.4" r="0.9"/><circle cx="392.8" cy="294.4" r="0.9"/><circle cx="384.1" cy="277.4" r="0.9"/><circle cx="458.6" cy="298.6" r="0.9"/><circle cx="405.0" cy="296.9" r="0.9"/><circle cx="394.9" cy="299.1" r="0.9"/><circle cx="403.5" cy="288.6" r="0.9"/><circle cx="419.9" cy="292.4" r="0.9"/><circle cx="432.7" cy="291.0" r="0.9"/><circle cx="385.6" cy="297.2" r="0.9"/><circle cx="408.5" cy="292.1" r="0.9"/><circle cx="397.7" cy="277.3" r="0.9"/><circle cx="414.0" cy="291.5" r="0.9"/><circle cx="400.4" cy="279.5" r="0.9"/><circle cx="416.8" cy="293.0" r="0.9"/><circle cx="368.8" cy="296.5" r="0.9"/><circle cx="434.9" cy="295.5" r="0.9"/><circle cx="382.9" cy="292.5" r="0.9"/><circle cx="421.4" cy="281.8" r="0.9"/><circle cx="384.3" cy="297.1" r="0.9"/><circle cx="395.5" cy="278.0" r="0.9"/><circle cx="418.1" cy="287.2" r="0.9"/><circle cx="434.5" cy="281.5" r="0.9"/><circle cx="432.9" cy="297.2" r="0.9"/><circle cx="437.8" cy="292.4" r="0.9"/><circle cx="415.3" cy="298.7" r="0.9"/><circle cx="435.8" cy="290.6" r="0.9"/><circle cx="389.3" cy="286.9" r="0.9"/><circle cx="418.9" cy="292.7" r="0.9"/><circle cx="417.1" cy="284.2" r="0.9"/><circle cx="369.2" cy="295.9" r="0.9"/><circle cx="433.5" cy="289.9" r="0.9"/><circle cx="399.3" cy="291.4" r="0.9"/><circle cx="382.2" cy="283.0" r="0.9"/><circle cx="430.8" cy="298.6" r="0.9"/><circle cx="381.7" cy="295.8" r="0.9"/><circle cx="438.5" cy="292.2" r="0.9"/><circle cx="406.4" cy="281.1" r="0.9"/><circle cx="407.6" cy="294.5" r="0.9"/><circle cx="391.7" cy="281.2" r="0.9"/><circle cx="375.8" cy="289.1" r="0.9"/><circle cx="392.4" cy="277.8" r="0.9"/><circle cx="422.3" cy="285.2" r="0.9"/><circle cx="458.8" cy="296.5" r="0.9"/><circle cx="385.4" cy="285.5" r="0.9"/><circle cx="447.7" cy="291.7" r="0.9"/><circle cx="396.7" cy="295.9" r="0.9"/><circle cx="373.4" cy="289.0" r="0.9"/><circle cx="377.2" cy="294.9" r="0.9"/><circle cx="384.2" cy="284.6" r="0.9"/><circle cx="454.1" cy="296.8" r="0.9"/><circle cx="442.5" cy="292.4" r="0.9"/><circle cx="435.1" cy="288.7" r="0.9"/><circle cx="454.4" cy="292.9" r="0.9"/><circle cx="388.4" cy="287.7" r="0.9"/><circle cx="424.5" cy="296.5" r="0.9"/><circle cx="410.8" cy="289.6" r="0.9"/><circle cx="411.9" cy="284.9" r="0.9"/><circle cx="429.1" cy="291.4" r="0.9"/><circle cx="422.0" cy="290.8" r="0.9"/><circle cx="378.3" cy="287.3" r="0.9"/><circle cx="419.5" cy="284.3" r="0.9"/><circle cx="396.6" cy="279.4" r="0.9"/><circle cx="392.0" cy="273.8" r="0.9"/><circle cx="434.9" cy="297.2" r="0.9"/><circle cx="455.9" cy="295.6" r="0.9"/><circle cx="426.4" cy="297.5" r="0.9"/><circle cx="405.9" cy="290.4" r="0.9"/><circle cx="419.2" cy="296.1" r="0.9"/><circle cx="427.1" cy="284.7" r="0.9"/><circle cx="405.9" cy="297.0" r="0.9"/><circle cx="401.4" cy="291.5" r="0.9"/><circle cx="424.9" cy="297.8" r="0.9"/><circle cx="433.1" cy="294.9" r="0.9"/><circle cx="444.7" cy="290.1" r="0.9"/><circle cx="418.1" cy="291.1" r="0.9"/><circle cx="383.1" cy="298.0" r="0.9"/><circle cx="413.1" cy="285.7" r="0.9"/><circle cx="384.5" cy="281.6" r="0.9"/><circle cx="437.9" cy="275.8" r="0.9"/><circle cx="404.5" cy="295.0" r="0.9"/><circle cx="392.8" cy="294.7" r="0.9"/><circle cx="435.5" cy="294.0" r="0.9"/><circle cx="419.0" cy="287.5" r="0.9"/><circle cx="454.3" cy="298.6" r="0.9"/></g>
<g fill="#1f9a3a"><circle cx="395.5" cy="287.7" r="0.9"/><circle cx="395.5" cy="291.7" r="0.9"/><circle cx="401.6" cy="292.5" r="0.9"/><circle cx="387.7" cy="288.7" r="0.9"/><circle cx="403.8" cy="293.7" r="0.9"/><circle cx="404.5" cy="288.6" r="0.9"/><circle cx="394.2" cy="287.6" r="0.9"/><circle cx="385.5" cy="290.7" r="0.9"/><circle cx="388.7" cy="298.8" r="0.9"/><circle cx="383.0" cy="297.9" r="0.9"/><circle cx="383.3" cy="297.5" r="0.9"/><circle cx="390.0" cy="290.8" r="0.9"/><circle cx="383.1" cy="294.4" r="0.9"/><circle cx="396.9" cy="289.7" r="0.9"/><circle cx="400.7" cy="295.5" r="0.9"/><circle cx="382.1" cy="298.2" r="0.9"/><circle cx="407.8" cy="296.7" r="0.9"/><circle cx="409.4" cy="290.6" r="0.9"/><circle cx="409.2" cy="295.1" r="0.9"/><circle cx="383.5" cy="296.1" r="0.9"/><circle cx="405.7" cy="292.2" r="0.9"/><circle cx="400.6" cy="297.7" r="0.9"/><circle cx="393.5" cy="296.6" r="0.9"/><circle cx="398.1" cy="296.5" r="0.9"/><circle cx="406.9" cy="288.0" r="0.9"/><circle cx="386.0" cy="293.9" r="0.9"/><circle cx="391.0" cy="290.0" r="0.9"/><circle cx="411.7" cy="291.5" r="0.9"/><circle cx="386.8" cy="291.0" r="0.9"/><circle cx="399.1" cy="286.4" r="0.9"/><circle cx="385.4" cy="293.0" r="0.9"/><circle cx="391.6" cy="295.3" r="0.9"/><circle cx="409.0" cy="296.1" r="0.9"/><circle cx="400.5" cy="294.1" r="0.9"/><circle cx="394.1" cy="295.2" r="0.9"/><circle cx="394.7" cy="292.7" r="0.9"/><circle cx="382.5" cy="298.7" r="0.9"/><circle cx="387.6" cy="291.2" r="0.9"/><circle cx="405.6" cy="298.7" r="0.9"/><circle cx="391.7" cy="292.0" r="0.9"/><circle cx="406.7" cy="292.5" r="0.9"/><circle cx="382.0" cy="298.0" r="0.9"/><circle cx="406.5" cy="297.1" r="0.9"/><circle cx="389.7" cy="290.7" r="0.9"/><circle cx="393.8" cy="290.9" r="0.9"/><circle cx="403.6" cy="295.2" r="0.9"/><circle cx="411.6" cy="298.9" r="0.9"/><circle cx="399.3" cy="298.3" r="0.9"/><circle cx="399.0" cy="288.8" r="0.9"/><circle cx="396.2" cy="289.6" r="0.9"/><circle cx="408.9" cy="296.7" r="0.9"/><circle cx="383.3" cy="294.7" r="0.9"/><circle cx="400.5" cy="296.3" r="0.9"/><circle cx="384.6" cy="293.8" r="0.9"/><circle cx="391.5" cy="290.8" r="0.9"/><circle cx="393.0" cy="292.9" r="0.9"/><circle cx="382.4" cy="295.4" r="0.9"/><circle cx="410.0" cy="296.0" r="0.9"/><circle cx="394.5" cy="292.2" r="0.9"/><circle cx="404.0" cy="287.0" r="0.9"/><circle cx="391.3" cy="292.4" r="0.9"/><circle cx="385.5" cy="292.1" r="0.9"/><circle cx="391.2" cy="287.9" r="0.9"/><circle cx="398.7" cy="291.8" r="0.9"/><circle cx="384.0" cy="293.2" r="0.9"/><circle cx="387.2" cy="293.6" r="0.9"/><circle cx="390.1" cy="295.6" r="0.9"/><circle cx="390.7" cy="296.2" r="0.9"/><circle cx="390.7" cy="296.3" r="0.9"/><circle cx="407.4" cy="298.4" r="0.9"/><circle cx="403.9" cy="291.7" r="0.9"/><circle cx="395.3" cy="287.2" r="0.9"/><circle cx="389.4" cy="289.5" r="0.9"/><circle cx="405.4" cy="296.5" r="0.9"/><circle cx="400.1" cy="296.2" r="0.9"/><circle cx="393.7" cy="294.6" r="0.9"/><circle cx="396.6" cy="297.8" r="0.9"/><circle cx="395.8" cy="298.1" r="0.9"/><circle cx="392.3" cy="289.4" r="0.9"/><circle cx="385.1" cy="291.8" r="0.9"/><circle cx="389.9" cy="298.8" r="0.9"/><circle cx="404.8" cy="291.6" r="0.9"/><circle cx="387.5" cy="292.7" r="0.9"/><circle cx="390.6" cy="294.3" r="0.9"/><circle cx="388.9" cy="294.3" r="0.9"/><circle cx="404.4" cy="289.8" r="0.9"/><circle cx="387.0" cy="293.6" r="0.9"/><circle cx="398.2" cy="297.8" r="0.9"/><circle cx="405.8" cy="292.2" r="0.9"/><circle cx="395.7" cy="296.6" r="0.9"/><circle cx="398.3" cy="287.6" r="0.9"/><circle cx="392.1" cy="287.5" r="0.9"/><circle cx="401.3" cy="296.5" r="0.9"/><circle cx="400.2" cy="286.7" r="0.9"/><circle cx="401.7" cy="296.1" r="0.9"/><circle cx="386.4" cy="295.6" r="0.9"/><circle cx="409.5" cy="288.9" r="0.9"/><circle cx="400.6" cy="298.5" r="0.9"/><circle cx="404.4" cy="292.1" r="0.9"/><circle cx="393.6" cy="291.4" r="0.9"/><circle cx="384.9" cy="296.5" r="0.9"/><circle cx="396.5" cy="296.2" r="0.9"/><circle cx="395.2" cy="289.2" r="0.9"/><circle cx="402.9" cy="292.7" r="0.9"/><circle cx="392.3" cy="299.1" r="0.9"/><circle cx="391.6" cy="290.8" r="0.9"/><circle cx="387.1" cy="289.7" r="0.9"/><circle cx="387.9" cy="292.9" r="0.9"/><circle cx="393.3" cy="292.3" r="0.9"/><circle cx="406.6" cy="290.7" r="0.9"/><circle cx="399.3" cy="292.9" r="0.9"/><circle cx="410.1" cy="294.0" r="0.9"/><circle cx="409.6" cy="290.8" r="0.9"/><circle cx="406.0" cy="287.5" r="0.9"/><circle cx="389.2" cy="297.4" r="0.9"/><circle cx="392.5" cy="289.0" r="0.9"/><circle cx="410.1" cy="297.5" r="0.9"/><circle cx="397.6" cy="287.0" r="0.9"/><circle cx="410.1" cy="290.4" r="0.9"/><circle cx="395.5" cy="293.5" r="0.9"/><circle cx="384.0" cy="295.4" r="0.9"/><circle cx="396.3" cy="297.0" r="0.9"/><circle cx="409.2" cy="297.7" r="0.9"/><circle cx="394.0" cy="290.7" r="0.9"/><circle cx="400.3" cy="291.5" r="0.9"/><circle cx="394.5" cy="289.3" r="0.9"/><circle cx="400.2" cy="298.2" r="0.9"/><circle cx="411.2" cy="289.6" r="0.9"/><circle cx="383.3" cy="297.0" r="0.9"/><circle cx="391.0" cy="290.9" r="0.9"/><circle cx="386.2" cy="295.4" r="0.9"/><circle cx="386.1" cy="298.8" r="0.9"/><circle cx="380.7" cy="298.4" r="0.9"/><circle cx="393.0" cy="291.9" r="0.9"/><circle cx="395.9" cy="289.2" r="0.9"/><circle cx="409.1" cy="293.0" r="0.9"/><circle cx="397.3" cy="297.7" r="0.9"/><circle cx="401.0" cy="297.2" r="0.9"/><circle cx="386.8" cy="292.9" r="0.9"/><circle cx="388.3" cy="298.0" r="0.9"/></g>
<g fill="#1f9a3a"><circle cx="431.7" cy="290.0" r="0.9"/><circle cx="435.5" cy="288.9" r="0.9"/><circle cx="441.4" cy="291.6" r="0.9"/><circle cx="443.1" cy="289.4" r="0.9"/><circle cx="443.8" cy="296.8" r="0.9"/><circle cx="435.5" cy="298.4" r="0.9"/><circle cx="438.3" cy="297.4" r="0.9"/><circle cx="432.1" cy="297.4" r="0.9"/><circle cx="433.6" cy="296.6" r="0.9"/><circle cx="435.0" cy="298.5" r="0.9"/><circle cx="427.9" cy="293.5" r="0.9"/><circle cx="438.6" cy="288.6" r="0.9"/><circle cx="437.9" cy="287.5" r="0.9"/><circle cx="441.8" cy="292.2" r="0.9"/><circle cx="430.5" cy="298.5" r="0.9"/><circle cx="433.1" cy="286.1" r="0.9"/><circle cx="441.6" cy="290.5" r="0.9"/><circle cx="443.2" cy="290.6" r="0.9"/><circle cx="438.4" cy="295.1" r="0.9"/><circle cx="429.9" cy="291.4" r="0.9"/><circle cx="430.7" cy="296.2" r="0.9"/><circle cx="434.3" cy="289.5" r="0.9"/><circle cx="429.3" cy="288.2" r="0.9"/><circle cx="434.7" cy="288.1" r="0.9"/><circle cx="431.8" cy="288.3" r="0.9"/><circle cx="437.4" cy="294.0" r="0.9"/><circle cx="428.1" cy="296.6" r="0.9"/><circle cx="428.8" cy="285.1" r="0.9"/><circle cx="439.4" cy="293.0" r="0.9"/><circle cx="440.4" cy="290.9" r="0.9"/><circle cx="436.4" cy="291.1" r="0.9"/><circle cx="432.9" cy="291.6" r="0.9"/><circle cx="435.7" cy="293.4" r="0.9"/><circle cx="435.3" cy="298.9" r="0.9"/><circle cx="431.8" cy="298.2" r="0.9"/><circle cx="428.0" cy="296.5" r="0.9"/><circle cx="429.7" cy="288.4" r="0.9"/><circle cx="435.9" cy="298.0" r="0.9"/><circle cx="430.3" cy="291.8" r="0.9"/><circle cx="443.0" cy="291.5" r="0.9"/><circle cx="441.6" cy="299.4" r="0.9"/><circle cx="434.0" cy="292.5" r="0.9"/><circle cx="442.2" cy="299.1" r="0.9"/><circle cx="444.1" cy="296.0" r="0.9"/><circle cx="439.5" cy="295.0" r="0.9"/><circle cx="444.5" cy="296.3" r="0.9"/><circle cx="431.0" cy="287.5" r="0.9"/><circle cx="435.5" cy="298.9" r="0.9"/><circle cx="433.8" cy="296.5" r="0.9"/><circle cx="433.4" cy="294.9" r="0.9"/><circle cx="444.5" cy="299.2" r="0.9"/><circle cx="438.7" cy="293.2" r="0.9"/><circle cx="430.9" cy="297.1" r="0.9"/><circle cx="431.8" cy="285.9" r="0.9"/><circle cx="444.3" cy="292.0" r="0.9"/><circle cx="436.6" cy="286.9" r="0.9"/><circle cx="437.0" cy="291.9" r="0.9"/><circle cx="439.2" cy="289.5" r="0.9"/><circle cx="444.0" cy="295.8" r="0.9"/><circle cx="440.6" cy="292.9" r="0.9"/><circle cx="432.4" cy="293.0" r="0.9"/><circle cx="440.6" cy="288.0" r="0.9"/><circle cx="436.7" cy="285.1" r="0.9"/><circle cx="440.7" cy="290.7" r="0.9"/><circle cx="431.9" cy="294.9" r="0.9"/><circle cx="427.8" cy="293.0" r="0.9"/><circle cx="443.2" cy="293.3" r="0.9"/><circle cx="435.3" cy="284.7" r="0.9"/><circle cx="446.0" cy="299.2" r="0.9"/><circle cx="441.4" cy="293.2" r="0.9"/><circle cx="436.0" cy="284.2" r="0.9"/><circle cx="429.3" cy="298.3" r="0.9"/><circle cx="431.5" cy="291.7" r="0.9"/><circle cx="441.7" cy="295.2" r="0.9"/><circle cx="436.2" cy="294.6" r="0.9"/><circle cx="435.1" cy="292.9" r="0.9"/><circle cx="441.1" cy="292.7" r="0.9"/><circle cx="428.3" cy="287.8" r="0.9"/><circle cx="434.6" cy="297.3" r="0.9"/><circle cx="439.6" cy="288.2" r="0.9"/><circle cx="438.6" cy="288.6" r="0.9"/><circle cx="430.2" cy="296.1" r="0.9"/><circle cx="431.2" cy="297.1" r="0.9"/><circle cx="442.5" cy="297.3" r="0.9"/><circle cx="438.7" cy="293.9" r="0.9"/><circle cx="428.3" cy="288.3" r="0.9"/><circle cx="430.0" cy="285.0" r="0.9"/><circle cx="437.2" cy="286.4" r="0.9"/><circle cx="431.3" cy="296.3" r="0.9"/><circle cx="439.6" cy="286.8" r="0.9"/><circle cx="435.9" cy="297.7" r="0.9"/><circle cx="429.1" cy="289.8" r="0.9"/><circle cx="432.4" cy="287.4" r="0.9"/><circle cx="430.6" cy="295.3" r="0.9"/><circle cx="434.2" cy="299.2" r="0.9"/><circle cx="433.9" cy="294.9" r="0.9"/><circle cx="434.7" cy="295.9" r="0.9"/><circle cx="428.9" cy="299.1" r="0.9"/><circle cx="432.5" cy="295.4" r="0.9"/><circle cx="433.9" cy="284.3" r="0.9"/></g>
<rect x="411.8" y="283.5" width="15.9" height="15.9" fill="#676767"/>
<polygon points="418.0,284.5 419.8,292.0 421.6,284.5" fill="#f4f4f4"/>
<g fill="#dc4420"><circle cx="376.0" cy="260.0" r="0.9"/><circle cx="378.5" cy="261.5" r="0.9"/><circle cx="381.0" cy="259.0" r="0.9"/><circle cx="383.5" cy="261.0" r="0.9"/><circle cx="386.0" cy="258.5" r="0.9"/><circle cx="372.0" cy="265.0" r="0.9"/></g>
<g fill="#8a7a8a"><circle cx="343.0" cy="275.5" r="0.9"/></g>
<g fill="#3565b8"><circle cx="426.0" cy="263.0" r="0.9"/><circle cx="416.7" cy="269.8" r="0.9"/><circle cx="428.0" cy="277.0" r="0.9"/></g>
<g fill="#1f9a3a"><circle cx="468.0" cy="270.0" r="0.9"/><circle cx="472.0" cy="268.5" r="0.9"/><circle cx="475.0" cy="266.5" r="0.9"/><circle cx="457.0" cy="275.0" r="0.9"/></g>
<g fill="#1f9a3a"><circle cx="402.9" cy="442.6" r="0.85"/><circle cx="405.6" cy="444.5" r="0.85"/><circle cx="397.5" cy="451.3" r="0.85"/><circle cx="403.4" cy="453.5" r="0.85"/><circle cx="404.8" cy="441.1" r="0.85"/><circle cx="407.0" cy="457.0" r="0.85"/></g>
<g fill="#1f9a3a"><circle cx="444.7" cy="440.1" r="0.85"/><circle cx="438.8" cy="444.3" r="0.85"/><circle cx="446.5" cy="445.7" r="0.85"/><circle cx="440.2" cy="444.4" r="0.85"/><circle cx="444.5" cy="442.5" r="0.85"/><circle cx="441.1" cy="455.8" r="0.85"/></g>
<polygon points="410.5,461.5 412.0,452.0 416.0,443.0 425.0,443.0 429.5,452.0 432.5,461.5" fill="#1f9a3a"/>
<g fill="#1f9a3a"><circle cx="417.9" cy="441.8" r="0.9"/><circle cx="421.9" cy="440.8" r="0.9"/><circle cx="427.5" cy="456.8" r="0.9"/><circle cx="418.2" cy="436.3" r="0.9"/><circle cx="430.7" cy="460.3" r="0.9"/><circle cx="424.0" cy="449.3" r="0.9"/><circle cx="423.9" cy="445.2" r="0.9"/><circle cx="422.6" cy="451.7" r="0.9"/><circle cx="412.3" cy="447.3" r="0.9"/><circle cx="421.8" cy="457.8" r="0.9"/><circle cx="423.9" cy="461.2" r="0.9"/><circle cx="429.0" cy="461.1" r="0.9"/><circle cx="413.2" cy="453.8" r="0.9"/><circle cx="427.8" cy="446.4" r="0.9"/><circle cx="429.9" cy="452.4" r="0.9"/><circle cx="430.4" cy="458.4" r="0.9"/><circle cx="414.6" cy="457.4" r="0.9"/><circle cx="415.4" cy="457.7" r="0.9"/><circle cx="430.3" cy="457.2" r="0.9"/><circle cx="422.8" cy="442.1" r="0.9"/><circle cx="418.4" cy="460.5" r="0.9"/><circle cx="412.9" cy="455.9" r="0.9"/><circle cx="423.3" cy="436.2" r="0.9"/><circle cx="410.7" cy="458.6" r="0.9"/><circle cx="423.5" cy="460.0" r="0.9"/><circle cx="430.4" cy="459.9" r="0.9"/><circle cx="418.9" cy="454.1" r="0.9"/><circle cx="430.8" cy="456.9" r="0.9"/><circle cx="424.1" cy="457.4" r="0.9"/><circle cx="428.3" cy="459.5" r="0.9"/><circle cx="432.2" cy="458.3" r="0.9"/><circle cx="413.3" cy="444.7" r="0.9"/><circle cx="421.4" cy="436.1" r="0.9"/><circle cx="415.9" cy="458.2" r="0.9"/><circle cx="422.0" cy="438.8" r="0.9"/><circle cx="422.5" cy="459.8" r="0.9"/><circle cx="416.6" cy="452.7" r="0.9"/><circle cx="429.8" cy="447.6" r="0.9"/><circle cx="419.8" cy="454.2" r="0.9"/><circle cx="413.1" cy="444.6" r="0.9"/><circle cx="414.9" cy="457.2" r="0.9"/><circle cx="428.0" cy="446.3" r="0.9"/><circle cx="411.5" cy="449.1" r="0.9"/><circle cx="416.0" cy="452.1" r="0.9"/><circle cx="417.0" cy="457.1" r="0.9"/><circle cx="430.9" cy="453.7" r="0.9"/><circle cx="417.3" cy="459.6" r="0.9"/><circle cx="410.2" cy="461.2" r="0.9"/><circle cx="412.9" cy="456.3" r="0.9"/><circle cx="424.7" cy="457.9" r="0.9"/><circle cx="425.9" cy="459.7" r="0.9"/><circle cx="410.7" cy="458.8" r="0.9"/><circle cx="414.9" cy="458.3" r="0.9"/><circle cx="428.5" cy="441.4" r="0.9"/><circle cx="421.8" cy="439.1" r="0.9"/><circle cx="424.9" cy="439.6" r="0.9"/><circle cx="419.6" cy="436.6" r="0.9"/><circle cx="417.3" cy="441.7" r="0.9"/><circle cx="429.0" cy="448.5" r="0.9"/><circle cx="423.3" cy="437.1" r="0.9"/><circle cx="418.0" cy="447.9" r="0.9"/><circle cx="411.3" cy="448.2" r="0.9"/><circle cx="419.6" cy="442.8" r="0.9"/><circle cx="416.2" cy="448.6" r="0.9"/><circle cx="414.9" cy="460.6" r="0.9"/><circle cx="417.3" cy="447.6" r="0.9"/><circle cx="414.6" cy="448.1" r="0.9"/><circle cx="416.6" cy="437.9" r="0.9"/><circle cx="428.4" cy="445.5" r="0.9"/><circle cx="429.5" cy="459.9" r="0.9"/><circle cx="426.0" cy="458.5" r="0.9"/><circle cx="423.9" cy="438.2" r="0.9"/><circle cx="426.2" cy="442.5" r="0.9"/><circle cx="429.6" cy="458.9" r="0.9"/><circle cx="420.7" cy="454.0" r="0.9"/><circle cx="425.7" cy="459.4" r="0.9"/><circle cx="428.4" cy="451.6" r="0.9"/><circle cx="420.2" cy="460.8" r="0.9"/><circle cx="410.3" cy="458.2" r="0.9"/><circle cx="425.7" cy="437.3" r="0.9"/><circle cx="428.5" cy="443.9" r="0.9"/><circle cx="429.3" cy="451.3" r="0.9"/><circle cx="415.2" cy="456.2" r="0.9"/><circle cx="432.5" cy="456.2" r="0.9"/><circle cx="415.9" cy="449.5" r="0.9"/><circle cx="431.1" cy="455.0" r="0.9"/><circle cx="421.2" cy="446.6" r="0.9"/><circle cx="427.4" cy="458.6" r="0.9"/><circle cx="417.1" cy="436.8" r="0.9"/><circle cx="424.7" cy="449.6" r="0.9"/></g>
<rect x="416.9" y="435.4" width="7.7" height="26.1" fill="#676767"/>
<g fill="#3565b8"><circle cx="418.2" cy="362.0" r="0.8"/><circle cx="418.0" cy="366.0" r="0.8"/><circle cx="418.5" cy="371.0" r="0.8"/><circle cx="418.2" cy="377.0" r="0.8"/><circle cx="418.8" cy="382.0" r="0.8"/><circle cx="419.0" cy="386.0" r="0.8"/></g>
<g fill="#3565b8"><circle cx="419.0" cy="420.0" r="0.8"/><circle cx="420.0" cy="424.0" r="0.8"/><circle cx="421.0" cy="428.0" r="0.8"/><circle cx="423.0" cy="431.0" r="0.8"/><circle cx="426.0" cy="430.0" r="0.8"/><circle cx="427.0" cy="426.0" r="0.8"/></g>
<g fill="#b04050"><circle cx="332.0" cy="380.0" r="0.9"/></g>
<g fill="#1f9a3a"><circle cx="388.1" cy="624.4" r="0.85"/><circle cx="376.8" cy="624.2" r="0.85"/><circle cx="386.5" cy="621.4" r="0.85"/><circle cx="373.3" cy="622.9" r="0.85"/><circle cx="385.6" cy="623.5" r="0.85"/><circle cx="380.2" cy="617.7" r="0.85"/><circle cx="382.8" cy="622.3" r="0.85"/><circle cx="382.6" cy="620.8" r="0.85"/><circle cx="366.9" cy="618.7" r="0.85"/><circle cx="379.6" cy="617.6" r="0.85"/><circle cx="373.5" cy="620.3" r="0.85"/><circle cx="369.3" cy="619.0" r="0.85"/></g>
<g fill="#1f9a3a"><circle cx="451.4" cy="625.4" r="0.85"/><circle cx="454.6" cy="615.3" r="0.85"/><circle cx="450.7" cy="624.1" r="0.85"/><circle cx="446.0" cy="622.9" r="0.85"/><circle cx="454.6" cy="617.1" r="0.85"/><circle cx="446.2" cy="617.9" r="0.85"/><circle cx="449.9" cy="622.3" r="0.85"/><circle cx="446.9" cy="616.1" r="0.85"/></g>
<g fill="#1f9a3a"><circle cx="402.0" cy="616.6" r="0.9"/><circle cx="409.0" cy="619.9" r="0.9"/><circle cx="407.4" cy="612.3" r="0.9"/><circle cx="408.5" cy="612.7" r="0.9"/><circle cx="402.5" cy="619.3" r="0.9"/><circle cx="397.9" cy="616.1" r="0.9"/><circle cx="408.5" cy="611.8" r="0.9"/><circle cx="399.1" cy="616.9" r="0.9"/><circle cx="403.7" cy="615.4" r="0.9"/><circle cx="407.9" cy="619.0" r="0.9"/><circle cx="396.8" cy="619.3" r="0.9"/><circle cx="408.0" cy="617.5" r="0.9"/><circle cx="393.3" cy="626.7" r="0.9"/><circle cx="402.1" cy="623.1" r="0.9"/><circle cx="402.9" cy="616.1" r="0.9"/><circle cx="410.5" cy="613.4" r="0.9"/><circle cx="406.4" cy="614.6" r="0.9"/><circle cx="400.2" cy="618.9" r="0.9"/><circle cx="405.6" cy="616.0" r="0.9"/><circle cx="404.5" cy="614.5" r="0.9"/><circle cx="398.9" cy="624.7" r="0.9"/><circle cx="400.6" cy="619.2" r="0.9"/><circle cx="404.4" cy="619.0" r="0.9"/><circle cx="407.6" cy="612.3" r="0.9"/><circle cx="409.7" cy="614.5" r="0.9"/><circle cx="395.0" cy="623.2" r="0.9"/><circle cx="409.6" cy="619.6" r="0.9"/><circle cx="399.0" cy="626.1" r="0.9"/><circle cx="398.6" cy="614.9" r="0.9"/><circle cx="393.1" cy="619.2" r="0.9"/><circle cx="407.4" cy="614.0" r="0.9"/><circle cx="409.2" cy="610.9" r="0.9"/><circle cx="394.6" cy="623.0" r="0.9"/><circle cx="410.4" cy="613.9" r="0.9"/><circle cx="403.5" cy="624.1" r="0.9"/><circle cx="409.7" cy="626.0" r="0.9"/><circle cx="400.4" cy="614.0" r="0.9"/><circle cx="406.2" cy="623.1" r="0.9"/><circle cx="403.9" cy="618.5" r="0.9"/><circle cx="405.3" cy="621.2" r="0.9"/><circle cx="398.4" cy="620.4" r="0.9"/><circle cx="408.1" cy="615.4" r="0.9"/><circle cx="406.2" cy="616.7" r="0.9"/><circle cx="391.2" cy="626.4" r="0.9"/><circle cx="397.9" cy="616.3" r="0.9"/><circle cx="396.9" cy="616.3" r="0.9"/><circle cx="390.6" cy="626.9" r="0.9"/><circle cx="408.4" cy="626.5" r="0.9"/><circle cx="396.0" cy="626.5" r="0.9"/><circle cx="405.1" cy="623.7" r="0.9"/><circle cx="399.4" cy="615.9" r="0.9"/><circle cx="399.4" cy="625.8" r="0.9"/><circle cx="406.9" cy="622.0" r="0.9"/><circle cx="401.9" cy="617.5" r="0.9"/><circle cx="410.3" cy="621.4" r="0.9"/><circle cx="401.0" cy="619.3" r="0.9"/><circle cx="396.0" cy="617.0" r="0.9"/><circle cx="402.2" cy="618.6" r="0.9"/><circle cx="398.5" cy="619.2" r="0.9"/><circle cx="408.8" cy="614.0" r="0.9"/><circle cx="406.4" cy="619.2" r="0.9"/><circle cx="397.5" cy="622.0" r="0.9"/><circle cx="403.4" cy="614.3" r="0.9"/><circle cx="410.1" cy="612.2" r="0.9"/><circle cx="410.1" cy="623.9" r="0.9"/><circle cx="400.5" cy="618.1" r="0.9"/><circle cx="406.8" cy="612.8" r="0.9"/><circle cx="410.5" cy="623.9" r="0.9"/><circle cx="396.3" cy="626.8" r="0.9"/><circle cx="391.9" cy="622.9" r="0.9"/><circle cx="403.4" cy="613.2" r="0.9"/><circle cx="400.6" cy="614.2" r="0.9"/><circle cx="400.0" cy="617.3" r="0.9"/><circle cx="409.9" cy="622.6" r="0.9"/><circle cx="400.0" cy="619.1" r="0.9"/><circle cx="408.0" cy="618.2" r="0.9"/><circle cx="402.9" cy="622.1" r="0.9"/><circle cx="407.4" cy="618.1" r="0.9"/><circle cx="394.9" cy="625.5" r="0.9"/><circle cx="410.6" cy="611.6" r="0.9"/><circle cx="395.5" cy="626.0" r="0.9"/><circle cx="405.0" cy="619.5" r="0.9"/><circle cx="398.2" cy="622.7" r="0.9"/><circle cx="402.0" cy="621.4" r="0.9"/><circle cx="410.0" cy="617.8" r="0.9"/><circle cx="398.3" cy="618.1" r="0.9"/><circle cx="405.2" cy="614.7" r="0.9"/><circle cx="391.9" cy="625.3" r="0.9"/><circle cx="410.4" cy="611.4" r="0.9"/><circle cx="393.6" cy="620.8" r="0.9"/><circle cx="405.4" cy="625.7" r="0.9"/><circle cx="410.2" cy="624.7" r="0.9"/><circle cx="392.0" cy="624.3" r="0.9"/><circle cx="390.9" cy="624.8" r="0.9"/><circle cx="407.3" cy="617.9" r="0.9"/><circle cx="400.2" cy="624.6" r="0.9"/><circle cx="406.5" cy="619.3" r="0.9"/><circle cx="393.7" cy="624.7" r="0.9"/><circle cx="409.7" cy="615.3" r="0.9"/><circle cx="410.5" cy="617.6" r="0.9"/><circle cx="396.0" cy="625.9" r="0.9"/><circle cx="404.5" cy="620.6" r="0.9"/><circle cx="408.8" cy="625.6" r="0.9"/><circle cx="392.3" cy="624.8" r="0.9"/><circle cx="400.2" cy="615.0" r="0.9"/><circle cx="400.7" cy="624.9" r="0.9"/><circle cx="399.2" cy="624.5" r="0.9"/><circle cx="406.4" cy="618.3" r="0.9"/><circle cx="393.0" cy="625.5" r="0.9"/><circle cx="397.4" cy="621.8" r="0.9"/><circle cx="408.6" cy="620.6" r="0.9"/><circle cx="403.6" cy="622.8" r="0.9"/><circle cx="400.9" cy="621.1" r="0.9"/><circle cx="398.3" cy="616.5" r="0.9"/><circle cx="399.0" cy="618.8" r="0.9"/><circle cx="395.2" cy="626.3" r="0.9"/><circle cx="402.6" cy="618.8" r="0.9"/><circle cx="389.5" cy="627.0" r="0.9"/><circle cx="399.6" cy="620.9" r="0.9"/><circle cx="408.7" cy="625.5" r="0.9"/><circle cx="406.9" cy="625.6" r="0.9"/><circle cx="409.3" cy="615.6" r="0.9"/><circle cx="406.0" cy="624.2" r="0.9"/><circle cx="408.3" cy="621.4" r="0.9"/><circle cx="409.6" cy="617.3" r="0.9"/><circle cx="408.9" cy="616.6" r="0.9"/><circle cx="408.3" cy="623.4" r="0.9"/><circle cx="396.1" cy="618.9" r="0.9"/><circle cx="406.6" cy="615.7" r="0.9"/><circle cx="405.9" cy="612.4" r="0.9"/><circle cx="401.1" cy="621.7" r="0.9"/><circle cx="394.3" cy="625.2" r="0.9"/><circle cx="401.7" cy="616.7" r="0.9"/><circle cx="394.0" cy="621.2" r="0.9"/><circle cx="391.0" cy="627.0" r="0.9"/><circle cx="397.1" cy="616.0" r="0.9"/><circle cx="406.0" cy="616.8" r="0.9"/><circle cx="404.3" cy="625.1" r="0.9"/><circle cx="407.0" cy="619.6" r="0.9"/><circle cx="410.8" cy="615.9" r="0.9"/><circle cx="400.6" cy="615.4" r="0.9"/><circle cx="408.4" cy="625.4" r="0.9"/><circle cx="403.3" cy="621.5" r="0.9"/><circle cx="405.7" cy="620.5" r="0.9"/><circle cx="406.5" cy="625.1" r="0.9"/><circle cx="407.9" cy="618.0" r="0.9"/><circle cx="407.0" cy="623.2" r="0.9"/><circle cx="399.3" cy="620.2" r="0.9"/><circle cx="405.3" cy="619.5" r="0.9"/><circle cx="405.5" cy="616.8" r="0.9"/><circle cx="404.5" cy="626.3" r="0.9"/><circle cx="400.0" cy="619.0" r="0.9"/><circle cx="410.3" cy="618.6" r="0.9"/><circle cx="405.1" cy="622.6" r="0.9"/><circle cx="406.1" cy="615.6" r="0.9"/><circle cx="399.9" cy="622.7" r="0.9"/><circle cx="408.8" cy="612.5" r="0.9"/><circle cx="405.1" cy="617.3" r="0.9"/><circle cx="408.3" cy="618.8" r="0.9"/><circle cx="408.4" cy="614.4" r="0.9"/><circle cx="398.8" cy="616.0" r="0.9"/><circle cx="400.2" cy="625.3" r="0.9"/><circle cx="402.9" cy="613.0" r="0.9"/><circle cx="402.5" cy="626.1" r="0.9"/><circle cx="405.4" cy="616.3" r="0.9"/><circle cx="400.8" cy="621.6" r="0.9"/><circle cx="403.4" cy="624.8" r="0.9"/><circle cx="403.3" cy="615.0" r="0.9"/><circle cx="409.4" cy="615.7" r="0.9"/><circle cx="403.0" cy="619.1" r="0.9"/><circle cx="401.3" cy="626.6" r="0.9"/><circle cx="409.3" cy="625.8" r="0.9"/><circle cx="408.3" cy="622.2" r="0.9"/><circle cx="395.6" cy="623.2" r="0.9"/><circle cx="391.8" cy="622.1" r="0.9"/><circle cx="408.4" cy="620.3" r="0.9"/><circle cx="404.0" cy="624.0" r="0.9"/><circle cx="407.7" cy="626.8" r="0.9"/><circle cx="401.5" cy="625.8" r="0.9"/><circle cx="396.6" cy="619.2" r="0.9"/><circle cx="397.8" cy="615.7" r="0.9"/><circle cx="407.2" cy="620.0" r="0.9"/><circle cx="402.2" cy="614.2" r="0.9"/><circle cx="393.0" cy="620.9" r="0.9"/><circle cx="391.8" cy="624.0" r="0.9"/><circle cx="410.3" cy="615.9" r="0.9"/><circle cx="410.5" cy="614.5" r="0.9"/><circle cx="396.2" cy="619.3" r="0.9"/><circle cx="400.8" cy="621.8" r="0.9"/><circle cx="397.3" cy="622.0" r="0.9"/><circle cx="400.1" cy="618.3" r="0.9"/><circle cx="393.0" cy="620.5" r="0.9"/><circle cx="397.1" cy="625.8" r="0.9"/><circle cx="396.3" cy="621.4" r="0.9"/><circle cx="407.5" cy="612.6" r="0.9"/><circle cx="397.6" cy="623.2" r="0.9"/><circle cx="393.3" cy="622.2" r="0.9"/><circle cx="394.2" cy="623.9" r="0.9"/><circle cx="399.8" cy="625.1" r="0.9"/><circle cx="395.5" cy="621.6" r="0.9"/><circle cx="398.8" cy="617.6" r="0.9"/><circle cx="400.8" cy="616.1" r="0.9"/><circle cx="396.2" cy="622.4" r="0.9"/><circle cx="402.4" cy="624.3" r="0.9"/><circle cx="390.8" cy="625.3" r="0.9"/><circle cx="404.3" cy="624.4" r="0.9"/><circle cx="401.2" cy="617.0" r="0.9"/><circle cx="410.1" cy="614.4" r="0.9"/><circle cx="397.0" cy="619.5" r="0.9"/><circle cx="406.8" cy="626.5" r="0.9"/><circle cx="391.6" cy="624.9" r="0.9"/><circle cx="392.0" cy="625.5" r="0.9"/><circle cx="401.9" cy="620.9" r="0.9"/><circle cx="401.0" cy="620.9" r="0.9"/><circle cx="403.7" cy="617.5" r="0.9"/><circle cx="409.9" cy="626.3" r="0.9"/><circle cx="408.3" cy="623.6" r="0.9"/><circle cx="406.4" cy="624.4" r="0.9"/><circle cx="391.4" cy="625.4" r="0.9"/><circle cx="399.5" cy="626.0" r="0.9"/><circle cx="407.9" cy="625.6" r="0.9"/><circle cx="396.4" cy="616.7" r="0.9"/><circle cx="408.9" cy="618.2" r="0.9"/><circle cx="391.3" cy="626.5" r="0.9"/><circle cx="410.2" cy="620.3" r="0.9"/><circle cx="402.3" cy="618.3" r="0.9"/><circle cx="395.8" cy="617.4" r="0.9"/><circle cx="407.1" cy="619.4" r="0.9"/><circle cx="409.8" cy="613.6" r="0.9"/><circle cx="403.5" cy="617.1" r="0.9"/><circle cx="398.9" cy="623.3" r="0.9"/><circle cx="397.7" cy="616.2" r="0.9"/><circle cx="404.1" cy="616.6" r="0.9"/><circle cx="408.6" cy="624.4" r="0.9"/><circle cx="396.5" cy="616.3" r="0.9"/><circle cx="401.7" cy="619.8" r="0.9"/><circle cx="404.4" cy="619.3" r="0.9"/><circle cx="407.8" cy="619.9" r="0.9"/><circle cx="395.7" cy="625.1" r="0.9"/><circle cx="398.6" cy="624.9" r="0.9"/><circle cx="399.0" cy="626.8" r="0.9"/><circle cx="391.4" cy="624.0" r="0.9"/><circle cx="402.2" cy="618.4" r="0.9"/><circle cx="393.3" cy="626.8" r="0.9"/><circle cx="398.0" cy="624.0" r="0.9"/><circle cx="397.2" cy="624.0" r="0.9"/><circle cx="396.4" cy="625.6" r="0.9"/><circle cx="393.7" cy="625.2" r="0.9"/><circle cx="393.8" cy="619.2" r="0.9"/><circle cx="408.7" cy="616.5" r="0.9"/><circle cx="398.9" cy="620.5" r="0.9"/><circle cx="395.8" cy="619.4" r="0.9"/><circle cx="393.5" cy="626.1" r="0.9"/><circle cx="398.1" cy="626.6" r="0.9"/><circle cx="404.6" cy="619.2" r="0.9"/><circle cx="409.9" cy="615.4" r="0.9"/><circle cx="398.0" cy="626.2" r="0.9"/><circle cx="401.3" cy="622.8" r="0.9"/><circle cx="402.1" cy="623.4" r="0.9"/><circle cx="407.7" cy="614.5" r="0.9"/></g>
<g fill="#1f9a3a"><circle cx="440.7" cy="624.6" r="0.9"/><circle cx="433.3" cy="616.2" r="0.9"/><circle cx="433.0" cy="626.5" r="0.9"/><circle cx="437.1" cy="623.0" r="0.9"/><circle cx="429.5" cy="624.9" r="0.9"/><circle cx="434.5" cy="615.8" r="0.9"/><circle cx="440.0" cy="617.1" r="0.9"/><circle cx="431.4" cy="624.3" r="0.9"/><circle cx="435.7" cy="614.1" r="0.9"/><circle cx="429.0" cy="611.5" r="0.9"/><circle cx="432.2" cy="615.0" r="0.9"/><circle cx="434.7" cy="613.5" r="0.9"/><circle cx="436.7" cy="626.7" r="0.9"/><circle cx="435.1" cy="614.5" r="0.9"/><circle cx="439.3" cy="626.5" r="0.9"/><circle cx="429.0" cy="625.1" r="0.9"/><circle cx="433.5" cy="614.8" r="0.9"/><circle cx="434.7" cy="613.2" r="0.9"/><circle cx="432.7" cy="618.7" r="0.9"/><circle cx="428.7" cy="611.3" r="0.9"/><circle cx="431.6" cy="626.3" r="0.9"/><circle cx="436.4" cy="627.0" r="0.9"/><circle cx="428.5" cy="612.6" r="0.9"/><circle cx="438.6" cy="623.1" r="0.9"/><circle cx="438.0" cy="615.4" r="0.9"/><circle cx="435.3" cy="626.3" r="0.9"/><circle cx="443.8" cy="622.2" r="0.9"/><circle cx="436.6" cy="626.7" r="0.9"/><circle cx="439.5" cy="620.1" r="0.9"/><circle cx="439.7" cy="618.1" r="0.9"/><circle cx="439.1" cy="626.2" r="0.9"/><circle cx="429.7" cy="613.5" r="0.9"/><circle cx="428.1" cy="625.3" r="0.9"/><circle cx="439.5" cy="626.3" r="0.9"/><circle cx="435.4" cy="626.3" r="0.9"/><circle cx="429.8" cy="619.0" r="0.9"/><circle cx="429.8" cy="626.6" r="0.9"/><circle cx="430.2" cy="624.6" r="0.9"/><circle cx="432.5" cy="623.9" r="0.9"/><circle cx="428.8" cy="612.0" r="0.9"/><circle cx="432.6" cy="613.7" r="0.9"/><circle cx="428.2" cy="620.0" r="0.9"/><circle cx="443.1" cy="624.3" r="0.9"/><circle cx="438.8" cy="626.0" r="0.9"/><circle cx="429.1" cy="612.5" r="0.9"/><circle cx="430.3" cy="623.1" r="0.9"/><circle cx="430.4" cy="616.2" r="0.9"/><circle cx="438.3" cy="616.6" r="0.9"/><circle cx="444.9" cy="625.2" r="0.9"/><circle cx="433.6" cy="617.2" r="0.9"/><circle cx="428.6" cy="625.5" r="0.9"/><circle cx="436.6" cy="617.2" r="0.9"/><circle cx="442.3" cy="620.0" r="0.9"/><circle cx="436.0" cy="614.9" r="0.9"/><circle cx="440.8" cy="621.3" r="0.9"/><circle cx="429.3" cy="611.8" r="0.9"/><circle cx="429.7" cy="616.7" r="0.9"/><circle cx="438.9" cy="625.6" r="0.9"/><circle cx="434.0" cy="615.6" r="0.9"/><circle cx="428.5" cy="615.8" r="0.9"/><circle cx="428.8" cy="619.8" r="0.9"/><circle cx="428.3" cy="617.5" r="0.9"/><circle cx="442.1" cy="623.4" r="0.9"/><circle cx="440.6" cy="624.4" r="0.9"/><circle cx="428.4" cy="624.1" r="0.9"/><circle cx="428.0" cy="619.3" r="0.9"/><circle cx="429.8" cy="621.6" r="0.9"/><circle cx="444.1" cy="625.6" r="0.9"/><circle cx="437.0" cy="623.4" r="0.9"/><circle cx="432.5" cy="625.7" r="0.9"/><circle cx="436.3" cy="625.7" r="0.9"/><circle cx="428.2" cy="621.1" r="0.9"/><circle cx="438.1" cy="616.6" r="0.9"/><circle cx="440.9" cy="620.9" r="0.9"/><circle cx="435.9" cy="614.9" r="0.9"/><circle cx="435.3" cy="622.4" r="0.9"/><circle cx="432.9" cy="626.9" r="0.9"/><circle cx="431.3" cy="614.0" r="0.9"/><circle cx="437.1" cy="621.7" r="0.9"/><circle cx="438.2" cy="626.4" r="0.9"/><circle cx="428.7" cy="625.1" r="0.9"/><circle cx="430.7" cy="616.3" r="0.9"/><circle cx="431.7" cy="616.1" r="0.9"/><circle cx="438.4" cy="624.2" r="0.9"/><circle cx="428.8" cy="611.8" r="0.9"/><circle cx="437.5" cy="618.5" r="0.9"/><circle cx="439.4" cy="618.3" r="0.9"/><circle cx="428.4" cy="620.1" r="0.9"/><circle cx="428.8" cy="621.3" r="0.9"/><circle cx="427.7" cy="614.0" r="0.9"/><circle cx="436.3" cy="617.8" r="0.9"/><circle cx="440.4" cy="624.2" r="0.9"/><circle cx="434.8" cy="613.6" r="0.9"/><circle cx="434.5" cy="622.0" r="0.9"/><circle cx="430.6" cy="623.0" r="0.9"/><circle cx="435.0" cy="623.2" r="0.9"/><circle cx="430.3" cy="616.8" r="0.9"/><circle cx="430.9" cy="623.8" r="0.9"/><circle cx="435.9" cy="625.1" r="0.9"/><circle cx="432.5" cy="614.1" r="0.9"/><circle cx="429.8" cy="616.6" r="0.9"/><circle cx="433.9" cy="619.9" r="0.9"/><circle cx="436.8" cy="624.0" r="0.9"/><circle cx="430.2" cy="613.4" r="0.9"/><circle cx="432.9" cy="613.4" r="0.9"/><circle cx="438.7" cy="615.8" r="0.9"/><circle cx="431.0" cy="615.5" r="0.9"/><circle cx="432.2" cy="624.4" r="0.9"/><circle cx="437.8" cy="621.5" r="0.9"/><circle cx="433.3" cy="616.6" r="0.9"/><circle cx="440.7" cy="621.7" r="0.9"/><circle cx="437.3" cy="620.1" r="0.9"/><circle cx="435.3" cy="626.1" r="0.9"/><circle cx="435.3" cy="625.0" r="0.9"/><circle cx="435.8" cy="622.1" r="0.9"/><circle cx="428.2" cy="616.1" r="0.9"/><circle cx="435.7" cy="615.2" r="0.9"/><circle cx="436.5" cy="624.0" r="0.9"/><circle cx="430.3" cy="624.8" r="0.9"/><circle cx="432.9" cy="616.5" r="0.9"/><circle cx="443.1" cy="622.8" r="0.9"/><circle cx="441.4" cy="623.6" r="0.9"/><circle cx="431.2" cy="618.6" r="0.9"/><circle cx="435.3" cy="625.0" r="0.9"/><circle cx="429.9" cy="624.9" r="0.9"/><circle cx="428.6" cy="623.1" r="0.9"/><circle cx="434.2" cy="625.4" r="0.9"/><circle cx="434.0" cy="625.7" r="0.9"/><circle cx="430.4" cy="614.2" r="0.9"/><circle cx="428.7" cy="625.8" r="0.9"/><circle cx="434.4" cy="616.4" r="0.9"/><circle cx="436.1" cy="622.7" r="0.9"/><circle cx="433.5" cy="623.4" r="0.9"/><circle cx="437.7" cy="618.5" r="0.9"/><circle cx="444.4" cy="626.0" r="0.9"/><circle cx="434.0" cy="626.6" r="0.9"/><circle cx="433.0" cy="620.5" r="0.9"/><circle cx="428.1" cy="613.0" r="0.9"/><circle cx="431.0" cy="618.6" r="0.9"/><circle cx="429.8" cy="621.3" r="0.9"/><circle cx="427.9" cy="611.1" r="0.9"/><circle cx="434.2" cy="617.1" r="0.9"/><circle cx="435.1" cy="621.4" r="0.9"/><circle cx="428.2" cy="616.9" r="0.9"/><circle cx="430.9" cy="615.7" r="0.9"/><circle cx="429.1" cy="613.6" r="0.9"/><circle cx="433.8" cy="616.9" r="0.9"/><circle cx="434.8" cy="619.0" r="0.9"/><circle cx="427.7" cy="623.6" r="0.9"/><circle cx="431.5" cy="623.5" r="0.9"/><circle cx="431.5" cy="617.4" r="0.9"/><circle cx="428.2" cy="613.2" r="0.9"/><circle cx="429.9" cy="616.0" r="0.9"/><circle cx="432.1" cy="616.4" r="0.9"/><circle cx="439.0" cy="617.0" r="0.9"/><circle cx="430.2" cy="612.3" r="0.9"/><circle cx="435.4" cy="613.6" r="0.9"/><circle cx="428.9" cy="619.5" r="0.9"/><circle cx="435.3" cy="619.4" r="0.9"/><circle cx="432.1" cy="615.9" r="0.9"/><circle cx="428.9" cy="621.5" r="0.9"/><circle cx="432.9" cy="623.6" r="0.9"/><circle cx="435.3" cy="622.5" r="0.9"/><circle cx="429.6" cy="614.3" r="0.9"/><circle cx="428.6" cy="625.8" r="0.9"/><circle cx="442.8" cy="624.5" r="0.9"/><circle cx="433.0" cy="616.5" r="0.9"/><circle cx="430.3" cy="623.3" r="0.9"/><circle cx="428.3" cy="616.6" r="0.9"/><circle cx="436.5" cy="618.4" r="0.9"/><circle cx="440.7" cy="625.7" r="0.9"/><circle cx="432.5" cy="613.0" r="0.9"/><circle cx="435.6" cy="615.7" r="0.9"/><circle cx="430.0" cy="618.3" r="0.9"/><circle cx="434.7" cy="615.2" r="0.9"/><circle cx="430.2" cy="613.8" r="0.9"/><circle cx="432.0" cy="611.9" r="0.9"/><circle cx="439.9" cy="622.1" r="0.9"/><circle cx="434.5" cy="620.7" r="0.9"/><circle cx="430.0" cy="620.9" r="0.9"/><circle cx="437.5" cy="615.1" r="0.9"/><circle cx="438.0" cy="619.1" r="0.9"/><circle cx="443.6" cy="625.4" r="0.9"/><circle cx="436.0" cy="618.6" r="0.9"/><circle cx="442.4" cy="623.0" r="0.9"/><circle cx="431.6" cy="625.9" r="0.9"/><circle cx="441.5" cy="618.8" r="0.9"/><circle cx="432.3" cy="612.0" r="0.9"/><circle cx="445.1" cy="624.5" r="0.9"/><circle cx="439.6" cy="617.0" r="0.9"/><circle cx="439.1" cy="626.2" r="0.9"/><circle cx="429.0" cy="612.0" r="0.9"/><circle cx="435.9" cy="624.6" r="0.9"/><circle cx="435.1" cy="626.0" r="0.9"/><circle cx="428.7" cy="619.8" r="0.9"/><circle cx="438.5" cy="619.3" r="0.9"/><circle cx="433.4" cy="616.8" r="0.9"/><circle cx="434.1" cy="614.4" r="0.9"/><circle cx="433.5" cy="615.5" r="0.9"/><circle cx="428.4" cy="615.4" r="0.9"/><circle cx="433.2" cy="621.0" r="0.9"/><circle cx="434.2" cy="621.7" r="0.9"/><circle cx="435.6" cy="623.7" r="0.9"/><circle cx="437.6" cy="618.2" r="0.9"/><circle cx="431.9" cy="621.0" r="0.9"/><circle cx="443.6" cy="624.9" r="0.9"/><circle cx="433.5" cy="615.4" r="0.9"/><circle cx="430.2" cy="624.6" r="0.9"/><circle cx="428.4" cy="618.5" r="0.9"/><circle cx="433.1" cy="625.5" r="0.9"/><circle cx="439.6" cy="623.5" r="0.9"/><circle cx="432.3" cy="622.7" r="0.9"/><circle cx="444.8" cy="624.4" r="0.9"/><circle cx="428.1" cy="626.2" r="0.9"/><circle cx="428.3" cy="620.0" r="0.9"/><circle cx="431.4" cy="611.9" r="0.9"/><circle cx="440.0" cy="619.8" r="0.9"/><circle cx="437.4" cy="617.8" r="0.9"/><circle cx="430.1" cy="623.9" r="0.9"/><circle cx="442.0" cy="624.9" r="0.9"/><circle cx="428.8" cy="624.0" r="0.9"/><circle cx="435.1" cy="621.1" r="0.9"/><circle cx="437.5" cy="622.7" r="0.9"/><circle cx="436.0" cy="618.6" r="0.9"/><circle cx="440.6" cy="619.8" r="0.9"/><circle cx="432.7" cy="614.1" r="0.9"/><circle cx="428.8" cy="625.3" r="0.9"/><circle cx="438.6" cy="620.9" r="0.9"/><circle cx="429.4" cy="617.0" r="0.9"/><circle cx="430.4" cy="618.3" r="0.9"/></g>
<g fill="#1f9a3a"><circle cx="380.4" cy="626.3" r="0.85"/><circle cx="370.4" cy="624.3" r="0.85"/><circle cx="377.7" cy="622.4" r="0.85"/><circle cx="369.2" cy="624.8" r="0.85"/><circle cx="376.1" cy="624.7" r="0.85"/><circle cx="372.9" cy="623.5" r="0.85"/><circle cx="370.8" cy="625.3" r="0.85"/><circle cx="390.7" cy="626.1" r="0.85"/><circle cx="374.3" cy="622.5" r="0.85"/><circle cx="392.3" cy="626.3" r="0.85"/></g>
<g fill="#1f9a3a"><circle cx="453.0" cy="624.8" r="0.85"/><circle cx="456.7" cy="626.2" r="0.85"/><circle cx="457.2" cy="620.4" r="0.85"/><circle cx="453.5" cy="620.1" r="0.85"/><circle cx="459.6" cy="624.9" r="0.85"/><circle cx="448.7" cy="623.0" r="0.85"/><circle cx="458.9" cy="622.3" r="0.85"/><circle cx="455.1" cy="620.2" r="0.85"/><circle cx="455.0" cy="620.2" r="0.85"/><circle cx="461.0" cy="625.8" r="0.85"/></g>
<polygon points="410.8,627.0 410.9,608.0 412.0,604.5 415.0,603.5 417.5,604.5 418.3,607.0 419.5,618.0 419.6,627.0" fill="#676767"/>
<polygon points="420.4,627.0 420.5,618.0 421.6,607.0 422.5,604.5 425.0,603.3 427.2,604.5 427.8,608.0 428.0,627.0" fill="#676767"/>
<g fill="#8a8a8a"><circle cx="399.0" cy="598.0" r="0.8"/><circle cx="402.0" cy="600.0" r="0.8"/><circle cx="406.0" cy="601.0" r="0.8"/><circle cx="410.0" cy="599.0" r="0.8"/><circle cx="413.0" cy="603.0" r="0.8"/><circle cx="427.0" cy="600.0" r="0.8"/><circle cx="425.0" cy="603.0" r="0.8"/><circle cx="431.0" cy="602.0" r="0.8"/><circle cx="416.0" cy="600.0" r="0.8"/></g>
<g fill="#1f9a3a"><circle cx="404.0" cy="603.0" r="0.8"/><circle cx="408.0" cy="605.0" r="0.8"/><circle cx="430.0" cy="606.0" r="0.8"/><circle cx="435.0" cy="603.0" r="0.8"/></g>
<g fill="#1f9a3a"><circle cx="345.6" cy="788.5" r="0.85"/><circle cx="343.1" cy="788.5" r="0.85"/><circle cx="347.5" cy="787.4" r="0.85"/><circle cx="350.5" cy="788.2" r="0.85"/><circle cx="348.5" cy="787.0" r="0.85"/><circle cx="341.8" cy="788.2" r="0.85"/></g>
<g fill="#1f9a3a"><circle cx="397.1" cy="787.7" r="0.85"/><circle cx="393.4" cy="787.8" r="0.85"/><circle cx="391.0" cy="788.0" r="0.85"/><circle cx="399.2" cy="788.1" r="0.85"/><circle cx="394.6" cy="787.8" r="0.85"/><circle cx="392.0" cy="786.6" r="0.85"/><circle cx="391.4" cy="787.3" r="0.85"/><circle cx="389.6" cy="787.4" r="0.85"/></g>
<rect x="350.8" y="786.8" width="34.6" height="1.9" fill="#1f9a3a"/>
<g fill="#676767"><circle cx="369.6" cy="782.3" r="0.8"/><circle cx="371.9" cy="782.6" r="0.8"/><circle cx="366.6" cy="784.1" r="0.8"/><circle cx="370.2" cy="782.6" r="0.8"/><circle cx="374.0" cy="786.4" r="0.8"/><circle cx="374.8" cy="785.9" r="0.8"/><circle cx="369.9" cy="785.5" r="0.8"/><circle cx="366.5" cy="787.7" r="0.8"/><circle cx="365.1" cy="785.6" r="0.8"/><circle cx="369.8" cy="787.3" r="0.8"/></g>
<g fill="#7a9a7a"><circle cx="354.0" cy="780.0" r="0.8"/><circle cx="358.0" cy="776.0" r="0.8"/><circle cx="367.0" cy="779.0" r="0.8"/><circle cx="373.0" cy="778.0" r="0.8"/></g>
<line x1="71.50" y1="27.00" x2="71.50" y2="141.65" stroke="#111" stroke-width="1.6"/>
<line x1="70.70" y1="140.75" x2="249.70" y2="140.75" stroke="#111" stroke-width="1.6"/>
<line x1="67.20" y1="135.40" x2="71.50" y2="135.40" stroke="#222" stroke-width="1"/>
<text x="61.80" y="137.90" font-size="9" fill="#222" text-anchor="end">0</text>
<line x1="67.20" y1="112.73" x2="71.50" y2="112.73" stroke="#222" stroke-width="1"/>
<text x="61.80" y="115.23" font-size="9" fill="#222" text-anchor="end">5</text>
<line x1="67.20" y1="90.05" x2="71.50" y2="90.05" stroke="#222" stroke-width="1"/>
<text x="61.80" y="92.55" font-size="9" fill="#222" text-anchor="end">10</text>
<line x1="67.20" y1="67.38" x2="71.50" y2="67.38" stroke="#222" stroke-width="1"/>
<text x="61.80" y="69.88" font-size="9" fill="#222" text-anchor="end">15</text>
<line x1="67.20" y1="44.70" x2="71.50" y2="44.70" stroke="#222" stroke-width="1"/>
<text x="61.80" y="47.20" font-size="9" fill="#222" text-anchor="end">20</text>
<line x1="106.60" y1="140.75" x2="106.60" y2="145.25" stroke="#222" stroke-width="1"/>
<text x="106.60" y="158.15" font-size="9" fill="#222" text-anchor="middle">−10</text>
<line x1="160.60" y1="140.75" x2="160.60" y2="145.25" stroke="#222" stroke-width="1"/>
<text x="160.60" y="158.15" font-size="9" fill="#222" text-anchor="middle">0</text>
<line x1="214.60" y1="140.75" x2="214.60" y2="145.25" stroke="#222" stroke-width="1"/>
<text x="214.60" y="158.15" font-size="9" fill="#222" text-anchor="middle">10</text>
<line x1="71.75" y1="185.50" x2="71.75" y2="303.90" stroke="#111" stroke-width="1.6"/>
<line x1="70.95" y1="303.00" x2="246.30" y2="303.00" stroke="#111" stroke-width="1.6"/>
<line x1="67.45" y1="298.00" x2="71.75" y2="298.00" stroke="#222" stroke-width="1"/>
<text x="62.05" y="300.50" font-size="9" fill="#222" text-anchor="end">0.0</text>
<line x1="67.45" y1="271.20" x2="71.75" y2="271.20" stroke="#222" stroke-width="1"/>
<text x="62.05" y="273.70" font-size="9" fill="#222" text-anchor="end">2.5</text>
<line x1="67.45" y1="244.40" x2="71.75" y2="244.40" stroke="#222" stroke-width="1"/>
<text x="62.05" y="246.90" font-size="9" fill="#222" text-anchor="end">5.0</text>
<line x1="67.45" y1="217.60" x2="71.75" y2="217.60" stroke="#222" stroke-width="1"/>
<text x="62.05" y="220.10" font-size="9" fill="#222" text-anchor="end">7.5</text>
<line x1="67.45" y1="190.80" x2="71.75" y2="190.80" stroke="#222" stroke-width="1"/>
<text x="62.05" y="193.30" font-size="9" fill="#222" text-anchor="end">10.0</text>
<line x1="79.50" y1="303.00" x2="79.50" y2="307.50" stroke="#222" stroke-width="1"/>
<text x="79.50" y="320.40" font-size="9" fill="#222" text-anchor="middle">−10</text>
<line x1="119.25" y1="303.00" x2="119.25" y2="307.50" stroke="#222" stroke-width="1"/>
<text x="119.25" y="320.40" font-size="9" fill="#222" text-anchor="middle">−5</text>
<line x1="159.00" y1="303.00" x2="159.00" y2="307.50" stroke="#222" stroke-width="1"/>
<text x="159.00" y="320.40" font-size="9" fill="#222" text-anchor="middle">0</text>
<line x1="198.75" y1="303.00" x2="198.75" y2="307.50" stroke="#222" stroke-width="1"/>
<text x="198.75" y="320.40" font-size="9" fill="#222" text-anchor="middle">5</text>
<line x1="238.50" y1="303.00" x2="238.50" y2="307.50" stroke="#222" stroke-width="1"/>
<text x="238.50" y="320.40" font-size="9" fill="#222" text-anchor="middle">10</text>
<line x1="71.50" y1="347.50" x2="71.50" y2="465.50" stroke="#111" stroke-width="1.6"/>
<line x1="70.70" y1="464.60" x2="252.00" y2="464.60" stroke="#111" stroke-width="1.6"/>
<line x1="67.20" y1="460.00" x2="71.50" y2="460.00" stroke="#222" stroke-width="1"/>
<text x="61.80" y="462.50" font-size="9" fill="#222" text-anchor="end">0</text>
<line x1="67.20" y1="428.00" x2="71.50" y2="428.00" stroke="#222" stroke-width="1"/>
<text x="61.80" y="430.50" font-size="9" fill="#222" text-anchor="end">2</text>
<line x1="67.20" y1="396.00" x2="71.50" y2="396.00" stroke="#222" stroke-width="1"/>
<text x="61.80" y="398.50" font-size="9" fill="#222" text-anchor="end">4</text>
<line x1="67.20" y1="364.00" x2="71.50" y2="364.00" stroke="#222" stroke-width="1"/>
<text x="61.80" y="366.50" font-size="9" fill="#222" text-anchor="end">6</text>
<line x1="116.15" y1="464.60" x2="116.15" y2="469.10" stroke="#222" stroke-width="1"/>
<text x="116.15" y="482.00" font-size="9" fill="#222" text-anchor="middle">−5</text>
<line x1="164.80" y1="464.60" x2="164.80" y2="469.10" stroke="#222" stroke-width="1"/>
<text x="164.80" y="482.00" font-size="9" fill="#222" text-anchor="middle">0</text>
<line x1="213.45" y1="464.60" x2="213.45" y2="469.10" stroke="#222" stroke-width="1"/>
<text x="213.45" y="482.00" font-size="9" fill="#222" text-anchor="middle">5</text>
<line x1="71.70" y1="513.75" x2="71.70" y2="631.90" stroke="#111" stroke-width="1.6"/>
<line x1="70.90" y1="631.00" x2="249.70" y2="631.00" stroke="#111" stroke-width="1.6"/>
<line x1="67.40" y1="625.80" x2="71.70" y2="625.80" stroke="#222" stroke-width="1"/>
<text x="62.00" y="628.30" font-size="9" fill="#222" text-anchor="end">0</text>
<line x1="67.40" y1="589.20" x2="71.70" y2="589.20" stroke="#222" stroke-width="1"/>
<text x="62.00" y="591.70" font-size="9" fill="#222" text-anchor="end">5</text>
<line x1="67.40" y1="552.60" x2="71.70" y2="552.60" stroke="#222" stroke-width="1"/>
<text x="62.00" y="555.10" font-size="9" fill="#222" text-anchor="end">10</text>
<line x1="67.40" y1="516.00" x2="71.70" y2="516.00" stroke="#222" stroke-width="1"/>
<text x="62.00" y="518.50" font-size="9" fill="#222" text-anchor="end">15</text>
<line x1="106.60" y1="631.00" x2="106.60" y2="635.50" stroke="#222" stroke-width="1"/>
<text x="106.60" y="648.40" font-size="9" fill="#222" text-anchor="middle">−10</text>
<line x1="160.60" y1="631.00" x2="160.60" y2="635.50" stroke="#222" stroke-width="1"/>
<text x="160.60" y="648.40" font-size="9" fill="#222" text-anchor="middle">0</text>
<line x1="214.60" y1="631.00" x2="214.60" y2="635.50" stroke="#222" stroke-width="1"/>
<text x="214.60" y="648.40" font-size="9" fill="#222" text-anchor="middle">10</text>
<line x1="71.70" y1="683.50" x2="71.70" y2="793.80" stroke="#111" stroke-width="1.6"/>
<line x1="70.90" y1="792.90" x2="249.70" y2="792.90" stroke="#111" stroke-width="1.6"/>
<line x1="67.40" y1="787.70" x2="71.70" y2="787.70" stroke="#222" stroke-width="1"/>
<text x="62.00" y="790.20" font-size="9" fill="#222" text-anchor="end">0</text>
<line x1="67.40" y1="764.30" x2="71.70" y2="764.30" stroke="#222" stroke-width="1"/>
<text x="62.00" y="766.80" font-size="9" fill="#222" text-anchor="end">5</text>
<line x1="67.40" y1="740.90" x2="71.70" y2="740.90" stroke="#222" stroke-width="1"/>
<text x="62.00" y="743.40" font-size="9" fill="#222" text-anchor="end">10</text>
<line x1="67.40" y1="717.50" x2="71.70" y2="717.50" stroke="#222" stroke-width="1"/>
<text x="62.00" y="720.00" font-size="9" fill="#222" text-anchor="end">15</text>
<line x1="67.40" y1="694.10" x2="71.70" y2="694.10" stroke="#222" stroke-width="1"/>
<text x="62.00" y="696.60" font-size="9" fill="#222" text-anchor="end">20</text>
<line x1="106.60" y1="792.90" x2="106.60" y2="797.40" stroke="#222" stroke-width="1"/>
<text x="106.60" y="810.30" font-size="9" fill="#222" text-anchor="middle">−10</text>
<line x1="160.60" y1="792.90" x2="160.60" y2="797.40" stroke="#222" stroke-width="1"/>
<text x="160.60" y="810.30" font-size="9" fill="#222" text-anchor="middle">0</text>
<line x1="214.60" y1="792.90" x2="214.60" y2="797.40" stroke="#222" stroke-width="1"/>
<text x="214.60" y="810.30" font-size="9" fill="#222" text-anchor="middle">10</text>
<line x1="329.60" y1="35.00" x2="329.60" y2="141.60" stroke="#111" stroke-width="1.6"/>
<line x1="328.80" y1="140.70" x2="503.80" y2="140.70" stroke="#111" stroke-width="1.6"/>
<line x1="325.30" y1="135.50" x2="329.60" y2="135.50" stroke="#222" stroke-width="1"/>
<text x="319.90" y="138.00" font-size="9" fill="#222" text-anchor="end">0.0</text>
<line x1="325.30" y1="107.70" x2="329.60" y2="107.70" stroke="#222" stroke-width="1"/>
<text x="319.90" y="110.20" font-size="9" fill="#222" text-anchor="end">2.5</text>
<line x1="325.30" y1="79.90" x2="329.60" y2="79.90" stroke="#222" stroke-width="1"/>
<text x="319.90" y="82.40" font-size="9" fill="#222" text-anchor="end">5.0</text>
<line x1="325.30" y1="52.10" x2="329.60" y2="52.10" stroke="#222" stroke-width="1"/>
<text x="319.90" y="54.60" font-size="9" fill="#222" text-anchor="end">7.5</text>
<line x1="337.40" y1="140.70" x2="337.40" y2="145.20" stroke="#222" stroke-width="1"/>
<text x="337.40" y="158.10" font-size="9" fill="#222" text-anchor="middle">−10</text>
<line x1="377.00" y1="140.70" x2="377.00" y2="145.20" stroke="#222" stroke-width="1"/>
<text x="377.00" y="158.10" font-size="9" fill="#222" text-anchor="middle">−5</text>
<line x1="416.60" y1="140.70" x2="416.60" y2="145.20" stroke="#222" stroke-width="1"/>
<text x="416.60" y="158.10" font-size="9" fill="#222" text-anchor="middle">0</text>
<line x1="456.20" y1="140.70" x2="456.20" y2="145.20" stroke="#222" stroke-width="1"/>
<text x="456.20" y="158.10" font-size="9" fill="#222" text-anchor="middle">5</text>
<line x1="495.80" y1="140.70" x2="495.80" y2="145.20" stroke="#222" stroke-width="1"/>
<text x="495.80" y="158.10" font-size="9" fill="#222" text-anchor="middle">10</text>
<line x1="329.60" y1="186.25" x2="329.60" y2="304.20" stroke="#111" stroke-width="1.6"/>
<line x1="328.80" y1="303.30" x2="509.90" y2="303.30" stroke="#111" stroke-width="1.6"/>
<line x1="325.30" y1="298.20" x2="329.60" y2="298.20" stroke="#222" stroke-width="1"/>
<text x="319.90" y="300.70" font-size="9" fill="#222" text-anchor="end">0</text>
<line x1="325.30" y1="276.50" x2="329.60" y2="276.50" stroke="#222" stroke-width="1"/>
<text x="319.90" y="279.00" font-size="9" fill="#222" text-anchor="end">1</text>
<line x1="325.30" y1="254.80" x2="329.60" y2="254.80" stroke="#222" stroke-width="1"/>
<text x="319.90" y="257.30" font-size="9" fill="#222" text-anchor="end">2</text>
<line x1="325.30" y1="233.10" x2="329.60" y2="233.10" stroke="#222" stroke-width="1"/>
<text x="319.90" y="235.60" font-size="9" fill="#222" text-anchor="end">3</text>
<line x1="325.30" y1="211.40" x2="329.60" y2="211.40" stroke="#222" stroke-width="1"/>
<text x="319.90" y="213.90" font-size="9" fill="#222" text-anchor="end">4</text>
<line x1="325.30" y1="189.70" x2="329.60" y2="189.70" stroke="#222" stroke-width="1"/>
<text x="319.90" y="192.20" font-size="9" fill="#222" text-anchor="end">5</text>
<line x1="337.50" y1="303.30" x2="337.50" y2="307.80" stroke="#222" stroke-width="1"/>
<text x="337.50" y="320.70" font-size="9" fill="#222" text-anchor="middle">−10</text>
<line x1="378.60" y1="303.30" x2="378.60" y2="307.80" stroke="#222" stroke-width="1"/>
<text x="378.60" y="320.70" font-size="9" fill="#222" text-anchor="middle">−5</text>
<line x1="419.70" y1="303.30" x2="419.70" y2="307.80" stroke="#222" stroke-width="1"/>
<text x="419.70" y="320.70" font-size="9" fill="#222" text-anchor="middle">0</text>
<line x1="460.80" y1="303.30" x2="460.80" y2="307.80" stroke="#222" stroke-width="1"/>
<text x="460.80" y="320.70" font-size="9" fill="#222" text-anchor="middle">5</text>
<line x1="501.90" y1="303.30" x2="501.90" y2="307.80" stroke="#222" stroke-width="1"/>
<text x="501.90" y="320.70" font-size="9" fill="#222" text-anchor="middle">10</text>
<line x1="329.60" y1="347.30" x2="329.60" y2="466.10" stroke="#111" stroke-width="1.6"/>
<line x1="328.80" y1="465.20" x2="509.90" y2="465.20" stroke="#111" stroke-width="1.6"/>
<line x1="325.30" y1="460.00" x2="329.60" y2="460.00" stroke="#222" stroke-width="1"/>
<text x="319.90" y="462.50" font-size="9" fill="#222" text-anchor="end">0</text>
<line x1="325.30" y1="438.50" x2="329.60" y2="438.50" stroke="#222" stroke-width="1"/>
<text x="319.90" y="441.00" font-size="9" fill="#222" text-anchor="end">1</text>
<line x1="325.30" y1="417.00" x2="329.60" y2="417.00" stroke="#222" stroke-width="1"/>
<text x="319.90" y="419.50" font-size="9" fill="#222" text-anchor="end">2</text>
<line x1="325.30" y1="395.50" x2="329.60" y2="395.50" stroke="#222" stroke-width="1"/>
<text x="319.90" y="398.00" font-size="9" fill="#222" text-anchor="end">3</text>
<line x1="325.30" y1="374.00" x2="329.60" y2="374.00" stroke="#222" stroke-width="1"/>
<text x="319.90" y="376.50" font-size="9" fill="#222" text-anchor="end">4</text>
<line x1="325.30" y1="352.50" x2="329.60" y2="352.50" stroke="#222" stroke-width="1"/>
<text x="319.90" y="355.00" font-size="9" fill="#222" text-anchor="end">5</text>
<line x1="352.20" y1="465.20" x2="352.20" y2="469.70" stroke="#222" stroke-width="1"/>
<text x="352.20" y="482.60" font-size="9" fill="#222" text-anchor="middle">−20</text>
<line x1="386.45" y1="465.20" x2="386.45" y2="469.70" stroke="#222" stroke-width="1"/>
<text x="386.45" y="482.60" font-size="9" fill="#222" text-anchor="middle">−10</text>
<line x1="420.70" y1="465.20" x2="420.70" y2="469.70" stroke="#222" stroke-width="1"/>
<text x="420.70" y="482.60" font-size="9" fill="#222" text-anchor="middle">0</text>
<line x1="454.95" y1="465.20" x2="454.95" y2="469.70" stroke="#222" stroke-width="1"/>
<text x="454.95" y="482.60" font-size="9" fill="#222" text-anchor="middle">10</text>
<line x1="489.20" y1="465.20" x2="489.20" y2="469.70" stroke="#222" stroke-width="1"/>
<text x="489.20" y="482.60" font-size="9" fill="#222" text-anchor="middle">20</text>
<line x1="329.60" y1="513.75" x2="329.60" y2="631.90" stroke="#111" stroke-width="1.6"/>
<line x1="328.80" y1="631.00" x2="509.90" y2="631.00" stroke="#111" stroke-width="1.6"/>
<line x1="325.30" y1="625.80" x2="329.60" y2="625.80" stroke="#222" stroke-width="1"/>
<text x="319.90" y="628.30" font-size="9" fill="#222" text-anchor="end">0</text>
<line x1="325.30" y1="604.30" x2="329.60" y2="604.30" stroke="#222" stroke-width="1"/>
<text x="319.90" y="606.80" font-size="9" fill="#222" text-anchor="end">1</text>
<line x1="325.30" y1="582.80" x2="329.60" y2="582.80" stroke="#222" stroke-width="1"/>
<text x="319.90" y="585.30" font-size="9" fill="#222" text-anchor="end">2</text>
<line x1="325.30" y1="561.30" x2="329.60" y2="561.30" stroke="#222" stroke-width="1"/>
<text x="319.90" y="563.80" font-size="9" fill="#222" text-anchor="end">3</text>
<line x1="325.30" y1="539.80" x2="329.60" y2="539.80" stroke="#222" stroke-width="1"/>
<text x="319.90" y="542.30" font-size="9" fill="#222" text-anchor="end">4</text>
<line x1="325.30" y1="518.30" x2="329.60" y2="518.30" stroke="#222" stroke-width="1"/>
<text x="319.90" y="520.80" font-size="9" fill="#222" text-anchor="end">5</text>
<line x1="337.50" y1="631.00" x2="337.50" y2="635.50" stroke="#222" stroke-width="1"/>
<text x="337.50" y="648.40" font-size="9" fill="#222" text-anchor="middle">−10</text>
<line x1="378.60" y1="631.00" x2="378.60" y2="635.50" stroke="#222" stroke-width="1"/>
<text x="378.60" y="648.40" font-size="9" fill="#222" text-anchor="middle">−5</text>
<line x1="419.70" y1="631.00" x2="419.70" y2="635.50" stroke="#222" stroke-width="1"/>
<text x="419.70" y="648.40" font-size="9" fill="#222" text-anchor="middle">0</text>
<line x1="460.80" y1="631.00" x2="460.80" y2="635.50" stroke="#222" stroke-width="1"/>
<text x="460.80" y="648.40" font-size="9" fill="#222" text-anchor="middle">5</text>
<line x1="501.90" y1="631.00" x2="501.90" y2="635.50" stroke="#222" stroke-width="1"/>
<text x="501.90" y="648.40" font-size="9" fill="#222" text-anchor="middle">10</text>
<line x1="329.60" y1="683.75" x2="329.60" y2="793.70" stroke="#111" stroke-width="1.6"/>
<line x1="328.80" y1="792.80" x2="503.80" y2="792.80" stroke="#111" stroke-width="1.6"/>
<line x1="325.30" y1="787.90" x2="329.60" y2="787.90" stroke="#222" stroke-width="1"/>
<text x="319.90" y="790.40" font-size="9" fill="#222" text-anchor="end">0.0</text>
<line x1="325.30" y1="766.15" x2="329.60" y2="766.15" stroke="#222" stroke-width="1"/>
<text x="319.90" y="768.65" font-size="9" fill="#222" text-anchor="end">2.5</text>
<line x1="325.30" y1="744.40" x2="329.60" y2="744.40" stroke="#222" stroke-width="1"/>
<text x="319.90" y="746.90" font-size="9" fill="#222" text-anchor="end">5.0</text>
<line x1="325.30" y1="722.65" x2="329.60" y2="722.65" stroke="#222" stroke-width="1"/>
<text x="319.90" y="725.15" font-size="9" fill="#222" text-anchor="end">7.5</text>
<line x1="325.30" y1="700.90" x2="329.60" y2="700.90" stroke="#222" stroke-width="1"/>
<text x="319.90" y="703.40" font-size="9" fill="#222" text-anchor="end">10.0</text>
<line x1="331.47" y1="792.80" x2="331.47" y2="797.30" stroke="#222" stroke-width="1"/>
<text x="331.47" y="810.20" font-size="9" fill="#222" text-anchor="middle">−10</text>
<line x1="370.90" y1="792.80" x2="370.90" y2="797.30" stroke="#222" stroke-width="1"/>
<text x="370.90" y="810.20" font-size="9" fill="#222" text-anchor="middle">0</text>
<line x1="410.33" y1="792.80" x2="410.33" y2="797.30" stroke="#222" stroke-width="1"/>
<text x="410.33" y="810.20" font-size="9" fill="#222" text-anchor="middle">10</text>
<line x1="449.76" y1="792.80" x2="449.76" y2="797.30" stroke="#222" stroke-width="1"/>
<text x="449.76" y="810.20" font-size="9" fill="#222" text-anchor="middle">20</text>
<line x1="489.19" y1="792.80" x2="489.19" y2="797.30" stroke="#222" stroke-width="1"/>
<text x="489.19" y="810.20" font-size="9" fill="#222" text-anchor="middle">30</text>
<text x="160.80" y="21.20" font-size="12.4" fill="#222" text-anchor="middle" textLength="103.2" lengthAdjust="spacingAndGlyphs">AA : PBS vs Heme</text>
<text x="418.10" y="21.00" font-size="12.4" fill="#222" text-anchor="middle" textLength="103.2" lengthAdjust="spacingAndGlyphs">SS : PBS vs Heme</text>
<text x="19.30" y="38.10" font-size="16.5" fill="#111" font-weight="bold">A</text>
<text x="20.20" y="189.00" font-size="16.5" fill="#111" font-weight="bold">B</text>
<text x="19.80" y="352.30" font-size="16.5" fill="#111" font-weight="bold">C</text>
<text x="20.20" y="514.00" font-size="16.5" fill="#111" font-weight="bold">D</text>
<text x="20.20" y="683.00" font-size="16.5" fill="#111" font-weight="bold">E</text>
<text x="289.30" y="38.60" font-size="16.5" fill="#111" font-weight="bold">G</text>
<text x="289.80" y="189.50" font-size="16.5" fill="#111" font-weight="bold">H</text>
<text x="294.30" y="352.00" font-size="16.5" fill="#111" font-weight="bold">I</text>
<text x="291.60" y="513.70" font-size="16.5" fill="#111" font-weight="bold">J</text>
<text x="290.20" y="683.70" font-size="16.5" fill="#111" font-weight="bold">K</text>
<text x="108.60" y="851.20" font-size="16.5" fill="#111" font-weight="bold">F</text>
<text transform="translate(19.9,83.3) rotate(-90)" font-size="11.7" fill="#222" text-anchor="middle" textLength="33.5" lengthAdjust="spacingAndGlyphs">LIVER</text>
<text transform="translate(19.9,245.9) rotate(-90)" font-size="11.7" fill="#222" text-anchor="middle" textLength="39.8" lengthAdjust="spacingAndGlyphs">HEART</text>
<text transform="translate(19.9,407.6) rotate(-90)" font-size="11.7" fill="#222" text-anchor="middle" textLength="44.4" lengthAdjust="spacingAndGlyphs">KIDNEY</text>
<text transform="translate(19.9,574.1) rotate(-90)" font-size="11.7" fill="#222" text-anchor="middle" textLength="34" lengthAdjust="spacingAndGlyphs">LUNG</text>
<text transform="translate(19.9,740.1) rotate(-90)" font-size="11.7" fill="#222" text-anchor="middle" textLength="98.6" lengthAdjust="spacingAndGlyphs">BONE MARROW</text>
<text transform="translate(43.10,84.40) rotate(-90)" font-size="11.5" fill="#222" stroke="#222" stroke-width="0.2" text-anchor="middle" textLength="32.3" lengthAdjust="spacingAndGlyphs">−Log<tspan font-size="8.5" dy="2.6">10</tspan><tspan dy="-2.6" font-style="italic"> P</tspan></text>
<text transform="translate(35.20,247.30) rotate(-90)" font-size="11.5" fill="#222" stroke="#222" stroke-width="0.2" text-anchor="middle" textLength="32.3" lengthAdjust="spacingAndGlyphs">−Log<tspan font-size="8.5" dy="2.6">10</tspan><tspan dy="-2.6" font-style="italic"> P</tspan></text>
<text transform="translate(48.30,408.80) rotate(-90)" font-size="11.5" fill="#222" stroke="#222" stroke-width="0.2" text-anchor="middle" textLength="32.9" lengthAdjust="spacingAndGlyphs">−Log<tspan font-size="8.5" dy="2.6">10</tspan><tspan dy="-2.6" font-style="italic"> P</tspan></text>
<text transform="translate(43.10,575.00) rotate(-90)" font-size="11.5" fill="#222" stroke="#222" stroke-width="0.2" text-anchor="middle" textLength="33.4" lengthAdjust="spacingAndGlyphs">−Log<tspan font-size="8.5" dy="2.6">10</tspan><tspan dy="-2.6" font-style="italic"> P</tspan></text>
<text transform="translate(43.10,736.90) rotate(-90)" font-size="11.5" fill="#222" stroke="#222" stroke-width="0.2" text-anchor="middle" textLength="32.2" lengthAdjust="spacingAndGlyphs">−Log<tspan font-size="8.5" dy="2.6">10</tspan><tspan dy="-2.6" font-style="italic"> P</tspan></text>
<text transform="translate(299.60,84.70) rotate(-90)" font-size="11.5" fill="#222" stroke="#222" stroke-width="0.2" text-anchor="middle" textLength="32.8" lengthAdjust="spacingAndGlyphs">−Log<tspan font-size="8.5" dy="2.6">10</tspan><tspan dy="-2.6" font-style="italic"> P</tspan></text>
<text transform="translate(306.50,246.70) rotate(-90)" font-size="11.5" fill="#222" stroke="#222" stroke-width="0.2" text-anchor="middle" textLength="33.4" lengthAdjust="spacingAndGlyphs">−Log<tspan font-size="8.5" dy="2.6">10</tspan><tspan dy="-2.6" font-style="italic"> P</tspan></text>
<text transform="translate(306.50,408.50) rotate(-90)" font-size="11.5" fill="#222" stroke="#222" stroke-width="0.2" text-anchor="middle" textLength="34" lengthAdjust="spacingAndGlyphs">−Log<tspan font-size="8.5" dy="2.6">10</tspan><tspan dy="-2.6" font-style="italic"> P</tspan></text>
<text transform="translate(306.50,574.70) rotate(-90)" font-size="11.5" fill="#222" stroke="#222" stroke-width="0.2" text-anchor="middle" textLength="32.9" lengthAdjust="spacingAndGlyphs">−Log<tspan font-size="8.5" dy="2.6">10</tspan><tspan dy="-2.6" font-style="italic"> P</tspan></text>
<text transform="translate(301.30,736.20) rotate(-90)" font-size="11.5" fill="#222" stroke="#222" stroke-width="0.2" text-anchor="middle" textLength="33.5" lengthAdjust="spacingAndGlyphs">−Log<tspan font-size="8.5" dy="2.6">10</tspan><tspan dy="-2.6" font-style="italic"> P</tspan></text>
<text x="160.60" y="175.35" font-size="11.8" fill="#222" stroke="#222" stroke-width="0.25" text-anchor="middle" textLength="64.4" lengthAdjust="spacingAndGlyphs">Log<tspan font-size="8.5" dy="2.8">2</tspan><tspan dy="-2.8"> fold change</tspan></text>
<text x="159.03" y="337.60" font-size="11.8" fill="#222" stroke="#222" stroke-width="0.25" text-anchor="middle" textLength="64.4" lengthAdjust="spacingAndGlyphs">Log<tspan font-size="8.5" dy="2.8">2</tspan><tspan dy="-2.8"> fold change</tspan></text>
<text x="161.75" y="499.20" font-size="11.8" fill="#222" stroke="#222" stroke-width="0.25" text-anchor="middle" textLength="64.4" lengthAdjust="spacingAndGlyphs">Log<tspan font-size="8.5" dy="2.8">2</tspan><tspan dy="-2.8"> fold change</tspan></text>
<text x="160.70" y="665.60" font-size="11.8" fill="#222" stroke="#222" stroke-width="0.25" text-anchor="middle" textLength="64.4" lengthAdjust="spacingAndGlyphs">Log<tspan font-size="8.5" dy="2.8">2</tspan><tspan dy="-2.8"> fold change</tspan></text>
<text x="160.70" y="827.50" font-size="11.8" fill="#222" stroke="#222" stroke-width="0.25" text-anchor="middle" textLength="64.4" lengthAdjust="spacingAndGlyphs">Log<tspan font-size="8.5" dy="2.8">2</tspan><tspan dy="-2.8"> fold change</tspan></text>
<text x="416.70" y="175.30" font-size="11.8" fill="#222" stroke="#222" stroke-width="0.25" text-anchor="middle" textLength="64.4" lengthAdjust="spacingAndGlyphs">Log<tspan font-size="8.5" dy="2.8">2</tspan><tspan dy="-2.8"> fold change</tspan></text>
<text x="419.75" y="337.90" font-size="11.8" fill="#222" stroke="#222" stroke-width="0.25" text-anchor="middle" textLength="64.4" lengthAdjust="spacingAndGlyphs">Log<tspan font-size="8.5" dy="2.8">2</tspan><tspan dy="-2.8"> fold change</tspan></text>
<text x="419.75" y="499.80" font-size="11.8" fill="#222" stroke="#222" stroke-width="0.25" text-anchor="middle" textLength="64.4" lengthAdjust="spacingAndGlyphs">Log<tspan font-size="8.5" dy="2.8">2</tspan><tspan dy="-2.8"> fold change</tspan></text>
<text x="419.75" y="665.60" font-size="11.8" fill="#222" stroke="#222" stroke-width="0.25" text-anchor="middle" textLength="64.4" lengthAdjust="spacingAndGlyphs">Log<tspan font-size="8.5" dy="2.8">2</tspan><tspan dy="-2.8"> fold change</tspan></text>
<text x="416.70" y="827.40" font-size="11.8" fill="#222" stroke="#222" stroke-width="0.25" text-anchor="middle" textLength="64.4" lengthAdjust="spacingAndGlyphs">Log<tspan font-size="8.5" dy="2.8">2</tspan><tspan dy="-2.8"> fold change</tspan></text>
<text x="72.90" y="39.50" font-size="7.5" fill="#262626" textLength="89.0" lengthAdjust="spacingAndGlyphs">338 genes downregulated</text>
<text x="167.60" y="39.50" font-size="7.5" fill="#262626" textLength="82.2" lengthAdjust="spacingAndGlyphs">1765 genes upregulated</text>
<text x="73.00" y="200.50" font-size="7.5" fill="#262626" textLength="79.4" lengthAdjust="spacingAndGlyphs">38 genes downregulated</text>
<text x="168.00" y="200.50" font-size="7.5" fill="#262626" textLength="74.2" lengthAdjust="spacingAndGlyphs">29 genes upregulated</text>
<text x="77.50" y="354.80" font-size="7.5" fill="#262626" textLength="74.7" lengthAdjust="spacingAndGlyphs">1 gene downregulated</text>
<text x="178.90" y="354.80" font-size="7.5" fill="#262626" textLength="62.8" lengthAdjust="spacingAndGlyphs">1 gene upregulated</text>
<text x="74.40" y="520.00" font-size="7.5" fill="#262626" textLength="84.4" lengthAdjust="spacingAndGlyphs">49 genes downregulated</text>
<text x="170.50" y="520.00" font-size="7.5" fill="#262626" textLength="78.5" lengthAdjust="spacingAndGlyphs">142 genes upregulated</text>
<text x="75.50" y="692.90" font-size="7.5" fill="#262626" textLength="83.3" lengthAdjust="spacingAndGlyphs">13 genes downregulated</text>
<text x="173.00" y="692.90" font-size="7.5" fill="#262626" textLength="72.4" lengthAdjust="spacingAndGlyphs">61 genes upregulated</text>
<text x="331.30" y="42.50" font-size="7.5" fill="#262626" textLength="79.2" lengthAdjust="spacingAndGlyphs">4 genes downregulated</text>
<text x="427.80" y="42.50" font-size="7.5" fill="#262626" textLength="69.2" lengthAdjust="spacingAndGlyphs">3 genes upregulated</text>
<text x="334.20" y="200.70" font-size="7.5" fill="#262626" textLength="83.2" lengthAdjust="spacingAndGlyphs">18 genes downregulated</text>
<text x="433.50" y="200.70" font-size="7.5" fill="#262626" textLength="68.7" lengthAdjust="spacingAndGlyphs">6 genes upregulated</text>
<text x="334.10" y="354.60" font-size="7.5" fill="#262626" textLength="81.1" lengthAdjust="spacingAndGlyphs">5 genes down regulated</text>
<text x="431.00" y="354.60" font-size="7.5" fill="#262626" textLength="72.0" lengthAdjust="spacingAndGlyphs">4 genes up regulated</text>
<text x="334.90" y="519.90" font-size="7.5" fill="#262626" textLength="78.9" lengthAdjust="spacingAndGlyphs">7 genes downregulated</text>
<text x="434.60" y="519.90" font-size="7.5" fill="#262626" textLength="65.0" lengthAdjust="spacingAndGlyphs">1 gene upregulated</text>
<text x="428.70" y="693.50" font-size="7.5" fill="#262626" textLength="64.8" lengthAdjust="spacingAndGlyphs">1 gene upregulated</text>
<text x="181.90" y="54.20" font-size="6.0" fill="#2e2428" textLength="15.0" lengthAdjust="spacingAndGlyphs" stroke="#2e2428" stroke-width="0.15">Srxn1</text>
<text x="180.80" y="65.60" font-size="6.0" fill="#2e2428" textLength="18.6" lengthAdjust="spacingAndGlyphs" stroke="#2e2428" stroke-width="0.15">Hmox1</text>
<text x="203.80" y="70.20" font-size="6.0" fill="#2e2428" textLength="13.9" lengthAdjust="spacingAndGlyphs" stroke="#2e2428" stroke-width="0.15">Etf3b</text>
<text x="202.50" y="75.30" font-size="6.0" fill="#2e2428" textLength="20.5" lengthAdjust="spacingAndGlyphs" stroke="#2e2428" stroke-width="0.15">Hspa1b</text>
<text x="198.00" y="81.50" font-size="6.0" fill="#2e2428" textLength="12.3" lengthAdjust="spacingAndGlyphs" stroke="#2e2428" stroke-width="0.15">Ext3</text>
<text x="169.50" y="80.30" font-size="6.0" fill="#2e2428" textLength="17.5" lengthAdjust="spacingAndGlyphs" stroke="#2e2428" stroke-width="0.15">Ermap</text>
<text x="172.00" y="84.60" font-size="6.0" fill="#2e2428" textLength="17.8" lengthAdjust="spacingAndGlyphs" stroke="#2e2428" stroke-width="0.15">Txnrd1</text>
<text x="193.40" y="87.80" font-size="6.0" fill="#2e2428" textLength="16.9" lengthAdjust="spacingAndGlyphs" stroke="#2e2428" stroke-width="0.15">Hspb1</text>
<text x="172.00" y="91.80" font-size="6.0" fill="#2e2428" stroke="#2e2428" stroke-width="0.15">Sqstm1</text>
<text x="221.50" y="101.30" font-size="6.0" fill="#2e2428" textLength="14.5" lengthAdjust="spacingAndGlyphs" stroke="#2e2428" stroke-width="0.15">Fosl1</text>
<text x="199.00" y="102.80" font-size="6.0" fill="#2e2428" textLength="13.0" lengthAdjust="spacingAndGlyphs" stroke="#2e2428" stroke-width="0.15">Ppox</text>
<text x="186.00" y="111.60" font-size="6.0" fill="#2e2428" stroke="#2e2428" stroke-width="0.15">Lrrc</text>
<text x="190.00" y="116.40" font-size="6.0" fill="#2e2428" textLength="19.0" lengthAdjust="spacingAndGlyphs" stroke="#2e2428" stroke-width="0.15">Cdc180</text>
<text x="200.80" y="123.30" font-size="6.0" fill="#2e2428" stroke="#2e2428" stroke-width="0.15">Zic5</text>
<text x="143.00" y="109.70" font-size="6.0" fill="#2e2428" stroke="#2e2428" stroke-width="0.15">Med21</text>
<text x="144.00" y="114.60" font-size="6.0" fill="#2e2428" textLength="10.6" lengthAdjust="spacingAndGlyphs" stroke="#2e2428" stroke-width="0.15">Ncf1</text>
<text x="144.00" y="119.30" font-size="6.0" fill="#2e2428" stroke="#2e2428" stroke-width="0.15">N</text>
<text x="136.00" y="124.70" font-size="6.0" fill="#2e2428" stroke="#2e2428" stroke-width="0.15">Gpx3</text>
<text x="186.00" y="106.00" font-size="6.0" fill="#2e2428" textLength="10.0" lengthAdjust="spacingAndGlyphs" stroke="#2e2428" stroke-width="0.15">Ctsl</text>
<text x="157.40" y="215.60" font-size="6.0" fill="#2e2428" textLength="21.2" lengthAdjust="spacingAndGlyphs" stroke="#2e2428" stroke-width="0.15">Slc40a1</text>
<text x="142.30" y="250.60" font-size="6.0" fill="#2e2428" textLength="16.4" lengthAdjust="spacingAndGlyphs" stroke="#2e2428" stroke-width="0.15">Tppp3</text>
<text x="177.00" y="247.60" font-size="6.0" fill="#2e2428" textLength="19.0" lengthAdjust="spacingAndGlyphs" stroke="#2e2428" stroke-width="0.15">Hmox1</text>
<text x="141.30" y="262.20" font-size="6.0" fill="#2e2428" textLength="14.5" lengthAdjust="spacingAndGlyphs" stroke="#2e2428" stroke-width="0.15">Aplp1</text>
<text x="144.00" y="268.80" font-size="6.0" fill="#2e2428" textLength="9.0" lengthAdjust="spacingAndGlyphs" stroke="#2e2428" stroke-width="0.15">Mre</text>
<text x="134.60" y="274.20" font-size="6.0" fill="#2e2428" stroke="#2e2428" stroke-width="0.15">Alda</text>
<text x="141.30" y="279.40" font-size="6.0" fill="#2e2428" textLength="9.7" lengthAdjust="spacingAndGlyphs" stroke="#2e2428" stroke-width="0.15">Pfp</text>
<text x="112.50" y="284.60" font-size="6.0" fill="#2e2428" stroke="#2e2428" stroke-width="0.15">Npy</text>
<text x="188.50" y="269.60" font-size="6.0" fill="#2e2428" textLength="21.4" lengthAdjust="spacingAndGlyphs" stroke="#2e2428" stroke-width="0.15">Slc7a11</text>
<text x="189.00" y="274.60" font-size="6.0" fill="#2e2428" textLength="11.8" lengthAdjust="spacingAndGlyphs" stroke="#2e2428" stroke-width="0.15">Tsk1</text>
<text x="175.00" y="281.00" font-size="6.0" fill="#2e2428" textLength="17.3" lengthAdjust="spacingAndGlyphs" stroke="#2e2428" stroke-width="0.15">Runx3</text>
<text x="162.70" y="285.90" font-size="6.0" fill="#2e2428" textLength="19.0" lengthAdjust="spacingAndGlyphs" stroke="#2e2428" stroke-width="0.15">Zfp36l</text>
<text x="143.00" y="435.80" font-size="6.0" fill="#2e2428" textLength="13.0" lengthAdjust="spacingAndGlyphs" stroke="#2e2428" stroke-width="0.15">Zrn1</text>
<text x="200.80" y="436.80" font-size="6.0" fill="#2e2428" textLength="18.6" lengthAdjust="spacingAndGlyphs" stroke="#2e2428" stroke-width="0.15">Hmox1</text>
<text x="159.00" y="558.00" font-size="6.0" fill="#2e2428" textLength="13.5" lengthAdjust="spacingAndGlyphs" stroke="#2e2428" stroke-width="0.15">Ccn2</text>
<text x="173.50" y="572.00" font-size="6.0" fill="#2e2428" textLength="14.5" lengthAdjust="spacingAndGlyphs" stroke="#2e2428" stroke-width="0.15">Hif3a</text>
<text x="146.50" y="578.60" font-size="6.0" fill="#2e2428" textLength="14.5" lengthAdjust="spacingAndGlyphs" stroke="#2e2428" stroke-width="0.15">Apbr</text>
<text x="160.00" y="577.00" font-size="6.0" fill="#2e2428" stroke="#2e2428" stroke-width="0.15">Fos</text>
<text x="163.00" y="583.00" font-size="6.0" fill="#2e2428" stroke="#2e2428" stroke-width="0.15">Ctsk</text>
<text x="156.00" y="588.00" font-size="6.0" fill="#2e2428" stroke="#2e2428" stroke-width="0.15">Sl</text>
<text x="173.50" y="595.90" font-size="6.0" fill="#2e2428" stroke="#2e2428" stroke-width="0.15">36</text>
<text x="147.50" y="601.70" font-size="6.0" fill="#2e2428" stroke="#2e2428" stroke-width="0.15">Ln</text>
<text x="173.50" y="601.70" font-size="6.0" fill="#2e2428" textLength="15.5" lengthAdjust="spacingAndGlyphs" stroke="#2e2428" stroke-width="0.15">H1827</text>
<text x="145.00" y="606.00" font-size="6.0" fill="#2e2428" stroke="#2e2428" stroke-width="0.15">Pr</text>
<text x="112.00" y="610.40" font-size="6.0" fill="#2e2428" textLength="29.7" lengthAdjust="spacingAndGlyphs" stroke="#2e2428" stroke-width="0.15">Igkv14-126</text>
<text x="160.40" y="706.60" font-size="6.0" fill="#2e2428" textLength="16.9" lengthAdjust="spacingAndGlyphs" stroke="#2e2428" stroke-width="0.15">Fkbp5</text>
<text x="165.80" y="724.20" font-size="6.0" fill="#2e2428" textLength="13.4" lengthAdjust="spacingAndGlyphs" stroke="#2e2428" stroke-width="0.15">Ccn2</text>
<text x="168.70" y="750.40" font-size="6.0" fill="#2e2428" textLength="16.3" lengthAdjust="spacingAndGlyphs" stroke="#2e2428" stroke-width="0.15">Gpld1</text>
<text x="142.30" y="764.20" font-size="6.0" fill="#2e2428" textLength="18.1" lengthAdjust="spacingAndGlyphs" stroke="#2e2428" stroke-width="0.15">Cd101</text>
<text x="162.30" y="764.20" font-size="6.0" fill="#2e2428" textLength="16.0" lengthAdjust="spacingAndGlyphs" stroke="#2e2428" stroke-width="0.15">Mrgpr</text>
<text x="140.80" y="770.60" font-size="6.0" fill="#2e2428" textLength="21.2" lengthAdjust="spacingAndGlyphs" stroke="#2e2428" stroke-width="0.15">Gadd45g</text>
<text x="146.00" y="775.90" font-size="6.0" fill="#2e2428" textLength="11.0" lengthAdjust="spacingAndGlyphs" stroke="#2e2428" stroke-width="0.15">Vnn</text>
<text x="180.20" y="777.50" font-size="6.0" fill="#2e2428" textLength="23.1" lengthAdjust="spacingAndGlyphs" stroke="#2e2428" stroke-width="0.15">Gh8752</text>
<text x="143.70" y="783.60" font-size="6.0" fill="#2e2428" stroke="#2e2428" stroke-width="0.15">Sfr</text>
<text x="166.00" y="769.00" font-size="6.0" fill="#2e2428" stroke="#2e2428" stroke-width="0.15">Il1r2</text>
<text x="167.00" y="783.20" font-size="6.0" fill="#2e2428" textLength="13.0" lengthAdjust="spacingAndGlyphs" stroke="#2e2428" stroke-width="0.15">Pla01</text>
<text x="355.00" y="107.20" font-size="6.0" fill="#2e2428" textLength="13.8" lengthAdjust="spacingAndGlyphs" stroke="#2e2428" stroke-width="0.15">Smc2</text>
<text x="428.90" y="86.30" font-size="6.0" fill="#2e2428" textLength="15.0" lengthAdjust="spacingAndGlyphs" stroke="#2e2428" stroke-width="0.15">Hbb-x</text>
<text x="433.50" y="98.00" font-size="6.0" fill="#2e2428" textLength="13.1" lengthAdjust="spacingAndGlyphs" stroke="#2e2428" stroke-width="0.15">Snca</text>
<text x="396.00" y="120.70" font-size="6.0" fill="#2e2428" textLength="22.0" lengthAdjust="spacingAndGlyphs" stroke="#2e2428" stroke-width="0.15">Racgap1</text>
<text x="376.30" y="254.90" font-size="6.0" fill="#2e2428" textLength="13.5" lengthAdjust="spacingAndGlyphs" stroke="#2e2428" stroke-width="0.15">Cps1</text>
<text x="384.40" y="260.60" font-size="6.0" fill="#2e2428" textLength="12.1" lengthAdjust="spacingAndGlyphs" stroke="#2e2428" stroke-width="0.15">Arg1</text>
<text x="389.80" y="266.50" font-size="6.0" fill="#2e2428" textLength="10.8" lengthAdjust="spacingAndGlyphs" stroke="#2e2428" stroke-width="0.15">Ifit3</text>
<text x="381.70" y="271.40" font-size="6.0" fill="#2e2428" textLength="14.8" lengthAdjust="spacingAndGlyphs" stroke="#2e2428" stroke-width="0.15">Ctla2</text>
<text x="416.70" y="260.60" font-size="6.0" fill="#2e2428" textLength="28.3" lengthAdjust="spacingAndGlyphs" stroke="#2e2428" stroke-width="0.15">Hsp90aa1</text>
<text x="454.00" y="260.60" font-size="6.0" fill="#2e2428" textLength="11.2" lengthAdjust="spacingAndGlyphs" stroke="#2e2428" stroke-width="0.15">Klk1</text>
<text x="473.50" y="260.60" font-size="6.0" fill="#2e2428" textLength="18.0" lengthAdjust="spacingAndGlyphs" stroke="#2e2428" stroke-width="0.15">Cxcl15</text>
<text x="422.00" y="272.40" font-size="6.0" fill="#2e2428" textLength="13.6" lengthAdjust="spacingAndGlyphs" stroke="#2e2428" stroke-width="0.15">Cdr2</text>
<text x="453.00" y="272.70" font-size="6.0" fill="#2e2428" textLength="19.0" lengthAdjust="spacingAndGlyphs" stroke="#2e2428" stroke-width="0.15">Lama3</text>
<text x="330.80" y="384.20" font-size="6.0" fill="#2e2428" textLength="23.0" lengthAdjust="spacingAndGlyphs" stroke="#2e2428" stroke-width="0.15">Gm2436</text>
<text x="410.00" y="403.30" font-size="6.0" fill="#2e2428" textLength="13.0" lengthAdjust="spacingAndGlyphs" stroke="#2e2428" stroke-width="0.15">Clic6</text>
<text x="410.00" y="410.60" font-size="6.0" fill="#2e2428" textLength="14.6" lengthAdjust="spacingAndGlyphs" stroke="#2e2428" stroke-width="0.15">Sgo2</text>
<text x="403.80" y="415.90" font-size="6.0" fill="#2e2428" textLength="27.0" lengthAdjust="spacingAndGlyphs" stroke="#2e2428" stroke-width="0.15">Gm14837</text>
<text x="416.90" y="426.70" font-size="6.0" fill="#2e2428" textLength="13.9" lengthAdjust="spacingAndGlyphs" stroke="#2e2428" stroke-width="0.15">Deaf1</text>
<text x="437.00" y="426.70" font-size="6.0" fill="#2e2428" textLength="10.0" lengthAdjust="spacingAndGlyphs" stroke="#2e2428" stroke-width="0.15">Pzp</text>
<text x="403.80" y="434.40" font-size="6.0" fill="#2e2428" textLength="13.2" lengthAdjust="spacingAndGlyphs" stroke="#2e2428" stroke-width="0.15">Ccl9</text>
<text x="424.60" y="434.40" font-size="6.0" fill="#2e2428" textLength="14.6" lengthAdjust="spacingAndGlyphs" stroke="#2e2428" stroke-width="0.15">Tdo2</text>
<text x="393.80" y="552.70" font-size="6.0" fill="#2e2428" textLength="18.0" lengthAdjust="spacingAndGlyphs" stroke="#2e2428" stroke-width="0.15">Muc16</text>
<text x="396.00" y="578.50" font-size="6.0" fill="#2e2428" textLength="18.0" lengthAdjust="spacingAndGlyphs" stroke="#2e2428" stroke-width="0.15">Upk3b</text>
<text x="395.00" y="584.40" font-size="6.0" fill="#2e2428" textLength="15.8" lengthAdjust="spacingAndGlyphs" stroke="#2e2428" stroke-width="0.15">Lrrn4</text>
<text x="400.20" y="591.10" font-size="6.0" fill="#2e2428" textLength="18.0" lengthAdjust="spacingAndGlyphs" stroke="#2e2428" stroke-width="0.15">Rspo1</text>
<text x="396.00" y="599.20" font-size="6.0" fill="#2e2428" textLength="22.8" lengthAdjust="spacingAndGlyphs" stroke="#2e2428" stroke-width="0.15">Aldh1a2</text>
<text x="425.60" y="595.60" font-size="6.0" fill="#2e2428" textLength="13.7" lengthAdjust="spacingAndGlyphs" stroke="#2e2428" stroke-width="0.15">Vcan</text>
<text x="476.50" y="727.00" font-size="6.0" fill="#2e2428" textLength="27.0" lengthAdjust="spacingAndGlyphs" stroke="#2e2428" stroke-width="0.15">Gm20431</text>
<ellipse cx="243.8" cy="917.2" rx="52.5" ry="50.5" transform="rotate(0 243.8 917.2)" fill="#f8dcc4" fill-opacity="1"/>
<ellipse cx="255" cy="866.5" rx="52.5" ry="30.5" transform="rotate(0 255 866.5)" fill="#f8e0e6" fill-opacity="0.45"/>
<ellipse cx="206" cy="891" rx="32.6" ry="48" transform="rotate(4 206 891)" fill="#e4eef8" fill-opacity="0.5"/>
<ellipse cx="252.5" cy="966.5" rx="51.5" ry="36.4" transform="rotate(0 252.5 966.5)" fill="#fae4ec" fill-opacity="0.6"/>
<ellipse cx="289.5" cy="945.8" rx="33.3" ry="45.4" transform="rotate(2 289.5 945.8)" fill="#eef2ec" fill-opacity="0.7"/>
<ellipse cx="243.8" cy="917.2" rx="52.5" ry="50.5" transform="rotate(0 243.8 917.2)" fill="none" stroke="#cfa886" stroke-width="0.8"/>
<ellipse cx="255" cy="866.5" rx="52.5" ry="30.5" transform="rotate(0 255 866.5)" fill="none" stroke="#dcaab2" stroke-width="0.8"/>
<ellipse cx="206" cy="891" rx="32.6" ry="48" transform="rotate(4 206 891)" fill="none" stroke="#9ab6cc" stroke-width="0.8"/>
<ellipse cx="252.5" cy="966.5" rx="51.5" ry="36.4" transform="rotate(0 252.5 966.5)" fill="none" stroke="#e6b0bc" stroke-width="0.8"/>
<ellipse cx="289.5" cy="945.8" rx="33.3" ry="45.4" transform="rotate(2 289.5 945.8)" fill="none" stroke="#b0c0aa" stroke-width="0.8"/>
<text x="233.80" y="859.20" font-size="8.2" fill="#2a2a2a" textLength="61.6" lengthAdjust="spacingAndGlyphs">BONE MARROW</text>
<text x="180.00" y="884.30" font-size="8.2" fill="#2a2a2a" textLength="21.5" lengthAdjust="spacingAndGlyphs">LUNG</text>
<text x="236.90" y="918.20" font-size="8.2" fill="#2a2a2a" textLength="21.2" lengthAdjust="spacingAndGlyphs">LIVER</text>
<text x="292.40" y="941.80" font-size="8.2" fill="#2a2a2a" textLength="28.8" lengthAdjust="spacingAndGlyphs">KIDNEY</text>
<text x="234.70" y="980.80" font-size="8.2" fill="#2a2a2a" textLength="25.1" lengthAdjust="spacingAndGlyphs">HEART</text>
<text x="207.90" y="862.00" font-size="6.3" fill="#dc2f45" stroke="#dc2f45" stroke-width="0.15">Fkbp5</text>
<text x="220.00" y="880.40" font-size="6.3" fill="#dc2f45" stroke="#dc2f45" stroke-width="0.15">Ddit4</text>
<text x="238.70" y="878.00" font-size="6.3" fill="#dc2f45" stroke="#dc2f45" stroke-width="0.15">Il1r2</text>
<text x="252.70" y="878.00" font-size="6.3" fill="#dc2f45" stroke="#dc2f45" stroke-width="0.15">Socs3</text>
<text x="239.60" y="884.30" font-size="6.3" fill="#dc2f45" stroke="#dc2f45" stroke-width="0.15">Ccn1</text>
<text x="258.80" y="884.30" font-size="6.3" fill="#dc2f45" stroke="#dc2f45" stroke-width="0.15">Marco</text>
<text x="240.60" y="891.00" font-size="6.3" fill="#dc2f45" stroke="#dc2f45" stroke-width="0.15">Pdk4</text>
<text x="199.60" y="895.60" font-size="6.3" fill="#dc2f45" stroke="#dc2f45" stroke-width="0.15">Trp53inp1</text>
<text x="197.00" y="902.10" font-size="6.3" fill="#dc2f45" stroke="#dc2f45" stroke-width="0.15">Rasd1</text>
<text x="216.90" y="902.10" font-size="6.3" fill="#dc2f45" stroke="#dc2f45" stroke-width="0.15">F13a1</text>
<text x="193.50" y="908.60" font-size="6.3" fill="#dc2f45" stroke="#dc2f45" stroke-width="0.15">Mmp8</text>
<text x="212.60" y="908.60" font-size="6.3" fill="#2aa24a" stroke="#2aa24a" stroke-width="0.15">Klf15</text>
<text x="193.50" y="915.00" font-size="6.3" fill="#dc2f45" stroke="#dc2f45" stroke-width="0.15">Map3k6</text>
<text x="214.50" y="944.50" font-size="6.3" fill="#dc2f45" stroke="#dc2f45" stroke-width="0.15">Slc7a11</text>
<text x="238.00" y="944.50" font-size="6.3" fill="#dc2f45" stroke="#dc2f45" stroke-width="0.15">Cxcr2</text>
<text x="260.70" y="941.00" font-size="6.3" fill="#dc2f45" stroke="#dc2f45" stroke-width="0.15">Hmox1</text>
<text x="214.50" y="950.60" font-size="6.3" fill="#dc2f45" stroke="#dc2f45" stroke-width="0.15">Klk1</text>
<text x="229.00" y="950.60" font-size="6.3" fill="#2aa24a" stroke="#2aa24a" stroke-width="0.15">Ccdc120</text>
<text x="214.50" y="957.50" font-size="6.3" fill="#2aa24a" stroke="#2aa24a" stroke-width="0.15">Prph</text>
<text x="134.00" y="935.00" font-size="6" fill="#333" textLength="42.9" lengthAdjust="spacingAndGlyphs">Expression after</text>
<text x="134.00" y="941.40" font-size="6" fill="#333" textLength="42.0" lengthAdjust="spacingAndGlyphs">heme injection :</text>
<text x="134.00" y="947.80" font-size="6" fill="#e0405a" textLength="25.6" lengthAdjust="spacingAndGlyphs">Increased</text>
<text x="134.00" y="954.10" font-size="6" fill="#4cb86a" textLength="67.1" lengthAdjust="spacingAndGlyphs">Different between organs</text>
<text x="134.00" y="960.20" font-size="6" fill="#3aa0d8" textLength="28.7" lengthAdjust="spacingAndGlyphs">Decreased</text>
<circle cx="353.0" cy="915.6" r="3.2" fill="#111"/>
<circle cx="353.0" cy="931.9" r="3.2" fill="#1e90d0"/>
<circle cx="353.0" cy="948.3000000000001" r="3.2" fill="#d01020"/>
<circle cx="353.0" cy="964.3000000000001" r="3.2" fill="#1f9a4a"/>
<text x="360.80" y="918.80" font-size="9" fill="#222" textLength="12.7" lengthAdjust="spacingAndGlyphs">NS</text>
<text x="360.8" y="935.2" font-size="9" fill="#222" textLength="29.4" lengthAdjust="spacingAndGlyphs"><tspan font-style="italic">P</tspan>-value</text>
<text x="360.8" y="951.5" font-size="9" fill="#222" textLength="80.4" lengthAdjust="spacingAndGlyphs"><tspan font-style="italic">P</tspan>-value and log<tspan font-size="6.5" dy="2.2">2</tspan><tspan dy="-2.2"> FC</tspan></text>
<text x="360.8" y="967.5" font-size="9" fill="#222" textLength="33.8" lengthAdjust="spacingAndGlyphs">Log<tspan font-size="6.5" dy="2.2">2</tspan><tspan dy="-2.2"> FC</tspan></text>
<rect x="0.5" y="0.5" width="519" height="1011.5" fill="none" stroke="#1a1a1a" stroke-width="1.3"/>
</svg></body></html>
